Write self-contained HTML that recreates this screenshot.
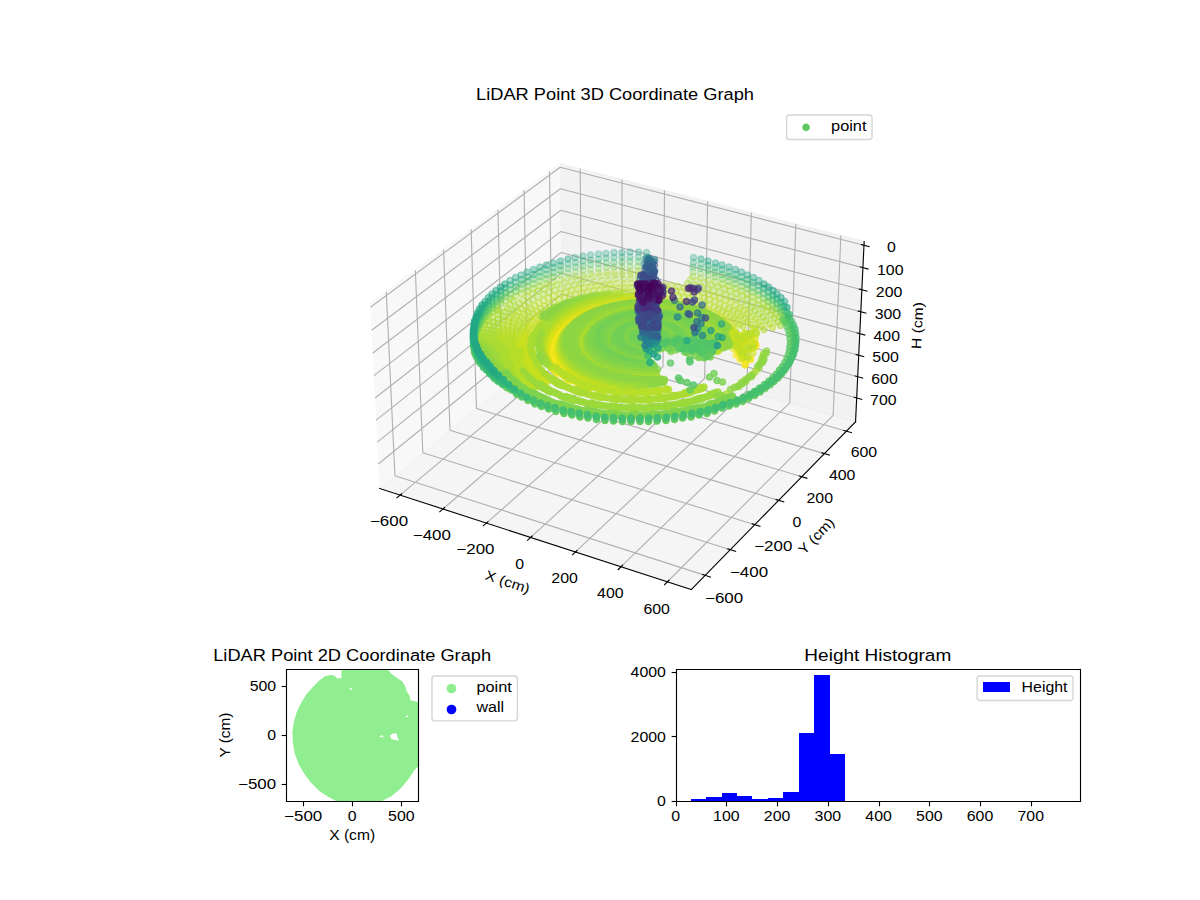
<!DOCTYPE html>
<html><head><meta charset="utf-8"><title>LiDAR Point Graphs</title><style>html,body{margin:0;padding:0;background:#fff;width:1200px;height:900px;overflow:hidden}
.a{fill:#aadc32;stroke:#aadc32;fill-opacity:0.3;stroke-opacity:0.3}
.b{fill:#7fd34e;stroke:#7fd34e;fill-opacity:0.3;stroke-opacity:0.3}
.c{fill:#50c46a;stroke:#50c46a;fill-opacity:0.3;stroke-opacity:0.3}
.d{fill:#32b67a;stroke:#32b67a;fill-opacity:0.3;stroke-opacity:0.3}
.e{fill:#22a785;stroke:#22a785;fill-opacity:0.3;stroke-opacity:0.3}
.f{fill:#b8de29;stroke:#b8de29;fill-opacity:0.3;stroke-opacity:0.3}
.g{fill:#50c46a;stroke:#50c46a;fill-opacity:0.4;stroke-opacity:0.4}
.h{fill:#b8de29;stroke:#b8de29;fill-opacity:0.4;stroke-opacity:0.4}
.i{fill:#aadc32;stroke:#aadc32;fill-opacity:0.4;stroke-opacity:0.4}
.j{fill:#7fd34e;stroke:#7fd34e;fill-opacity:0.4;stroke-opacity:0.4}
.k{fill:#22a785;stroke:#22a785;fill-opacity:0.4;stroke-opacity:0.4}
.l{fill:#32b67a;stroke:#32b67a;fill-opacity:0.4;stroke-opacity:0.4}
.m{fill:#c8e020;stroke:#c8e020;fill-opacity:0.4;stroke-opacity:0.4}
.n{fill:#d5e21a;stroke:#d5e21a;fill-opacity:0.4;stroke-opacity:0.4}
.o{fill:#e5e419;stroke:#e5e419;fill-opacity:0.4;stroke-opacity:0.4}
.p{fill:#fde725;stroke:#fde725;fill-opacity:0.4;stroke-opacity:0.4}
.q{fill:#9bd93c;stroke:#9bd93c;fill-opacity:0.4;stroke-opacity:0.4}
.r{fill:#f1e51d;stroke:#f1e51d;fill-opacity:0.4;stroke-opacity:0.4}
.s{fill:#8ed645;stroke:#8ed645;fill-opacity:0.4;stroke-opacity:0.4}
.t{fill:#277e8e;stroke:#277e8e;fill-opacity:0.4;stroke-opacity:0.4}
.u{fill:#73d056;stroke:#73d056;fill-opacity:0.4;stroke-opacity:0.4}
.v{fill:#29798e;stroke:#29798e;fill-opacity:0.4;stroke-opacity:0.4}
.w{fill:#2b748e;stroke:#2b748e;fill-opacity:0.4;stroke-opacity:0.4}
.x{fill:#9bd93c;stroke:#9bd93c;fill-opacity:0.5;stroke-opacity:0.5}
.y{fill:#8ed645;stroke:#8ed645;fill-opacity:0.5;stroke-opacity:0.5}
.z{fill:#2b748e;stroke:#2b748e;fill-opacity:0.5;stroke-opacity:0.5}
.A{fill:#d5e21a;stroke:#d5e21a;fill-opacity:0.5;stroke-opacity:0.5}
.B{fill:#aadc32;stroke:#aadc32;fill-opacity:0.5;stroke-opacity:0.5}
.C{fill:#c8e020;stroke:#c8e020;fill-opacity:0.5;stroke-opacity:0.5}
.D{fill:#f1e51d;stroke:#f1e51d;fill-opacity:0.5;stroke-opacity:0.5}
.E{fill:#fde725;stroke:#fde725;fill-opacity:0.5;stroke-opacity:0.5}
.F{fill:#50c46a;stroke:#50c46a;fill-opacity:0.5;stroke-opacity:0.5}
.G{fill:#e5e419;stroke:#e5e419;fill-opacity:0.5;stroke-opacity:0.5}
.H{fill:#b8de29;stroke:#b8de29;fill-opacity:0.5;stroke-opacity:0.5}
.I{fill:#2e6f8e;stroke:#2e6f8e;fill-opacity:0.5;stroke-opacity:0.5}
.J{fill:#306a8e;stroke:#306a8e;fill-opacity:0.5;stroke-opacity:0.5}
.K{fill:#32b67a;stroke:#32b67a;fill-opacity:0.5;stroke-opacity:0.5}
.L{fill:#7fd34e;stroke:#7fd34e;fill-opacity:0.5;stroke-opacity:0.5}
.M{fill:#67cc5c;stroke:#67cc5c;fill-opacity:0.5;stroke-opacity:0.5}
.N{fill:#22a785;stroke:#22a785;fill-opacity:0.5;stroke-opacity:0.5}
.O{fill:#44bf70;stroke:#44bf70;fill-opacity:0.5;stroke-opacity:0.5}
.P{fill:#2cb17e;stroke:#2cb17e;fill-opacity:0.5;stroke-opacity:0.5}
.Q{fill:#355f8d;stroke:#355f8d;fill-opacity:0.5;stroke-opacity:0.5}
.R{fill:#32648e;stroke:#32648e;fill-opacity:0.5;stroke-opacity:0.5}
.S{fill:#5ac864;stroke:#5ac864;fill-opacity:0.5;stroke-opacity:0.5}
.T{fill:#73d056;stroke:#73d056;fill-opacity:0.5;stroke-opacity:0.5}
.U{fill:#3a538b;stroke:#3a538b;fill-opacity:0.5;stroke-opacity:0.5}
.V{fill:#3bbb75;stroke:#3bbb75;fill-opacity:0.5;stroke-opacity:0.5}
.W{fill:#38598c;stroke:#38598c;fill-opacity:0.5;stroke-opacity:0.5}
.X{fill:#aadc32;stroke:#aadc32;fill-opacity:0.6;stroke-opacity:0.6}
.Y{fill:#7fd34e;stroke:#7fd34e;fill-opacity:0.6;stroke-opacity:0.6}
.Z{fill:#8ed645;stroke:#8ed645;fill-opacity:0.6;stroke-opacity:0.6}
.aa{fill:#73d056;stroke:#73d056;fill-opacity:0.6;stroke-opacity:0.6}
.ab{fill:#e5e419;stroke:#e5e419;fill-opacity:0.6;stroke-opacity:0.6}
.ac{fill:#9bd93c;stroke:#9bd93c;fill-opacity:0.6;stroke-opacity:0.6}
.ad{fill:#b8de29;stroke:#b8de29;fill-opacity:0.6;stroke-opacity:0.6}
.ae{fill:#d5e21a;stroke:#d5e21a;fill-opacity:0.6;stroke-opacity:0.6}
.af{fill:#3a538b;stroke:#3a538b;fill-opacity:0.6;stroke-opacity:0.6}
.ag{fill:#2cb17e;stroke:#2cb17e;fill-opacity:0.6;stroke-opacity:0.6}
.ah{fill:#5ac864;stroke:#5ac864;fill-opacity:0.6;stroke-opacity:0.6}
.ai{fill:#fde725;stroke:#fde725;fill-opacity:0.6;stroke-opacity:0.6}
.aj{fill:#c8e020;stroke:#c8e020;fill-opacity:0.6;stroke-opacity:0.6}
.ak{fill:#25ac82;stroke:#25ac82;fill-opacity:0.6;stroke-opacity:0.6}
.al{fill:#355f8d;stroke:#355f8d;fill-opacity:0.6;stroke-opacity:0.6}
.am{fill:#f1e51d;stroke:#f1e51d;fill-opacity:0.6;stroke-opacity:0.6}
.an{fill:#22a785;stroke:#22a785;fill-opacity:0.6;stroke-opacity:0.6}
.ao{fill:#306a8e;stroke:#306a8e;fill-opacity:0.6;stroke-opacity:0.6}
.ap{fill:#3d4d8a;stroke:#3d4d8a;fill-opacity:0.6;stroke-opacity:0.6}
.aq{fill:#67cc5c;stroke:#67cc5c;fill-opacity:0.6;stroke-opacity:0.6}
.ar{fill:#44bf70;stroke:#44bf70;fill-opacity:0.6;stroke-opacity:0.6}
.as{fill:#38598c;stroke:#38598c;fill-opacity:0.6;stroke-opacity:0.6}
.at{fill:#3bbb75;stroke:#3bbb75;fill-opacity:0.6;stroke-opacity:0.6}
.au{fill:#32b67a;stroke:#32b67a;fill-opacity:0.6;stroke-opacity:0.6}
.av{fill:#3f4788;stroke:#3f4788;fill-opacity:0.6;stroke-opacity:0.6}
.aw{fill:#50c46a;stroke:#50c46a;fill-opacity:0.6;stroke-opacity:0.6}
.ax{fill:#424186;stroke:#424186;fill-opacity:0.6;stroke-opacity:0.6}
.ay{fill:#2e6f8e;stroke:#2e6f8e;fill-opacity:0.6;stroke-opacity:0.6}
.az{fill:#443a83;stroke:#443a83;fill-opacity:0.6;stroke-opacity:0.6}
.aA{fill:#463480;stroke:#463480;fill-opacity:0.6;stroke-opacity:0.6}
.aB{fill:#1fa287;stroke:#1fa287;fill-opacity:0.6;stroke-opacity:0.6}
.aC{fill:#472d7b;stroke:#472d7b;fill-opacity:0.6;stroke-opacity:0.6}
.aD{fill:#7fd34e;stroke:#7fd34e;fill-opacity:0.7;stroke-opacity:0.7}
.aE{fill:#c8e020;stroke:#c8e020;fill-opacity:0.7;stroke-opacity:0.7}
.aF{fill:#aadc32;stroke:#aadc32;fill-opacity:0.7;stroke-opacity:0.7}
.aG{fill:#9bd93c;stroke:#9bd93c;fill-opacity:0.7;stroke-opacity:0.7}
.aH{fill:#73d056;stroke:#73d056;fill-opacity:0.7;stroke-opacity:0.7}
.aI{fill:#424186;stroke:#424186;fill-opacity:0.7;stroke-opacity:0.7}
.aJ{fill:#50c46a;stroke:#50c46a;fill-opacity:0.7;stroke-opacity:0.7}
.aK{fill:#f1e51d;stroke:#f1e51d;fill-opacity:0.7;stroke-opacity:0.7}
.aL{fill:#472d7b;stroke:#472d7b;fill-opacity:0.7;stroke-opacity:0.7}
.aM{fill:#67cc5c;stroke:#67cc5c;fill-opacity:0.7;stroke-opacity:0.7}
.aN{fill:#3bbb75;stroke:#3bbb75;fill-opacity:0.7;stroke-opacity:0.7}
.aO{fill:#b8de29;stroke:#b8de29;fill-opacity:0.7;stroke-opacity:0.7}
.aP{fill:#3d4d8a;stroke:#3d4d8a;fill-opacity:0.7;stroke-opacity:0.7}
.aQ{fill:#8ed645;stroke:#8ed645;fill-opacity:0.7;stroke-opacity:0.7}
.aR{fill:#5ac864;stroke:#5ac864;fill-opacity:0.7;stroke-opacity:0.7}
.aS{fill:#443a83;stroke:#443a83;fill-opacity:0.7;stroke-opacity:0.7}
.aT{fill:#fde725;stroke:#fde725;fill-opacity:0.7;stroke-opacity:0.7}
.aU{fill:#e5e419;stroke:#e5e419;fill-opacity:0.7;stroke-opacity:0.7}
.aV{fill:#306a8e;stroke:#306a8e;fill-opacity:0.7;stroke-opacity:0.7}
.aW{fill:#3f4788;stroke:#3f4788;fill-opacity:0.7;stroke-opacity:0.7}
.aX{fill:#32b67a;stroke:#32b67a;fill-opacity:0.7;stroke-opacity:0.7}
.aY{fill:#d5e21a;stroke:#d5e21a;fill-opacity:0.7;stroke-opacity:0.7}
.aZ{fill:#482677;stroke:#482677;fill-opacity:0.7;stroke-opacity:0.7}
.ba{fill:#2cb17e;stroke:#2cb17e;fill-opacity:0.7;stroke-opacity:0.7}
.bb{fill:#25ac82;stroke:#25ac82;fill-opacity:0.7;stroke-opacity:0.7}
.bc{fill:#481f70;stroke:#481f70;fill-opacity:0.7;stroke-opacity:0.7}
.bd{fill:#22a785;stroke:#22a785;fill-opacity:0.7;stroke-opacity:0.7}
.be{fill:#25838e;stroke:#25838e;fill-opacity:0.7;stroke-opacity:0.7}
.bf{fill:#38598c;stroke:#38598c;fill-opacity:0.7;stroke-opacity:0.7}
.bg{fill:#3a538b;stroke:#3a538b;fill-opacity:0.7;stroke-opacity:0.7}
.bh{fill:#48186a;stroke:#48186a;fill-opacity:0.7;stroke-opacity:0.7}
.bi{fill:#44bf70;stroke:#44bf70;fill-opacity:0.7;stroke-opacity:0.7}
.bj{fill:#2b748e;stroke:#2b748e;fill-opacity:0.7;stroke-opacity:0.7}
.bk{fill:#471063;stroke:#471063;fill-opacity:0.7;stroke-opacity:0.7}
.bl{fill:#355f8d;stroke:#355f8d;fill-opacity:0.7;stroke-opacity:0.7}
.bm{fill:#463480;stroke:#463480;fill-opacity:0.7;stroke-opacity:0.7}
.bn{fill:#2e6f8e;stroke:#2e6f8e;fill-opacity:0.7;stroke-opacity:0.7}
.bo{fill:#1f988b;stroke:#1f988b;fill-opacity:0.7;stroke-opacity:0.7}
.bp{fill:#46085c;stroke:#46085c;fill-opacity:0.7;stroke-opacity:0.7}
.bq{fill:#32648e;stroke:#32648e;fill-opacity:0.7;stroke-opacity:0.7}
.br{fill:#1fa287;stroke:#1fa287;fill-opacity:0.7;stroke-opacity:0.7}
.bs{fill:#440154;stroke:#440154;fill-opacity:0.7;stroke-opacity:0.7}
.bt{fill:#29798e;stroke:#29798e;fill-opacity:0.7;stroke-opacity:0.7}
.bu{fill:#23888e;stroke:#23888e;fill-opacity:0.7;stroke-opacity:0.7}
.bv{fill:#277e8e;stroke:#277e8e;fill-opacity:0.7;stroke-opacity:0.7}
.bw{fill:#218e8d;stroke:#218e8d;fill-opacity:0.7;stroke-opacity:0.7}
.bx{fill:#20928c;stroke:#20928c;fill-opacity:0.7;stroke-opacity:0.7}
.by{fill:#8ed645;stroke:#8ed645;fill-opacity:0.8;stroke-opacity:0.8}
.bz{fill:#b8de29;stroke:#b8de29;fill-opacity:0.8;stroke-opacity:0.8}
.bA{fill:#3f4788;stroke:#3f4788;fill-opacity:0.8;stroke-opacity:0.8}
.bB{fill:#aadc32;stroke:#aadc32;fill-opacity:0.8;stroke-opacity:0.8}
.bC{fill:#c8e020;stroke:#c8e020;fill-opacity:0.8;stroke-opacity:0.8}
.bD{fill:#22a785;stroke:#22a785;fill-opacity:0.8;stroke-opacity:0.8}
.bE{fill:#306a8e;stroke:#306a8e;fill-opacity:0.8;stroke-opacity:0.8}
.bF{fill:#23888e;stroke:#23888e;fill-opacity:0.8;stroke-opacity:0.8}
.bG{fill:#48186a;stroke:#48186a;fill-opacity:0.8;stroke-opacity:0.8}
.bH{fill:#e5e419;stroke:#e5e419;fill-opacity:0.8;stroke-opacity:0.8}
.bI{fill:#9bd93c;stroke:#9bd93c;fill-opacity:0.8;stroke-opacity:0.8}
.bJ{fill:#3a538b;stroke:#3a538b;fill-opacity:0.8;stroke-opacity:0.8}
.bK{fill:#1f988b;stroke:#1f988b;fill-opacity:0.8;stroke-opacity:0.8}
.bL{fill:#50c46a;stroke:#50c46a;fill-opacity:0.8;stroke-opacity:0.8}
.bM{fill:#f1e51d;stroke:#f1e51d;fill-opacity:0.8;stroke-opacity:0.8}
.bN{fill:#7fd34e;stroke:#7fd34e;fill-opacity:0.8;stroke-opacity:0.8}
.bO{fill:#3d4d8a;stroke:#3d4d8a;fill-opacity:0.8;stroke-opacity:0.8}
.bP{fill:#277e8e;stroke:#277e8e;fill-opacity:0.8;stroke-opacity:0.8}
.bQ{fill:#471063;stroke:#471063;fill-opacity:0.8;stroke-opacity:0.8}
.bR{fill:#5ac864;stroke:#5ac864;fill-opacity:0.8;stroke-opacity:0.8}
.bS{fill:#1e9d89;stroke:#1e9d89;fill-opacity:0.8;stroke-opacity:0.8}
.bT{fill:#44bf70;stroke:#44bf70;fill-opacity:0.8;stroke-opacity:0.8}
.bU{fill:#46085c;stroke:#46085c;fill-opacity:0.8;stroke-opacity:0.8}
.bV{fill:#2b748e;stroke:#2b748e;fill-opacity:0.8;stroke-opacity:0.8}
.bW{fill:#355f8d;stroke:#355f8d;fill-opacity:0.8;stroke-opacity:0.8}
.bX{fill:#3bbb75;stroke:#3bbb75;fill-opacity:0.8;stroke-opacity:0.8}
.bY{fill:#73d056;stroke:#73d056;fill-opacity:0.8;stroke-opacity:0.8}
.bZ{fill:#29798e;stroke:#29798e;fill-opacity:0.8;stroke-opacity:0.8}
.ca{fill:#32b67a;stroke:#32b67a;fill-opacity:0.8;stroke-opacity:0.8}
.cb{fill:#67cc5c;stroke:#67cc5c;fill-opacity:0.8;stroke-opacity:0.8}
.cc{fill:#2e6f8e;stroke:#2e6f8e;fill-opacity:0.8;stroke-opacity:0.8}
.cd{fill:#2cb17e;stroke:#2cb17e;fill-opacity:0.8;stroke-opacity:0.8}
.ce{fill:#38598c;stroke:#38598c;fill-opacity:0.8;stroke-opacity:0.8}
.cf{fill:#25ac82;stroke:#25ac82;fill-opacity:0.8;stroke-opacity:0.8}
.cg{fill:#32648e;stroke:#32648e;fill-opacity:0.8;stroke-opacity:0.8}
.ch{fill:#aadc32;stroke:#aadc32;fill-opacity:0.9;stroke-opacity:0.9}
.ci{fill:#9bd93c;stroke:#9bd93c;fill-opacity:0.9;stroke-opacity:0.9}
.cj{fill:#50c46a;stroke:#50c46a;fill-opacity:0.9;stroke-opacity:0.9}
.ck{fill:#7fd34e;stroke:#7fd34e;fill-opacity:0.9;stroke-opacity:0.9}
.cl{fill:#8ed645;stroke:#8ed645;fill-opacity:0.9;stroke-opacity:0.9}
.cm{fill:#67cc5c;stroke:#67cc5c;fill-opacity:0.9;stroke-opacity:0.9}
.cn{fill:#44bf70;stroke:#44bf70;fill-opacity:0.9;stroke-opacity:0.9}
.co{fill:#3bbb75;stroke:#3bbb75;fill-opacity:0.9;stroke-opacity:0.9}
.cp{fill:#32b67a;stroke:#32b67a;fill-opacity:0.9;stroke-opacity:0.9}
.cq{fill:#5ac864;stroke:#5ac864;fill-opacity:0.9;stroke-opacity:0.9}
.cr{fill:#2cb17e;stroke:#2cb17e;fill-opacity:0.9;stroke-opacity:0.9}
.cs{fill:#5ac864;stroke:#5ac864;fill-opacity:1.0;stroke-opacity:1.0}
.ct{fill:#67cc5c;stroke:#67cc5c;fill-opacity:1.0;stroke-opacity:1.0}
.cu{fill:#44bf70;stroke:#44bf70;fill-opacity:1.0;stroke-opacity:1.0}
.cv{fill:#50c46a;stroke:#50c46a;fill-opacity:1.0;stroke-opacity:1.0}</style></head><body>
<svg width="1200" height="900" viewBox="0 0 864 648" style="display:block">
<defs>
<style type="text/css">*{stroke-linejoin: round; stroke-linecap: butt}</style>
</defs>
<g id="figure_1">
<g id="patch_1">
<path d="M 0.00 648.00 L 864.00 648.00 L 864.00 0.00 L 0.00 0.00 z" style="fill: #ffffff"/>
</g>
<g id="patch_2">
<path d="M 252.72 457.92 L 632.88 457.92 L 632.88 77.76 L 252.72 77.76 z" style="fill: #ffffff"/>
</g>
<g id="pane3d_1">
<g id="patch_3">
<path d="M 266.60 218.44 
L 403.28 117.81 
L 404.79 243.12 
L 273.31 351.69 
" style="fill: #f2f2f2; opacity: 0.5; stroke: #f2f2f2; stroke-linejoin: miter"/>
</g>
</g>
<g id="pane3d_2">
<g id="patch_4">
<path d="M 403.28 117.81 
L 622.19 173.89 
L 615.99 303.72 
L 404.79 243.12 
" style="fill: #e6e6e6; opacity: 0.5; stroke: #e6e6e6; stroke-linejoin: miter"/>
</g>
</g>
<g id="pane3d_3">
<g id="patch_5">
<path d="M 273.31 351.69 
L 497.78 424.44 
L 615.99 303.72 
L 404.79 243.12 
" style="fill: #ececec; opacity: 0.5; stroke: #ececec; stroke-linejoin: miter"/>
</g>
</g>
<g id="grid3d_1">
<g id="Line3DCollection_1">
<path d="M 288.08 356.48 
L 418.76 247.13 
L 417.73 121.51 
" style="fill: none; stroke: #b0b0b0; stroke-width: 0.8"/>
<path d="M 318.91 366.47 
L 447.86 255.48 
L 447.86 129.23 
" style="fill: none; stroke: #b0b0b0; stroke-width: 0.8"/>
<path d="M 350.22 376.62 
L 477.39 263.95 
L 478.44 137.06 
" style="fill: none; stroke: #b0b0b0; stroke-width: 0.8"/>
<path d="M 382.03 386.93 
L 507.34 272.54 
L 509.48 145.01 
" style="fill: none; stroke: #b0b0b0; stroke-width: 0.8"/>
<path d="M 414.34 397.40 
L 537.73 281.26 
L 540.98 153.08 
" style="fill: none; stroke: #b0b0b0; stroke-width: 0.8"/>
<path d="M 447.18 408.04 
L 568.57 290.11 
L 572.97 161.28 
" style="fill: none; stroke: #b0b0b0; stroke-width: 0.8"/>
<path d="M 480.55 418.86 
L 599.86 299.09 
L 605.44 169.60 
" style="fill: none; stroke: #b0b0b0; stroke-width: 0.8"/>
</g>
</g>
<g id="grid3d_2">
<g id="Line3DCollection_2">
<path d="M 278.12 209.96 
L 284.36 342.57 
L 507.76 414.25 
" style="fill: none; stroke: #b0b0b0; stroke-width: 0.8"/>
<path d="M 299.04 194.56 
L 304.43 325.99 
L 525.87 395.76 
" style="fill: none; stroke: #b0b0b0; stroke-width: 0.8"/>
<path d="M 319.40 179.57 
L 323.99 309.84 
L 543.48 377.76 
" style="fill: none; stroke: #b0b0b0; stroke-width: 0.8"/>
<path d="M 339.22 164.97 
L 343.05 294.10 
L 560.63 360.26 
" style="fill: none; stroke: #b0b0b0; stroke-width: 0.8"/>
<path d="M 358.52 150.76 
L 361.63 278.76 
L 577.32 343.21 
" style="fill: none; stroke: #b0b0b0; stroke-width: 0.8"/>
<path d="M 377.32 136.92 
L 379.75 263.79 
L 593.57 326.62 
" style="fill: none; stroke: #b0b0b0; stroke-width: 0.8"/>
<path d="M 395.65 123.43 
L 397.43 249.20 
L 609.40 310.45 
" style="fill: none; stroke: #b0b0b0; stroke-width: 0.8"/>
</g>
</g>
<g id="grid3d_3">
<g id="Line3DCollection_3">
<path d="M 622.06 176.58 
L 403.31 120.40 
L 266.74 221.20 
" style="fill: none; stroke: #b0b0b0; stroke-width: 0.8"/>
<path d="M 621.29 192.70 
L 403.50 135.93 
L 267.57 237.77 
" style="fill: none; stroke: #b0b0b0; stroke-width: 0.8"/>
<path d="M 620.53 208.68 
L 403.69 151.34 
L 268.40 254.18 
" style="fill: none; stroke: #b0b0b0; stroke-width: 0.8"/>
<path d="M 619.77 224.51 
L 403.87 166.62 
L 269.22 270.45 
" style="fill: none; stroke: #b0b0b0; stroke-width: 0.8"/>
<path d="M 619.02 240.21 
L 404.05 181.77 
L 270.03 286.56 
" style="fill: none; stroke: #b0b0b0; stroke-width: 0.8"/>
<path d="M 618.28 255.78 
L 404.23 196.79 
L 270.83 302.53 
" style="fill: none; stroke: #b0b0b0; stroke-width: 0.8"/>
<path d="M 617.54 271.20 
L 404.41 211.69 
L 271.63 318.36 
" style="fill: none; stroke: #b0b0b0; stroke-width: 0.8"/>
<path d="M 616.81 286.50 
L 404.59 226.47 
L 272.42 334.04 
" style="fill: none; stroke: #b0b0b0; stroke-width: 0.8"/>
</g>
</g>
<g id="axis3d_1">
<g id="line2d_1">
<path d="M 273.31 351.69 
L 497.78 424.44 
" style="fill: none; stroke: #000000; stroke-width: 0.8; stroke-linecap: square"/>
</g>
<g id="xtick_1">
<g id="line2d_2">
<path d="M 289.22 355.52 
L 285.79 358.40 
" style="fill: none; stroke: #000000; stroke-width: 0.8; stroke-linecap: square"/>
</g>
<g id="text_1">
<text style="font-size: 10px; font-family: 'Liberation Sans', sans-serif; text-anchor: middle" x="280.10" y="378.54" transform="rotate(-0 280.10 378.54)" textLength="27.47" lengthAdjust="spacingAndGlyphs">−600</text>
</g>
</g>
<g id="xtick_2">
<g id="line2d_3">
<path d="M 320.04 365.50 
L 316.65 368.42 
" style="fill: none; stroke: #000000; stroke-width: 0.8; stroke-linecap: square"/>
</g>
<g id="text_2">
<text style="font-size: 10px; font-family: 'Liberation Sans', sans-serif; text-anchor: middle" x="310.97" y="388.68" transform="rotate(-0 310.97 388.68)" textLength="27.47" lengthAdjust="spacingAndGlyphs">−400</text>
</g>
</g>
<g id="xtick_3">
<g id="line2d_4">
<path d="M 351.33 375.63 
L 347.99 378.60 
" style="fill: none; stroke: #000000; stroke-width: 0.8; stroke-linecap: square"/>
</g>
<g id="text_3">
<text style="font-size: 10px; font-family: 'Liberation Sans', sans-serif; text-anchor: middle" x="342.32" y="398.98" transform="rotate(-0 342.32 398.98)" textLength="27.47" lengthAdjust="spacingAndGlyphs">−200</text>
</g>
</g>
<g id="xtick_4">
<g id="line2d_5">
<path d="M 383.12 385.93 
L 379.83 388.94 
" style="fill: none; stroke: #000000; stroke-width: 0.8; stroke-linecap: square"/>
</g>
<g id="text_4">
<text style="font-size: 10px; font-family: 'Liberation Sans', sans-serif; text-anchor: middle" x="374.17" y="409.44" transform="rotate(-0 374.17 409.44)" textLength="6.36" lengthAdjust="spacingAndGlyphs">0</text>
</g>
</g>
<g id="xtick_5">
<g id="line2d_6">
<path d="M 415.43 396.38 
L 412.18 399.44 
" style="fill: none; stroke: #000000; stroke-width: 0.8; stroke-linecap: square"/>
</g>
<g id="text_5">
<text style="font-size: 10px; font-family: 'Liberation Sans', sans-serif; text-anchor: middle" x="406.53" y="420.07" transform="rotate(-0 406.53 420.07)" textLength="19.09" lengthAdjust="spacingAndGlyphs">200</text>
</g>
</g>
<g id="xtick_6">
<g id="line2d_7">
<path d="M 448.25 407.01 
L 445.05 410.12 
" style="fill: none; stroke: #000000; stroke-width: 0.8; stroke-linecap: square"/>
</g>
<g id="text_6">
<text style="font-size: 10px; font-family: 'Liberation Sans', sans-serif; text-anchor: middle" x="439.42" y="430.87" transform="rotate(-0 439.42 430.87)" textLength="19.09" lengthAdjust="spacingAndGlyphs">400</text>
</g>
</g>
<g id="xtick_7">
<g id="line2d_8">
<path d="M 481.60 417.81 
L 478.45 420.97 
" style="fill: none; stroke: #000000; stroke-width: 0.8; stroke-linecap: square"/>
</g>
<g id="text_7">
<text style="font-size: 10px; font-family: 'Liberation Sans', sans-serif; text-anchor: middle" x="472.84" y="441.84" transform="rotate(-0 472.84 441.84)" textLength="19.09" lengthAdjust="spacingAndGlyphs">600</text>
</g>
</g>
<g id="text_8">
<text style="font-size: 10px; font-family: 'Liberation Sans', sans-serif; text-anchor: middle" x="364.43" y="422.23" transform="rotate(-342.04 364.43 422.23)" textLength="33.07" lengthAdjust="spacingAndGlyphs">X (cm)</text>
</g>
</g>
<g id="axis3d_2">
<g id="line2d_9">
<path d="M 615.99 303.72 
L 497.78 424.44 
" style="fill: none; stroke: #000000; stroke-width: 0.8; stroke-linecap: square"/>
</g>
<g id="xtick_8">
<g id="line2d_10">
<path d="M 505.87 413.65 
L 511.54 415.46 
" style="fill: none; stroke: #000000; stroke-width: 0.8; stroke-linecap: square"/>
</g>
<g id="text_9">
<text style="font-size: 10px; font-family: 'Liberation Sans', sans-serif; text-anchor: middle" x="521.34" y="433.94" transform="rotate(-0 521.34 433.94)" textLength="27.47" lengthAdjust="spacingAndGlyphs">−600</text>
</g>
</g>
<g id="xtick_9">
<g id="line2d_11">
<path d="M 524.00 395.17 
L 529.61 396.94 
" style="fill: none; stroke: #000000; stroke-width: 0.8; stroke-linecap: square"/>
</g>
<g id="text_10">
<text style="font-size: 10px; font-family: 'Liberation Sans', sans-serif; text-anchor: middle" x="539.29" y="415.26" transform="rotate(-0 539.29 415.26)" textLength="27.47" lengthAdjust="spacingAndGlyphs">−400</text>
</g>
</g>
<g id="xtick_10">
<g id="line2d_12">
<path d="M 541.63 377.19 
L 547.19 378.91 
" style="fill: none; stroke: #000000; stroke-width: 0.8; stroke-linecap: square"/>
</g>
<g id="text_11">
<text style="font-size: 10px; font-family: 'Liberation Sans', sans-serif; text-anchor: middle" x="556.74" y="397.08" transform="rotate(-0 556.74 397.08)" textLength="27.47" lengthAdjust="spacingAndGlyphs">−200</text>
</g>
</g>
<g id="xtick_11">
<g id="line2d_13">
<path d="M 558.79 359.70 
L 564.30 361.37 
" style="fill: none; stroke: #000000; stroke-width: 0.8; stroke-linecap: square"/>
</g>
<g id="text_12">
<text style="font-size: 10px; font-family: 'Liberation Sans', sans-serif; text-anchor: middle" x="573.72" y="379.40" transform="rotate(-0 573.72 379.40)" textLength="6.36" lengthAdjust="spacingAndGlyphs">0</text>
</g>
</g>
<g id="xtick_12">
<g id="line2d_14">
<path d="M 575.50 342.67 
L 580.95 344.30 
" style="fill: none; stroke: #000000; stroke-width: 0.8; stroke-linecap: square"/>
</g>
<g id="text_13">
<text style="font-size: 10px; font-family: 'Liberation Sans', sans-serif; text-anchor: middle" x="590.25" y="362.19" transform="rotate(-0 590.25 362.19)" textLength="19.09" lengthAdjust="spacingAndGlyphs">200</text>
</g>
</g>
<g id="xtick_13">
<g id="line2d_15">
<path d="M 591.77 326.09 
L 597.17 327.68 
" style="fill: none; stroke: #000000; stroke-width: 0.8; stroke-linecap: square"/>
</g>
<g id="text_14">
<text style="font-size: 10px; font-family: 'Liberation Sans', sans-serif; text-anchor: middle" x="606.35" y="345.43" transform="rotate(-0 606.35 345.43)" textLength="19.09" lengthAdjust="spacingAndGlyphs">400</text>
</g>
</g>
<g id="xtick_14">
<g id="line2d_16">
<path d="M 607.61 309.93 
L 612.97 311.48 
" style="fill: none; stroke: #000000; stroke-width: 0.8; stroke-linecap: square"/>
</g>
<g id="text_15">
<text style="font-size: 10px; font-family: 'Liberation Sans', sans-serif; text-anchor: middle" x="622.03" y="329.10" transform="rotate(-0 622.03 329.10)" textLength="19.09" lengthAdjust="spacingAndGlyphs">600</text>
</g>
</g>
<g id="text_16">
<text style="font-size: 10px; font-family: 'Liberation Sans', sans-serif; text-anchor: middle" x="590.14" y="388.33" transform="rotate(-45.60 590.14 388.33)" textLength="32.33" lengthAdjust="spacingAndGlyphs">Y (cm)</text>
</g>
</g>
<g id="axis3d_3">
<g id="line2d_17">
<path d="M 615.99 303.72 
L 622.19 173.89 
" style="fill: none; stroke: #000000; stroke-width: 0.8; stroke-linecap: square"/>
</g>
<g id="xtick_15">
<g id="line2d_18">
<path d="M 620.22 176.11 
L 625.76 177.53 
" style="fill: none; stroke: #000000; stroke-width: 0.8; stroke-linecap: square"/>
</g>
<g id="text_17">
<text style="font-size: 10px; font-family: 'Liberation Sans', sans-serif; text-anchor: middle" x="641.85" y="181.69" transform="rotate(-0 641.85 181.69)" textLength="6.36" lengthAdjust="spacingAndGlyphs">0</text>
</g>
</g>
<g id="xtick_16">
<g id="line2d_19">
<path d="M 619.46 192.22 
L 624.97 193.66 
" style="fill: none; stroke: #000000; stroke-width: 0.8; stroke-linecap: square"/>
</g>
<g id="text_18">
<text style="font-size: 10px; font-family: 'Liberation Sans', sans-serif; text-anchor: middle" x="641.00" y="197.79" transform="rotate(-0 641.00 197.79)" textLength="19.09" lengthAdjust="spacingAndGlyphs">100</text>
</g>
</g>
<g id="xtick_17">
<g id="line2d_20">
<path d="M 618.70 208.19 
L 624.19 209.64 
" style="fill: none; stroke: #000000; stroke-width: 0.8; stroke-linecap: square"/>
</g>
<g id="text_19">
<text style="font-size: 10px; font-family: 'Liberation Sans', sans-serif; text-anchor: middle" x="640.15" y="213.74" transform="rotate(-0 640.15 213.74)" textLength="19.09" lengthAdjust="spacingAndGlyphs">200</text>
</g>
</g>
<g id="xtick_18">
<g id="line2d_21">
<path d="M 617.96 224.03 
L 623.42 225.49 
" style="fill: none; stroke: #000000; stroke-width: 0.8; stroke-linecap: square"/>
</g>
<g id="text_20">
<text style="font-size: 10px; font-family: 'Liberation Sans', sans-serif; text-anchor: middle" x="639.31" y="229.55" transform="rotate(-0 639.31 229.55)" textLength="19.09" lengthAdjust="spacingAndGlyphs">300</text>
</g>
</g>
<g id="xtick_19">
<g id="line2d_22">
<path d="M 617.21 239.72 
L 622.65 241.20 
" style="fill: none; stroke: #000000; stroke-width: 0.8; stroke-linecap: square"/>
</g>
<g id="text_21">
<text style="font-size: 10px; font-family: 'Liberation Sans', sans-serif; text-anchor: middle" x="638.47" y="245.23" transform="rotate(-0 638.47 245.23)" textLength="19.09" lengthAdjust="spacingAndGlyphs">400</text>
</g>
</g>
<g id="xtick_20">
<g id="line2d_23">
<path d="M 616.48 255.28 
L 621.89 256.77 
" style="fill: none; stroke: #000000; stroke-width: 0.8; stroke-linecap: square"/>
</g>
<g id="text_22">
<text style="font-size: 10px; font-family: 'Liberation Sans', sans-serif; text-anchor: middle" x="637.65" y="260.77" transform="rotate(-0 637.65 260.77)" textLength="19.09" lengthAdjust="spacingAndGlyphs">500</text>
</g>
</g>
<g id="xtick_21">
<g id="line2d_24">
<path d="M 615.75 270.70 
L 621.14 272.21 
" style="fill: none; stroke: #000000; stroke-width: 0.8; stroke-linecap: square"/>
</g>
<g id="text_23">
<text style="font-size: 10px; font-family: 'Liberation Sans', sans-serif; text-anchor: middle" x="636.83" y="276.17" transform="rotate(-0 636.83 276.17)" textLength="19.09" lengthAdjust="spacingAndGlyphs">600</text>
</g>
</g>
<g id="xtick_22">
<g id="line2d_25">
<path d="M 615.03 285.99 
L 620.39 287.51 
" style="fill: none; stroke: #000000; stroke-width: 0.8; stroke-linecap: square"/>
</g>
<g id="text_24">
<text style="font-size: 10px; font-family: 'Liberation Sans', sans-serif; text-anchor: middle" x="636.02" y="291.45" transform="rotate(-0 636.02 291.45)" textLength="19.09" lengthAdjust="spacingAndGlyphs">700</text>
</g>
</g>
<g id="text_25">
<text style="font-size: 10px; font-family: 'Liberation Sans', sans-serif; text-anchor: middle" x="663.97" y="234.51" transform="rotate(-87.26 663.97 234.51)" textLength="33.74" lengthAdjust="spacingAndGlyphs">H (cm)</text>
</g>
</g>
<g id="axes_1">
<g id="Path3DCollection_1"><defs><circle id="d" r="6.21" stroke-width="2.78"/></defs><g id="sc3" transform="scale(.36)"><use href=#d x=1260 y=542 class=a /><use href=#d x=1276 y=542 class=a /><use href=#d x=1244 y=543 class=a /><use href=#d x=1292 y=543 class=a /><use href=#d x=1228 y=544 class=a /><use href=#d x=1213 y=545 class=a /><use href=#d x=1276 y=533 class=b /><use href=#d x=1260 y=533 class=b /><use href=#d x=1293 y=533 class=b /><use href=#d x=1244 y=533 class=b /><use href=#d x=1197 y=546 class=a /><use href=#d x=1228 y=534 class=b /><use href=#d x=1213 y=535 class=b /><use href=#d x=1260 y=523 class=c /><use href=#d x=1277 y=523 class=c /><use href=#d x=1181 y=548 class=a /><use href=#d x=1293 y=524 class=c /><use href=#d x=1244 y=524 class=c /><use href=#d x=1276 y=549 class=a /><use href=#d x=1261 y=549 class=a /><use href=#d x=1245 y=549 class=a /><use href=#d x=1292 y=549 class=a /><use href=#d x=1197 y=537 class=b /><use href=#d x=1228 y=525 class=c /><use href=#d x=1230 y=550 class=a /><use href=#d x=1213 y=526 class=c /><use href=#d x=1166 y=551 class=a /><use href=#d x=1215 y=551 class=a /><use href=#d x=1277 y=514 class=d /><use href=#d x=1260 y=514 class=d /><use href=#d x=1181 y=539 class=b /><use href=#d x=1244 y=514 class=d /><use href=#d x=1293 y=514 class=d /><use href=#d x=1197 y=527 class=c /><use href=#d x=1228 y=515 class=d /><use href=#d x=1200 y=552 class=a /><use href=#d x=1151 y=553 class=a /><use href=#d x=1386 y=553 class=a /><use href=#d x=1212 y=516 class=d /><use href=#d x=1166 y=541 class=b /><use href=#d x=1277 y=504 class=e /><use href=#d x=1260 y=504 class=e /><use href=#d x=1181 y=529 class=c /><use href=#d x=1244 y=505 class=e /><use href=#d x=1293 y=505 class=e /><use href=#d x=1185 y=554 class=a /><use href=#d x=1197 y=518 class=d /><use href=#d x=1228 y=505 class=e /><use href=#d x=1151 y=544 class=b /><use href=#d x=1386 y=544 class=b /><use href=#d x=1401 y=556 class=a /><use href=#d x=1136 y=556 class=a /><use href=#d x=1276 y=557 class=a /><use href=#d x=1261 y=557 class=a /><use href=#d x=1212 y=507 class=e /><use href=#d x=1166 y=532 class=c /><use href=#d x=1170 y=557 class=a /><use href=#d x=1290 y=558 class=a /><use href=#d x=1247 y=558 class=a /><use href=#d x=1181 y=520 class=d /><use href=#d x=1232 y=558 class=a /><use href=#d x=1197 y=508 class=e /><use href=#d x=1218 y=560 class=a /><use href=#d x=1386 y=534 class=c /><use href=#d x=1151 y=534 class=c /><use href=#d x=1156 y=559 class=a /><use href=#d x=1381 y=559 class=a /><use href=#d x=1136 y=547 class=b /><use href=#d x=1401 y=547 class=b /><use href=#d x=1166 y=522 class=d /><use href=#d x=1122 y=560 class=a /><use href=#d x=1416 y=560 class=a /><use href=#d x=1204 y=561 class=a /><use href=#d x=1181 y=510 class=e /><use href=#d x=1190 y=563 class=a /><use href=#d x=1387 y=525 class=d /><use href=#d x=1151 y=525 class=d /><use href=#d x=1401 y=537 class=c /><use href=#d x=1136 y=537 class=c /><use href=#d x=1395 y=562 class=a /><use href=#d x=1142 y=562 class=a /><use href=#d x=1166 y=512 class=e /><use href=#d x=1121 y=550 class=b /><use href=#d x=1416 y=550 class=b /><use href=#d x=1430 y=564 class=a /><use href=#d x=1107 y=564 class=a /><use href=#d x=1176 y=565 class=a /><use href=#d x=1262 y=566 class=f /><use href=#d x=1275 y=566 class=f /><use href=#d x=1248 y=567 class=f /><use href=#d x=1289 y=567 class=f /><use href=#d x=1303 y=567 class=f /><use href=#d x=1234 y=567 class=f /><use href=#d x=1150 y=515 class=e /><use href=#d x=1387 y=515 class=e /><use href=#d x=1136 y=528 class=d /><use href=#d x=1402 y=528 class=d /><use href=#d x=1128 y=565 class=a /><use href=#d x=1409 y=565 class=a /><use href=#d x=1416 y=541 class=g /><use href=#d x=1121 y=541 class=g /><use href=#d x=1221 y=568 class=h /><use href=#d x=1316 y=568 class=h /><use href=#d x=1375 y=567 class=i /><use href=#d x=1162 y=567 class=i /><use href=#d x=1107 y=554 class=j /><use href=#d x=1430 y=554 class=j /><use href=#d x=1208 y=570 class=h /><use href=#d x=1330 y=570 class=h /><use href=#d x=1094 y=568 class=i /><use href=#d x=1444 y=568 class=i /><use href=#d x=1136 y=518 class=k /><use href=#d x=1402 y=518 class=k /><use href=#d x=1121 y=531 class=l /><use href=#d x=1416 y=531 class=l /><use href=#d x=1343 y=571 class=h /><use href=#d x=1194 y=571 class=h /><use href=#d x=1149 y=570 class=i /><use href=#d x=1389 y=570 class=i /><use href=#d x=1114 y=569 class=i /><use href=#d x=1423 y=569 class=i /><use href=#d x=1107 y=545 class=g /><use href=#d x=1430 y=545 class=g /><use href=#d x=1444 y=558 class=j /><use href=#d x=1093 y=558 class=j /><use href=#d x=1181 y=573 class=h /><use href=#d x=1356 y=573 class=h /><use href=#d x=1262 y=575 class=h /><use href=#d x=1275 y=575 class=h /><use href=#d x=1121 y=522 class=k /><use href=#d x=1416 y=522 class=k /><use href=#d x=1288 y=575 class=h /><use href=#d x=1249 y=575 class=h /><use href=#d x=1402 y=573 class=i /><use href=#d x=1136 y=573 class=i /><use href=#d x=1457 y=572 class=i /><use href=#d x=1080 y=572 class=i /><use href=#d x=1107 y=535 class=l /><use href=#d x=1430 y=535 class=l /><use href=#d x=1237 y=576 class=h /><use href=#d x=1301 y=576 class=h /><use href=#d x=1101 y=573 class=i /><use href=#d x=1436 y=573 class=i /><use href=#d x=1168 y=576 class=h /><use href=#d x=1369 y=576 class=h /><use href=#d x=1224 y=577 class=h /><use href=#d x=1313 y=577 class=h /><use href=#d x=1093 y=549 class=g /><use href=#d x=1444 y=549 class=g /><use href=#d x=1211 y=578 class=h /><use href=#d x=1326 y=578 class=h /><use href=#d x=1457 y=563 class=j /><use href=#d x=1080 y=563 class=j /><use href=#d x=1107 y=526 class=k /><use href=#d x=1431 y=526 class=k /><use href=#d x=1123 y=577 class=i /><use href=#d x=1415 y=577 class=i /><use href=#d x=1382 y=578 class=h /><use href=#d x=1156 y=578 class=h /><use href=#d x=1199 y=580 class=h /><use href=#d x=1338 y=580 class=h /><use href=#d x=1093 y=539 class=l /><use href=#d x=1444 y=539 class=l /><use href=#d x=1470 y=577 class=i /><use href=#d x=1067 y=577 class=i /><use href=#d x=1088 y=578 class=i /><use href=#d x=1449 y=578 class=i /><use href=#d x=1187 y=582 class=h /><use href=#d x=1351 y=582 class=h /><use href=#d x=1080 y=553 class=g /><use href=#d x=1457 y=553 class=g /><use href=#d x=1394 y=581 class=h /><use href=#d x=1143 y=581 class=h /><use href=#d x=1275 y=584 class=h /><use href=#d x=1263 y=584 class=h /><use href=#d x=1427 y=581 class=i /><use href=#d x=1110 y=581 class=i /><use href=#d x=1251 y=584 class=h /><use href=#d x=1287 y=584 class=h /><use href=#d x=1093 y=530 class=k /><use href=#d x=1444 y=530 class=k /><use href=#d x=1470 y=568 class=j /><use href=#d x=1067 y=568 class=j /><use href=#d x=1299 y=585 class=h /><use href=#d x=1239 y=585 class=h /><use href=#d x=1175 y=584 class=h /><use href=#d x=1363 y=584 class=h /><use href=#d x=1227 y=586 class=h /><use href=#d x=1311 y=586 class=h /><use href=#d x=1080 y=544 class=l /><use href=#d x=1458 y=544 class=l /><use href=#d x=1461 y=582 class=i /><use href=#d x=1076 y=582 class=i /><use href=#d x=1131 y=585 class=h /><use href=#d x=1406 y=585 class=h /><use href=#d x=1322 y=587 class=h /><use href=#d x=1215 y=587 class=h /><use href=#d x=1482 y=582 class=i /><use href=#d x=1055 y=582 class=i /><use href=#d x=1375 y=586 class=h /><use href=#d x=1163 y=586 class=h /><use href=#d x=1470 y=558 class=g /><use href=#d x=1067 y=558 class=g /><use href=#d x=1098 y=585 class=i /><use href=#d x=1439 y=585 class=i /><use href=#d x=1204 y=588 class=h /><use href=#d x=1334 y=588 class=h /><use href=#d x=1458 y=534 class=k /><use href=#d x=1080 y=534 class=k /><use href=#d x=1483 y=573 class=j /><use href=#d x=1055 y=573 class=j /><use href=#d x=1345 y=590 class=h /><use href=#d x=1192 y=590 class=h /><use href=#d x=1151 y=589 class=h /><use href=#d x=1386 y=589 class=h /><use href=#d x=1418 y=588 class=h /><use href=#d x=1120 y=588 class=h /><use href=#d x=1471 y=549 class=l /><use href=#d x=1067 y=549 class=l /><use href=#d x=1274 y=593 class=m /><use href=#d x=1263 y=593 class=m /><use href=#d x=1473 y=587 class=i /><use href=#d x=1297 y=597 class=n /><use href=#d x=1291 y=597 class=n /><use href=#d x=1303 y=597 class=n /><use href=#d x=1285 y=593 class=m /><use href=#d x=1252 y=593 class=m /><use href=#d x=1285 y=597 class=n /><use href=#d x=1065 y=587 class=i /><use href=#d x=1273 y=591 class=h /><use href=#d x=1279 y=597 class=n /><use href=#d x=1357 y=592 class=h /><use href=#d x=1181 y=592 class=h /><use href=#d x=1295 y=603 class=o /><use href=#d x=1301 y=603 class=o /><use href=#d x=1289 y=603 class=o /><use href=#d x=1307 y=603 class=o /><use href=#d x=1267 y=591 class=h /><use href=#d x=1494 y=588 class=i /><use href=#d x=1297 y=594 class=m /><use href=#d x=1241 y=594 class=m /><use href=#d x=1273 y=597 class=n /><use href=#d x=1283 y=603 class=o /><use href=#d x=1313 y=603 class=o /><use href=#d x=1451 y=589 class=i /><use href=#d x=1087 y=589 class=i /><use href=#d x=1043 y=587 class=i /><use href=#d x=1277 y=604 class=o /><use href=#d x=1318 y=604 class=o /><use href=#d x=1268 y=598 class=n /><use href=#d x=1261 y=592 class=h /><use href=#d x=1483 y=563 class=g /><use href=#d x=1299 y=609 class=p /><use href=#d x=1293 y=609 class=p /><use href=#d x=1055 y=563 class=g /><use href=#d x=1305 y=609 class=p /><use href=#d x=1271 y=604 class=o /><use href=#d x=1287 y=609 class=p /><use href=#d x=1324 y=604 class=o /><use href=#d x=1311 y=609 class=p /><use href=#d x=1281 y=609 class=p /><use href=#d x=1308 y=595 class=m /><use href=#d x=1230 y=595 class=m /><use href=#d x=1262 y=598 class=n /><use href=#d x=1316 y=609 class=p /><use href=#d x=1255 y=592 class=h /><use href=#d x=1398 y=592 class=h /><use href=#d x=1140 y=592 class=h /><use href=#d x=1265 y=604 class=o /><use href=#d x=1275 y=609 class=p /><use href=#d x=1330 y=604 class=o /><use href=#d x=1245 y=588 class=i /><use href=#d x=1322 y=610 class=p /><use href=#d x=1471 y=539 class=k /><use href=#d x=1067 y=539 class=k /><use href=#d x=1256 y=599 class=n /><use href=#d x=1269 y=610 class=p /><use href=#d x=1259 y=605 class=o /><use href=#d x=1249 y=593 class=h /><use href=#d x=1336 y=605 class=o /><use href=#d x=1328 y=610 class=p /><use href=#d x=1295 y=613 class=p /><use href=#d x=1300 y=613 class=p /><use href=#d x=1108 y=592 class=h /><use href=#d x=1429 y=592 class=h /><use href=#d x=1289 y=613 class=p /><use href=#d x=1306 y=613 class=p /><use href=#d x=1263 y=610 class=p /><use href=#d x=1240 y=589 class=i /><use href=#d x=1219 y=596 class=m /><use href=#d x=1319 y=596 class=m /><use href=#d x=1250 y=599 class=n /><use href=#d x=1283 y=613 class=p /><use href=#d x=1312 y=613 class=p /><use href=#d x=1368 y=595 class=h /><use href=#d x=1170 y=595 class=h /><use href=#d x=1253 y=605 class=o /><use href=#d x=1334 y=611 class=p /><use href=#d x=1243 y=594 class=h /><use href=#d x=1277 y=613 class=p /><use href=#d x=1318 y=613 class=p /><use href=#d x=1257 y=611 class=p /><use href=#d x=1271 y=613 class=p /><use href=#d x=1324 y=613 class=p /><use href=#d x=1244 y=600 class=n /><use href=#d x=1340 y=611 class=p /><use href=#d x=1234 y=589 class=i /><use href=#d x=1248 y=606 class=o /><use href=#d x=1495 y=578 class=j /><use href=#d x=1238 y=594 class=h /><use href=#d x=1251 y=611 class=p /><use href=#d x=1265 y=614 class=p /><use href=#d x=1330 y=614 class=p /><use href=#d x=1043 y=578 class=j /><use href=#d x=1208 y=597 class=m /><use href=#d x=1329 y=597 class=m /><use href=#d x=1346 y=612 class=p /><use href=#d x=1483 y=554 class=l /><use href=#d x=1055 y=554 class=l /><use href=#d x=1239 y=601 class=n /><use href=#d x=1242 y=607 class=o /><use href=#d x=1259 y=614 class=p /><use href=#d x=1228 y=590 class=i /><use href=#d x=1336 y=614 class=p /><use href=#d x=1246 y=612 class=p /><use href=#d x=1296 y=614 class=p /><use href=#d x=1302 y=614 class=p /><use href=#d x=1232 y=595 class=h /><use href=#d x=1290 y=614 class=p /><use href=#d x=1308 y=614 class=p /><use href=#d x=1284 y=614 class=p /><use href=#d x=1218 y=588 class=q /><use href=#d x=1352 y=613 class=p /><use href=#d x=1314 y=614 class=p /><use href=#d x=1253 y=615 class=p /><use href=#d x=1342 y=615 class=p /><use href=#d x=1129 y=596 class=h /><use href=#d x=1409 y=596 class=h /><use href=#d x=1278 y=614 class=p /><use href=#d x=1233 y=602 class=n /><use href=#d x=1236 y=608 class=o /><use href=#d x=1320 y=615 class=p /><use href=#d x=1485 y=592 class=i /><use href=#d x=1240 y=613 class=p /><use href=#d x=1223 y=591 class=i /><use href=#d x=1272 y=615 class=p /><use href=#d x=1379 y=597 class=h /><use href=#d x=1159 y=597 class=h /><use href=#d x=1462 y=594 class=i /><use href=#d x=1226 y=596 class=h /><use href=#d x=1326 y=615 class=p /><use href=#d x=1248 y=616 class=p /><use href=#d x=1198 y=599 class=m /><use href=#d x=1340 y=599 class=m /><use href=#d x=1348 y=616 class=p /><use href=#d x=1357 y=613 class=p /><use href=#d x=1076 y=594 class=i /><use href=#d x=1266 y=615 class=p /><use href=#d x=1213 y=589 class=q /><use href=#d x=1054 y=593 class=i /><use href=#d x=1231 y=609 class=o /><use href=#d x=1227 y=603 class=n /><use href=#d x=1332 y=615 class=p /><use href=#d x=1234 y=614 class=p /><use href=#d x=1261 y=616 class=p /><use href=#d x=1217 y=592 class=i /><use href=#d x=1242 y=617 class=p /><use href=#d x=1506 y=594 class=i /><use href=#d x=1353 y=617 class=p /><use href=#d x=1221 y=597 class=h /><use href=#d x=1363 y=614 class=p /><use href=#d x=1495 y=569 class=g /><use href=#d x=1338 y=616 class=p /><use href=#d x=1440 y=596 class=h /><use href=#d x=1097 y=596 class=h /><use href=#d x=1043 y=568 class=g /><use href=#d x=1255 y=616 class=p /><use href=#d x=1032 y=592 class=i /><use href=#d x=1225 y=610 class=o /><use href=#d x=1222 y=604 class=n /><use href=#d x=1207 y=590 class=q /><use href=#d x=1229 y=615 class=p /><use href=#d x=1483 y=544 class=k /><use href=#d x=1054 y=544 class=k /><use href=#d x=1236 y=617 class=p /><use href=#d x=1344 y=617 class=p /><use href=#d x=1359 y=618 class=p /><use href=#d x=1297 y=613 class=r /><use href=#d x=1303 y=613 class=r /><use href=#d x=1291 y=613 class=r /><use href=#d x=1212 y=594 class=i /><use href=#d x=1350 y=601 class=m /><use href=#d x=1187 y=601 class=m /><use href=#d x=1309 y=613 class=r /><use href=#d x=1285 y=613 class=r /><use href=#d x=1249 y=617 class=p /><use href=#d x=1215 y=598 class=h /><use href=#d x=1315 y=613 class=r /><use href=#d x=1279 y=613 class=r /><use href=#d x=1219 y=611 class=o /><use href=#d x=1349 y=617 class=p /><use href=#d x=1321 y=614 class=r /><use href=#d x=1216 y=605 class=n /><use href=#d x=1273 y=614 class=r /><use href=#d x=1223 y=616 class=p /><use href=#d x=1389 y=600 class=h /><use href=#d x=1149 y=600 class=h /><use href=#d x=1231 y=618 class=p /><use href=#d x=1202 y=591 class=q /><use href=#d x=1365 y=618 class=p /><use href=#d x=1243 y=618 class=p /><use href=#d x=1327 y=614 class=r /><use href=#d x=1267 y=614 class=r /><use href=#d x=1118 y=599 class=h /><use href=#d x=1419 y=599 class=h /><use href=#d x=1206 y=595 class=i /><use href=#d x=1210 y=600 class=h /><use href=#d x=1355 y=618 class=p /><use href=#d x=1192 y=590 class=s /><use href=#d x=1333 y=614 class=r /><use href=#d x=1295 y=517 class=t /><use href=#d x=1261 y=615 class=r /><use href=#d x=1309 y=519 class=t /><use href=#d x=1214 y=612 class=o /><use href=#d x=1238 y=619 class=p /><use href=#d x=1225 y=619 class=p /><use href=#d x=1218 y=617 class=p /><use href=#d x=1211 y=606 class=n /><use href=#d x=1370 y=620 class=p /><use href=#d x=1506 y=584 class=j /><use href=#d x=1197 y=592 class=q /><use href=#d x=1339 y=615 class=r /><use href=#d x=1495 y=559 class=l /><use href=#d x=1256 y=615 class=r /><use href=#d x=1043 y=559 class=l /><use href=#d x=1177 y=603 class=m /><use href=#d x=1361 y=603 class=m /><use href=#d x=1032 y=583 class=u /><use href=#d x=1361 y=619 class=p /><use href=#d x=1201 y=596 class=i /><use href=#d x=1204 y=601 class=h /><use href=#d x=1232 y=620 class=p /><use href=#d x=1344 y=616 class=r /><use href=#d x=1187 y=591 class=s /><use href=#d x=1250 y=616 class=r /><use href=#d x=1219 y=621 class=p /><use href=#d x=1298 y=516 class=v /><use href=#d x=1209 y=613 class=o /><use href=#d x=1376 y=621 class=p /><use href=#d x=1473 y=599 class=i /><use href=#d x=1212 y=618 class=p /><use href=#d x=1205 y=607 class=n /><use href=#d x=1297 y=610 class=o /><use href=#d x=1303 y=610 class=o /><use href=#d x=1291 y=610 class=o /><use href=#d x=1495 y=598 class=i /><use href=#d x=1309 y=610 class=o /><use href=#d x=1367 y=620 class=p /><use href=#d x=1285 y=610 class=o /><use href=#d x=1191 y=594 class=q /><use href=#d x=1066 y=600 class=i /><use href=#d x=1315 y=611 class=o /><use href=#d x=1350 y=617 class=r /><use href=#d x=1451 y=601 class=h /><use href=#d x=1279 y=611 class=o /><use href=#d x=1244 y=617 class=r /><use href=#d x=1087 y=601 class=h /><use href=#d x=1226 y=621 class=p /><use href=#d x=1196 y=597 class=i /><use href=#d x=1138 y=603 class=h /><use href=#d x=1399 y=603 class=h /><use href=#d x=1321 y=611 class=o /><use href=#d x=1199 y=602 class=h /><use href=#d x=1273 y=611 class=o /><use href=#d x=1214 y=622 class=p /><use href=#d x=1381 y=622 class=p /><use href=#d x=1203 y=615 class=o /><use href=#d x=1207 y=620 class=p /><use href=#d x=1327 y=611 class=o /><use href=#d x=1182 y=593 class=s /><use href=#d x=1267 y=611 class=o /><use href=#d x=1200 y=609 class=n /><use href=#d x=1356 y=617 class=r /><use href=#d x=1372 y=621 class=p /><use href=#d x=1045 y=600 class=i /><use href=#d x=1238 y=618 class=r /><use href=#d x=1371 y=605 class=m /><use href=#d x=1167 y=605 class=m /><use href=#d x=1333 y=612 class=o /><use href=#d x=1221 y=622 class=p /><use href=#d x=1186 y=595 class=q /><use href=#d x=1261 y=612 class=o /><use href=#d x=1506 y=575 class=g /><use href=#d x=1517 y=600 class=i /><use href=#d x=1430 y=603 class=h /><use href=#d x=1108 y=603 class=h /><use href=#d x=1495 y=550 class=k /><use href=#d x=1042 y=550 class=k /><use href=#d x=1190 y=599 class=i /><use href=#d x=1032 y=574 class=g /><use href=#d x=1194 y=604 class=h /><use href=#d x=1209 y=623 class=p /><use href=#d x=1362 y=618 class=r /><use href=#d x=1339 y=613 class=o /><use href=#d x=1387 y=623 class=p /><use href=#d x=1233 y=618 class=r /><use href=#d x=1256 y=613 class=o /><use href=#d x=1378 y=623 class=p /><use href=#d x=1202 y=621 class=p /><use href=#d x=1198 y=616 class=o /><use href=#d x=1195 y=610 class=n /><use href=#d x=1177 y=594 class=s /><use href=#d x=1021 y=597 class=q /><use href=#d x=1215 y=623 class=p /><use href=#d x=1344 y=613 class=o /><use href=#d x=1250 y=613 class=o /><use href=#d x=1181 y=597 class=q /><use href=#d x=1367 y=619 class=r /><use href=#d x=1300 y=607 class=m /><use href=#d x=1227 y=620 class=r /><use href=#d x=1294 y=607 class=m /><use href=#d x=1185 y=600 class=i /><use href=#d x=1306 y=607 class=m /><use href=#d x=1288 y=608 class=m /><use href=#d x=1299 y=517 class=w /><use href=#d x=1203 y=625 class=p /><use href=#d x=1189 y=605 class=h /><use href=#d x=1026 y=601 class=i /><use href=#d x=1392 y=625 class=p /><use href=#d x=1312 y=608 class=m /><use href=#d x=1282 y=608 class=m /><use href=#d x=1383 y=624 class=p /><use href=#d x=1350 y=614 class=o /><use href=#d x=1244 y=614 class=o /><use href=#d x=1196 y=622 class=p /><use href=#d x=1193 y=617 class=o /><use href=#d x=1318 y=608 class=m /><use href=#d x=1276 y=608 class=m /><use href=#d x=1128 y=607 class=h /><use href=#d x=1409 y=607 class=h /><use href=#d x=1190 y=611 class=n /><use href=#d x=1381 y=608 class=m /><use href=#d x=1157 y=608 class=m /><use href=#d x=1210 y=624 class=p /><use href=#d x=1172 y=596 class=s /><use href=#d x=1166 y=595 class=s /><use href=#d x=1323 y=608 class=m /><use href=#d x=1373 y=621 class=r /><use href=#d x=1270 y=608 class=m /><use href=#d x=1222 y=621 class=r /><use href=#d x=1356 y=615 class=o /><use href=#d x=1506 y=565 class=l /><use href=#d x=1238 y=615 class=o /><use href=#d x=1329 y=609 class=m /><use href=#d x=1176 y=598 class=q /><use href=#d x=1517 y=590 class=j /><use href=#d x=1031 y=565 class=l /><use href=#d x=1264 y=609 class=m /><use href=#d x=1309 y=522 class=v /><use href=#d x=1198 y=626 class=p /><use href=#d x=1180 y=602 class=i /><use href=#d x=1483 y=604 class=i /><use href=#d x=1388 y=625 class=p /><use href=#d x=1461 y=605 class=h /><use href=#d x=1397 y=626 class=p /><use href=#d x=1183 y=607 class=h /><use href=#d x=1291 y=518 class=w /><use href=#d x=1335 y=609 class=m /><use href=#d x=1191 y=624 class=p /><use href=#d x=1188 y=619 class=o /><use href=#d x=1078 y=606 class=h /><use href=#d x=1021 y=588 class=u /><use href=#d x=1258 y=610 class=m /><use href=#d x=1205 y=626 class=p /><use href=#d x=1378 y=622 class=r /><use href=#d x=1362 y=616 class=o /><use href=#d x=1185 y=613 class=n /><use href=#d x=1216 y=622 class=r /><use href=#d x=1233 y=616 class=o /><use href=#d x=1506 y=604 class=i /><use href=#d x=1167 y=598 class=s /><use href=#d x=1440 y=607 class=h /><use href=#d x=1341 y=610 class=m /><use href=#d x=1161 y=597 class=s /><use href=#d x=1057 y=605 class=i /><use href=#d x=1098 y=608 class=h /><use href=#d x=1252 y=610 class=m /><use href=#d x=1171 y=600 class=q /><use href=#d x=1394 y=627 class=p /><use href=#d x=1193 y=628 class=p /><use href=#d x=1299 y=605 class=i /><use href=#d x=1402 y=628 class=p /><use href=#d x=1293 y=605 class=i /><use href=#d x=1175 y=603 class=i /><use href=#d x=1305 y=605 class=i /><use href=#d x=1367 y=617 class=o /><use href=#d x=1178 y=608 class=h /><use href=#d x=1287 y=605 class=i /><use href=#d x=1347 y=611 class=m /><use href=#d x=1311 y=605 class=i /><use href=#d x=1227 y=617 class=o /><use href=#d x=1384 y=623 class=r /><use href=#d x=1281 y=606 class=i /><use href=#d x=1247 y=611 class=m /><use href=#d x=1186 y=626 class=p /><use href=#d x=1148 y=611 class=m /><use href=#d x=1390 y=611 class=m /><use href=#d x=1200 y=627 class=p /><use href=#d x=1211 y=623 class=r /><use href=#d x=1183 y=621 class=o /><use href=#d x=1317 y=606 class=i /><use href=#d x=1180 y=615 class=n /><use href=#d x=1275 y=606 class=i /><use href=#d x=1323 y=606 class=i /><use href=#d x=1353 y=612 class=m /><use href=#d x=1162 y=599 class=s /><use href=#d x=1419 y=610 class=h /><use href=#d x=1119 y=610 class=h /><use href=#d x=1269 y=606 class=i /><use href=#d x=1507 y=555 class=k /><use href=#d x=1031 y=555 class=k /><use href=#d x=1156 y=599 class=s /><use href=#d x=1517 y=581 class=g /><use href=#d x=1373 y=618 class=o /><use href=#d x=1038 y=606 class=i /><use href=#d x=1241 y=612 class=m /><use href=#d x=1328 y=606 class=i /><use href=#d x=1222 y=618 class=o /><use href=#d x=1399 y=628 class=p /><use href=#d x=1527 y=606 class=i /><use href=#d x=1188 y=629 class=p /><use href=#d x=1166 y=602 class=q /><use href=#d x=1263 y=607 class=i /><use href=#d x=1021 y=579 class=g /><use href=#d x=1389 y=625 class=r /><use href=#d x=1170 y=605 class=i /><use href=#d x=1174 y=610 class=h /><use href=#d x=1206 y=625 class=r /><use href=#d x=1334 y=607 class=i /><use href=#d x=1358 y=613 class=m /><use href=#d x=1194 y=629 class=p /><use href=#d x=1181 y=627 class=p /><use href=#d x=1178 y=622 class=o /><use href=#d x=1235 y=613 class=m /><use href=#d x=1257 y=607 class=i /><use href=#d x=1175 y=616 class=n /><use href=#d x=1297 y=520 class=w /><use href=#d x=1378 y=619 class=o /><use href=#d x=1340 y=608 class=i /><use href=#d x=1216 y=620 class=o /><use href=#d x=1011 y=602 class=q /><use href=#d x=1158 y=601 class=s /><use href=#d x=1300 y=604 class=q /><use href=#d x=1294 y=604 class=q /><use href=#d x=1289 y=528 class=t /><use href=#d x=1306 y=604 class=q /><use href=#d x=1364 y=614 class=m /><use href=#d x=1404 y=630 class=p /><use href=#d x=1251 y=608 class=i /><use href=#d x=1288 y=604 class=q /><use href=#d x=1152 y=600 class=s /><use href=#d x=1312 y=604 class=q /><use href=#d x=1394 y=626 class=r /><use href=#d x=1183 y=631 class=p /><use href=#d x=1282 y=604 class=q /><use href=#d x=1230 y=614 class=m /><use href=#d x=1162 y=604 class=q /><use href=#d x=1346 y=608 class=i /><use href=#d x=1200 y=626 class=r /><use href=#d x=1471 y=610 class=h /><use href=#d x=1318 y=604 class=q /><use href=#d x=1166 y=607 class=i /><use href=#d x=1169 y=612 class=h /><use href=#d x=1276 y=605 class=q /><use href=#d x=1399 y=614 class=m /><use href=#d x=1138 y=614 class=m /><use href=#d x=1189 y=630 class=p /><use href=#d x=1449 y=612 class=h /><use href=#d x=1177 y=629 class=p /><use href=#d x=1383 y=621 class=o /><use href=#d x=1246 y=609 class=i /><use href=#d x=1324 y=605 class=q /><use href=#d x=1493 y=610 class=i /><use href=#d x=1173 y=624 class=o /><use href=#d x=1211 y=621 class=o /><use href=#d x=1270 y=605 class=q /><use href=#d x=1090 y=612 class=h /><use href=#d x=1369 y=615 class=m /><use href=#d x=1170 y=618 class=n /><use href=#d x=1069 y=611 class=h /><use href=#d x=1352 y=609 class=i /><use href=#d x=1517 y=571 class=l /><use href=#d x=1019 y=609 class=i /><use href=#d x=1329 y=605 class=q /><use href=#d x=1224 y=615 class=m /><use href=#d x=1021 y=570 class=l /><use href=#d x=1527 y=597 class=j /><use href=#d x=1264 y=606 class=q /><use href=#d x=1409 y=631 class=p /><use href=#d x=1399 y=628 class=r /><use href=#d x=1153 y=603 class=s /><use href=#d x=1240 y=610 class=i /><use href=#d x=1195 y=628 class=r /><use href=#d x=1179 y=633 class=p /><use href=#d x=1147 y=602 class=s /><use href=#d x=1335 y=606 class=q /><use href=#d x=1428 y=614 class=h /><use href=#d x=1110 y=614 class=h /><use href=#d x=1357 y=610 class=i /><use href=#d x=1157 y=605 class=q /><use href=#d x=1258 y=606 class=q /><use href=#d x=1389 y=622 class=o /><use href=#d x=1161 y=609 class=i /><use href=#d x=1185 y=632 class=p /><use href=#d x=1516 y=610 class=i /><use href=#d x=1375 y=616 class=m /><use href=#d x=1164 y=614 class=h /><use href=#d x=1206 y=622 class=o /><use href=#d x=1295 y=604 class=s /><use href=#d x=1301 y=604 class=s /><use href=#d x=1050 y=612 class=h /><use href=#d x=1011 y=593 class=u /><use href=#d x=1289 y=604 class=s /><use href=#d x=1307 y=604 class=s /><use href=#d x=1172 y=631 class=p /><use href=#d x=1341 y=607 class=q /><use href=#d x=1219 y=616 class=m /><use href=#d x=1168 y=626 class=o /><use href=#d x=1234 y=611 class=i /><use href=#d x=1283 y=604 class=s /><use href=#d x=1313 y=604 class=s /><use href=#d x=1252 y=607 class=q /><use href=#d x=1165 y=620 class=n /><use href=#d x=1305 y=525 class=w /><use href=#d x=1277 y=604 class=s /><use href=#d x=1319 y=604 class=s /><use href=#d x=1363 y=611 class=i /><use href=#d x=1404 y=629 class=r /><use href=#d x=1414 y=633 class=p /><use href=#d x=1347 y=607 class=q /><use href=#d x=1271 y=605 class=s /><use href=#d x=1325 y=605 class=s /><use href=#d x=1190 y=629 class=r /><use href=#d x=1380 y=617 class=m /><use href=#d x=1149 y=605 class=s /><use href=#d x=1394 y=624 class=o /><use href=#d x=1246 y=608 class=q /><use href=#d x=1174 y=634 class=p /><use href=#d x=1229 y=612 class=i /><use href=#d x=1143 y=604 class=s /><use href=#d x=1201 y=624 class=o /><use href=#d x=1408 y=617 class=m /><use href=#d x=1130 y=617 class=m /><use href=#d x=1265 y=605 class=s /><use href=#d x=1213 y=618 class=m /><use href=#d x=1152 y=607 class=q /><use href=#d x=1137 y=604 class=s /><use href=#d x=1331 y=605 class=s /><use href=#d x=1180 y=634 class=p /><use href=#d x=1156 y=611 class=i /><use href=#d x=1020 y=561 class=k /><use href=#d x=1518 y=561 class=k /><use href=#d x=1160 y=615 class=h /><use href=#d x=1369 y=612 class=i /><use href=#d x=1353 y=608 class=q /><use href=#d x=1167 y=633 class=p /><use href=#d x=1527 y=587 class=g /><use href=#d x=1164 y=628 class=o /><use href=#d x=1259 y=606 class=s /><use href=#d x=1241 y=609 class=x /><use href=#d x=1337 y=606 class=y /><use href=#d x=1295 y=524 class=z /><use href=#d x=1299 y=604 class=y /><use href=#d x=1293 y=604 class=y /><use href=#d x=1305 y=604 class=y /><use href=#d x=1161 y=622 class=A /><use href=#d x=1287 y=605 class=y /><use href=#d x=1311 y=605 class=y /><use href=#d x=1031 y=613 class=B /><use href=#d x=1386 y=619 class=C /><use href=#d x=1223 y=613 class=B /><use href=#d x=1409 y=631 class=D /><use href=#d x=1536 y=613 class=B /><use href=#d x=1281 y=605 class=y /><use href=#d x=1418 y=635 class=E /><use href=#d x=1011 y=585 class=F /><use href=#d x=1186 y=631 class=D /><use href=#d x=1317 y=605 class=y /><use href=#d x=1399 y=625 class=G /><use href=#d x=1358 y=609 class=x /><use href=#d x=1253 y=607 class=y /><use href=#d x=1458 y=617 class=H /><use href=#d x=1343 y=607 class=y /><use href=#d x=1306 y=524 class=I /><use href=#d x=1208 y=619 class=C /><use href=#d x=1275 y=605 class=y /><use href=#d x=1196 y=626 class=G /><use href=#d x=1374 y=614 class=B /><use href=#d x=1480 y=616 class=H /><use href=#d x=1169 y=636 class=E /><use href=#d x=1144 y=607 class=y /><use href=#d x=1235 y=610 class=x /><use href=#d x=1323 y=605 class=y /><use href=#d x=1081 y=617 class=H /><use href=#d x=1175 y=636 class=E /><use href=#d x=1138 y=606 class=y /><use href=#d x=1269 y=606 class=y /><use href=#d x=1148 y=609 class=x /><use href=#d x=1437 y=618 class=H /><use href=#d x=1133 y=606 class=y /><use href=#d x=1152 y=613 class=B /><use href=#d x=1248 y=608 class=y /><use href=#d x=1101 y=619 class=H /><use href=#d x=1329 y=606 class=y /><use href=#d x=1155 y=617 class=H /><use href=#d x=1348 y=608 class=y /><use href=#d x=1218 y=615 class=B /><use href=#d x=1163 y=635 class=E /><use href=#d x=1364 y=610 class=x /><use href=#d x=1300 y=520 class=J /><use href=#d x=1391 y=620 class=C /><use href=#d x=1263 y=606 class=y /><use href=#d x=1159 y=630 class=G /><use href=#d x=1502 y=615 class=B /><use href=#d x=1062 y=617 class=H /><use href=#d x=1335 y=606 class=y /><use href=#d x=1229 y=611 class=x /><use href=#d x=1414 y=633 class=D /><use href=#d x=1156 y=624 class=A /><use href=#d x=1379 y=615 class=B /><use href=#d x=1298 y=606 class=y /><use href=#d x=1292 y=606 class=y /><use href=#d x=1304 y=606 class=y /><use href=#d x=1002 y=607 class=y /><use href=#d x=1203 y=621 class=C /><use href=#d x=1404 y=627 class=G /><use href=#d x=1181 y=633 class=D /><use href=#d x=1286 y=606 class=y /><use href=#d x=1310 y=606 class=y /><use href=#d x=1423 y=637 class=E /><use href=#d x=1242 y=608 class=y /><use href=#d x=1191 y=627 class=G /><use href=#d x=1354 y=609 class=y /><use href=#d x=1257 y=607 class=y /><use href=#d x=1280 y=606 class=y /><use href=#d x=1316 y=606 class=y /><use href=#d x=1340 y=607 class=y /><use href=#d x=1417 y=621 class=C /><use href=#d x=1121 y=621 class=C /><use href=#d x=1165 y=638 class=E /><use href=#d x=1527 y=577 class=K /><use href=#d x=1370 y=612 class=x /><use href=#d x=1140 y=609 class=y /><use href=#d x=1213 y=616 class=B /><use href=#d x=1274 y=607 class=y /><use href=#d x=1322 y=607 class=y /><use href=#d x=1171 y=638 class=E /><use href=#d x=1010 y=576 class=K /><use href=#d x=1134 y=608 class=y /><use href=#d x=1251 y=608 class=y /><use href=#d x=1144 y=611 class=x /><use href=#d x=1224 y=612 class=x /><use href=#d x=1396 y=622 class=C /><use href=#d x=1536 y=603 class=L /><use href=#d x=1148 y=615 class=B /><use href=#d x=1236 y=609 class=y /><use href=#d x=1128 y=608 class=y /><use href=#d x=1151 y=619 class=H /><use href=#d x=1268 y=607 class=y /><use href=#d x=1360 y=610 class=y /><use href=#d x=1328 y=607 class=y /><use href=#d x=1385 y=616 class=B /><use href=#d x=1346 y=608 class=y /><use href=#d x=1159 y=637 class=E /><use href=#d x=1198 y=622 class=C /><use href=#d x=1155 y=632 class=G /><use href=#d x=1525 y=616 class=B /><use href=#d x=1409 y=629 class=G /><use href=#d x=1419 y=635 class=D /><use href=#d x=1014 y=616 class=B /><use href=#d x=1043 y=618 class=H /><use href=#d x=1262 y=608 class=y /><use href=#d x=1297 y=607 class=y /><use href=#d x=1334 y=608 class=y /><use href=#d x=1152 y=626 class=A /><use href=#d x=1303 y=607 class=y /><use href=#d x=1375 y=613 class=x /><use href=#d x=1246 y=609 class=y /><use href=#d x=1291 y=607 class=y /><use href=#d x=1176 y=635 class=D /><use href=#d x=1186 y=629 class=G /><use href=#d x=1309 y=608 class=y /><use href=#d x=1428 y=639 class=E /><use href=#d x=1285 y=608 class=y /><use href=#d x=1208 y=617 class=B /><use href=#d x=1352 y=609 class=y /><use href=#d x=1231 y=611 class=y /><use href=#d x=1315 y=608 class=y /><use href=#d x=1219 y=613 class=x /><use href=#d x=1365 y=611 class=y /><use href=#d x=1279 y=608 class=y /><use href=#d x=1001 y=599 class=M /><use href=#d x=1256 y=608 class=y /><use href=#d x=1339 y=608 class=y /><use href=#d x=1161 y=640 class=E /><use href=#d x=1321 y=608 class=y /><use href=#d x=1401 y=624 class=C /><use href=#d x=1390 y=618 class=B /><use href=#d x=1136 y=611 class=y /><use href=#d x=1273 y=608 class=y /><use href=#d x=1166 y=640 class=E /><use href=#d x=1240 y=610 class=y /><use href=#d x=1140 y=613 class=x /><use href=#d x=1130 y=611 class=y /><use href=#d x=1143 y=617 class=B /><use href=#d x=1327 y=609 class=y /><use href=#d x=1193 y=624 class=C /><use href=#d x=1467 y=621 class=H /><use href=#d x=1380 y=614 class=x /><use href=#d x=1146 y=622 class=H /><use href=#d x=1358 y=610 class=y /><use href=#d x=1267 y=609 class=y /><use href=#d x=1300 y=533 class=z /><use href=#d x=1445 y=623 class=H /><use href=#d x=1250 y=609 class=y /><use href=#d x=1124 y=610 class=y /><use href=#d x=1345 y=609 class=y /><use href=#d x=1225 y=612 class=y /><use href=#d x=1154 y=639 class=E /><use href=#d x=1414 y=631 class=G /><use href=#d x=1301 y=610 class=y /><use href=#d x=1295 y=610 class=y /><use href=#d x=1528 y=568 class=N /><use href=#d x=1010 y=568 class=N /><use href=#d x=1371 y=612 class=y /><use href=#d x=1093 y=623 class=H /><use href=#d x=1423 y=637 class=D /><use href=#d x=1151 y=634 class=G /><use href=#d x=1307 y=610 class=y /><use href=#d x=1289 y=610 class=y /><use href=#d x=1203 y=619 class=B /><use href=#d x=1213 y=615 class=x /><use href=#d x=1181 y=631 class=G /><use href=#d x=1333 y=609 class=y /><use href=#d x=1172 y=637 class=D /><use href=#d x=1488 y=621 class=H /><use href=#d x=1313 y=610 class=y /><use href=#d x=1283 y=610 class=y /><use href=#d x=1261 y=609 class=y /><use href=#d x=1148 y=628 class=A /><use href=#d x=1235 y=611 class=y /><use href=#d x=1074 y=622 class=H /><use href=#d x=1432 y=641 class=E /><use href=#d x=1537 y=594 class=F /><use href=#d x=1319 y=611 class=y /><use href=#d x=1245 y=610 class=y /><use href=#d x=1277 y=611 class=y /><use href=#d x=1351 y=610 class=y /><use href=#d x=1395 y=620 class=B /><use href=#d x=1425 y=625 class=C /><use href=#d x=1113 y=625 class=C /><use href=#d x=1363 y=611 class=y /><use href=#d x=1406 y=625 class=C /><use href=#d x=1339 y=610 class=y /><use href=#d x=1156 y=643 class=E /><use href=#d x=1256 y=610 class=y /><use href=#d x=1386 y=616 class=x /><use href=#d x=1325 y=611 class=y /><use href=#d x=1271 y=611 class=y /><use href=#d x=1220 y=613 class=y /><use href=#d x=1162 y=642 class=E /><use href=#d x=1300 y=614 class=x /><use href=#d x=993 y=620 class=B /><use href=#d x=1545 y=620 class=B /><use href=#d x=1294 y=614 class=x /><use href=#d x=1132 y=613 class=y /><use href=#d x=1188 y=626 class=C /><use href=#d x=1376 y=613 class=y /><use href=#d x=1306 y=614 class=x /><use href=#d x=1288 y=614 class=x /><use href=#d x=1026 y=621 class=B /><use href=#d x=1001 y=591 class=O /><use href=#d x=1229 y=612 class=y /><use href=#d x=1312 y=614 class=x /><use href=#d x=1135 y=616 class=x /><use href=#d x=1208 y=616 class=x /><use href=#d x=1282 y=614 class=x /><use href=#d x=1139 y=619 class=B /><use href=#d x=1126 y=613 class=y /><use href=#d x=1239 y=611 class=y /><use href=#d x=1198 y=621 class=B /><use href=#d x=1344 y=611 class=y /><use href=#d x=1331 y=612 class=y /><use href=#d x=1357 y=611 class=y /><use href=#d x=1265 y=612 class=y /><use href=#d x=1418 y=633 class=G /><use href=#d x=1142 y=624 class=H /><use href=#d x=1318 y=614 class=x /><use href=#d x=1250 y=611 class=y /><use href=#d x=1510 y=621 class=B /><use href=#d x=1055 y=623 class=H /><use href=#d x=1120 y=613 class=y /><use href=#d x=1298 y=619 class=B /><use href=#d x=1428 y=639 class=D /><use href=#d x=1150 y=641 class=E /><use href=#d x=1369 y=612 class=y /><use href=#d x=1292 y=620 class=B /><use href=#d x=1304 y=620 class=B /><use href=#d x=1177 y=633 class=G /><use href=#d x=1276 y=615 class=x /><use href=#d x=1147 y=636 class=G /><use href=#d x=1286 y=620 class=B /><use href=#d x=1310 y=620 class=B /><use href=#d x=1167 y=639 class=D /><use href=#d x=1324 y=615 class=x /><use href=#d x=1400 y=621 class=B /><use href=#d x=1337 y=612 class=y /><use href=#d x=1259 y=612 class=y /><use href=#d x=1144 y=630 class=A /><use href=#d x=1280 y=620 class=B /><use href=#d x=1316 y=620 class=B /><use href=#d x=1270 y=615 class=x /><use href=#d x=1436 y=643 class=E /><use href=#d x=1215 y=615 class=y /><use href=#d x=1411 y=627 class=C /><use href=#d x=1350 y=612 class=y /><use href=#d x=1391 y=617 class=x /><use href=#d x=1295 y=625 class=H /><use href=#d x=1301 y=625 class=H /><use href=#d x=1381 y=615 class=y /><use href=#d x=1289 y=625 class=H /><use href=#d x=1307 y=625 class=H /><use href=#d x=1224 y=613 class=y /><use href=#d x=1234 y=612 class=y /><use href=#d x=1362 y=612 class=y /><use href=#d x=1244 y=612 class=y /><use href=#d x=1330 y=616 class=x /><use href=#d x=999 y=621 class=B /><use href=#d x=1274 y=620 class=B /><use href=#d x=1322 y=620 class=B /><use href=#d x=1283 y=626 class=H /><use href=#d x=1313 y=626 class=H /><use href=#d x=1184 y=628 class=C /><use href=#d x=1264 y=616 class=x /><use href=#d x=1152 y=645 class=E /><use href=#d x=1203 y=618 class=x /><use href=#d x=1342 y=613 class=y /><use href=#d x=1253 y=613 class=y /><use href=#d x=1158 y=644 class=E /><use href=#d x=1374 y=614 class=y /><use href=#d x=1305 y=533 class=z /><use href=#d x=1113 y=614 class=y /><use href=#d x=1277 y=626 class=H /><use href=#d x=1193 y=622 class=B /><use href=#d x=1319 y=626 class=H /><use href=#d x=1128 y=616 class=y /><use href=#d x=1268 y=621 class=B /><use href=#d x=1537 y=584 class=K /><use href=#d x=1328 y=621 class=B /><use href=#d x=1335 y=616 class=x /><use href=#d x=993 y=612 class=y /><use href=#d x=1356 y=613 class=y /><use href=#d x=1423 y=635 class=G /><use href=#d x=1131 y=618 class=x /><use href=#d x=1135 y=621 class=B /><use href=#d x=1122 y=615 class=y /><use href=#d x=1258 y=617 class=x /><use href=#d x=1271 y=627 class=H /><use href=#d x=1239 y=613 class=y /><use href=#d x=1138 y=626 class=H /><use href=#d x=1325 y=627 class=H /><use href=#d x=1172 y=635 class=G /><use href=#d x=1001 y=582 class=P /><use href=#d x=1228 y=614 class=y /><use href=#d x=1432 y=641 class=D /><use href=#d x=1292 y=534 class=z /><use href=#d x=1368 y=614 class=y /><use href=#d x=1210 y=616 class=y /><use href=#d x=1405 y=623 class=B /><use href=#d x=1262 y=622 class=B /><use href=#d x=1348 y=614 class=y /><use href=#d x=1247 y=614 class=y /><use href=#d x=1146 y=643 class=E /><use href=#d x=1218 y=615 class=y /><use href=#d x=1295 y=628 class=C /><use href=#d x=1301 y=628 class=C /><use href=#d x=1117 y=615 class=y /><use href=#d x=1334 y=622 class=B /><use href=#d x=1453 y=627 class=H /><use href=#d x=1387 y=616 class=y /><use href=#d x=1545 y=610 class=L /><use href=#d x=1396 y=619 class=x /><use href=#d x=1163 y=641 class=D /><use href=#d x=1289 y=629 class=C /><use href=#d x=1307 y=629 class=C /><use href=#d x=1143 y=638 class=G /><use href=#d x=1341 y=617 class=x /><use href=#d x=1533 y=623 class=B /><use href=#d x=1415 y=629 class=C /><use href=#d x=1265 y=627 class=H /><use href=#d x=1283 y=629 class=C /><use href=#d x=1331 y=627 class=H /><use href=#d x=1313 y=629 class=C /><use href=#d x=1475 y=627 class=H /><use href=#d x=1086 y=628 class=H /><use href=#d x=1140 y=632 class=A /><use href=#d x=1037 y=625 class=H /><use href=#d x=1440 y=645 class=E /><use href=#d x=1105 y=629 class=C /><use href=#d x=1433 y=629 class=C /><use href=#d x=1379 y=615 class=y /><use href=#d x=1252 y=617 class=x /><use href=#d x=1361 y=614 class=y /><use href=#d x=1198 y=620 class=x /><use href=#d x=1257 y=622 class=B /><use href=#d x=1277 y=629 class=C /><use href=#d x=1319 y=629 class=C /><use href=#d x=1340 y=623 class=B /><use href=#d x=1179 y=630 class=C /><use href=#d x=1233 y=614 class=y /><use href=#d x=1354 y=615 class=y /><use href=#d x=1242 y=615 class=y /><use href=#d x=1188 y=624 class=B /><use href=#d x=1259 y=628 class=H /><use href=#d x=1347 y=618 class=x /><use href=#d x=1337 y=628 class=H /><use href=#d x=1148 y=647 class=E /><use href=#d x=1223 y=615 class=y /><use href=#d x=1373 y=615 class=y /><use href=#d x=1271 y=630 class=C /><use href=#d x=1154 y=646 class=E /><use href=#d x=1325 y=630 class=C /><use href=#d x=1109 y=616 class=y /><use href=#d x=1213 y=616 class=y /><use href=#d x=1205 y=618 class=y /><use href=#d x=1010 y=624 class=B /><use href=#d x=1124 y=618 class=y /><use href=#d x=1067 y=628 class=H /><use href=#d x=1247 y=618 class=x /><use href=#d x=1427 y=637 class=G /><use href=#d x=1251 y=623 class=B /><use href=#d x=1392 y=618 class=y /><use href=#d x=1496 y=627 class=H /><use href=#d x=1410 y=625 class=B /><use href=#d x=1346 y=623 class=B /><use href=#d x=1401 y=621 class=x /><use href=#d x=1128 y=620 class=x /><use href=#d x=1168 y=637 class=G /><use href=#d x=1131 y=623 class=B /><use href=#d x=1367 y=615 class=y /><use href=#d x=993 y=604 class=M /><use href=#d x=1265 y=630 class=C /><use href=#d x=1254 y=629 class=H /><use href=#d x=1118 y=617 class=y /><use href=#d x=1331 y=630 class=C /><use href=#d x=1436 y=643 class=D /><use href=#d x=1134 y=628 class=H /><use href=#d x=1342 y=629 class=H /><use href=#d x=1385 y=617 class=y /><use href=#d x=1359 y=616 class=y /><use href=#d x=1236 y=616 class=y /><use href=#d x=1228 y=616 class=y /><use href=#d x=1353 y=619 class=x /><use href=#d x=1143 y=646 class=E /><use href=#d x=1159 y=643 class=D /><use href=#d x=1420 y=631 class=C /><use href=#d x=1113 y=617 class=y /><use href=#d x=1001 y=574 class=N /><use href=#d x=1537 y=574 class=N /><use href=#d x=1193 y=621 class=x /><use href=#d x=1139 y=641 class=G /><use href=#d x=1241 y=619 class=x /><use href=#d x=1218 y=616 class=y /><use href=#d x=1378 y=616 class=y /><use href=#d x=1245 y=624 class=B /><use href=#d x=1260 y=631 class=C /><use href=#d x=1136 y=635 class=A /><use href=#d x=1296 y=628 class=H /><use href=#d x=1302 y=628 class=H /><use href=#d x=1337 y=631 class=C /><use href=#d x=1351 y=625 class=B /><use href=#d x=1175 y=632 class=C /><use href=#d x=1290 y=628 class=H /><use href=#d x=1183 y=626 class=B /><use href=#d x=1308 y=628 class=H /><use href=#d x=1248 y=630 class=H /><use href=#d x=1305 y=535 class=I /><use href=#d x=1208 y=618 class=y /><use href=#d x=1348 y=630 class=H /><use href=#d x=1546 y=600 class=F /><use href=#d x=1284 y=628 class=H /><use href=#d x=1200 y=619 class=y /><use href=#d x=1314 y=628 class=H /><use href=#d x=1372 y=617 class=y /><use href=#d x=1358 y=620 class=x /><use href=#d x=1397 y=620 class=y /><use href=#d x=1365 y=618 class=y /><use href=#d x=1231 y=618 class=y /><use href=#d x=1145 y=649 class=E /><use href=#d x=1278 y=628 class=H /><use href=#d x=1150 y=648 class=E /><use href=#d x=1222 y=617 class=y /><use href=#d x=1254 y=632 class=C /><use href=#d x=1406 y=623 class=x /><use href=#d x=1414 y=627 class=B /><use href=#d x=1320 y=629 class=H /><use href=#d x=1431 y=639 class=G /><use href=#d x=1390 y=618 class=y /><use href=#d x=1342 y=632 class=C /><use href=#d x=1049 y=629 class=H /><use href=#d x=1240 y=626 class=B /><use href=#d x=1120 y=620 class=y /><use href=#d x=1235 y=621 class=x /><use href=#d x=1106 y=619 class=y /><use href=#d x=1518 y=628 class=B /><use href=#d x=1357 y=626 class=B /><use href=#d x=1164 y=639 class=G /><use href=#d x=1272 y=629 class=H /><use href=#d x=1553 y=627 class=B /><use href=#d x=1242 y=631 class=H /><use href=#d x=1124 y=622 class=x /><use href=#d x=1128 y=626 class=B /><use href=#d x=1212 y=618 class=y /><use href=#d x=1354 y=631 class=H /><use href=#d x=1383 y=618 class=y /><use href=#d x=1326 y=629 class=H /><use href=#d x=1440 y=645 class=D /><use href=#d x=1189 y=623 class=x /><use href=#d x=1131 y=630 class=H /><use href=#d x=1424 y=633 class=C /><use href=#d x=1022 y=628 class=B /><use href=#d x=1115 y=620 class=y /><use href=#d x=992 y=597 class=O /><use href=#d x=1155 y=645 class=D /><use href=#d x=1139 y=648 class=E /><use href=#d x=1364 y=621 class=x /><use href=#d x=1248 y=633 class=C /><use href=#d x=1266 y=630 class=H /><use href=#d x=1109 y=620 class=y /><use href=#d x=1377 y=618 class=y /><use href=#d x=1203 y=619 class=y /><use href=#d x=1348 y=633 class=C /><use href=#d x=1098 y=633 class=C /><use href=#d x=1440 y=633 class=C /><use href=#d x=1135 y=643 class=G /><use href=#d x=1370 y=619 class=y /><use href=#d x=1461 y=632 class=H /><use href=#d x=1225 y=619 class=y /><use href=#d x=985 y=624 class=x /><use href=#d x=1179 y=628 class=B /><use href=#d x=1170 y=634 class=C /><use href=#d x=1331 y=630 class=H /><use href=#d x=1195 y=621 class=y /><use href=#d x=1217 y=618 class=y /><use href=#d x=1132 y=637 class=A /><use href=#d x=1234 y=627 class=B /><use href=#d x=1230 y=622 class=x /><use href=#d x=1402 y=621 class=y /><use href=#d x=1362 y=627 class=B /><use href=#d x=1079 y=633 class=C /><use href=#d x=1237 y=632 class=H /><use href=#d x=1395 y=620 class=y /><use href=#d x=1359 y=632 class=H /><use href=#d x=1260 y=630 class=H /><use href=#d x=1410 y=625 class=x /><use href=#d x=1419 y=629 class=B /><use href=#d x=1482 y=632 class=H /><use href=#d x=1337 y=631 class=H /><use href=#d x=1141 y=652 class=E /><use href=#d x=1207 y=620 class=y /><use href=#d x=1243 y=634 class=C /><use href=#d x=1388 y=620 class=y /><use href=#d x=1436 y=641 class=G /><use href=#d x=1146 y=651 class=E /><use href=#d x=1354 y=634 class=C /><use href=#d x=1369 y=623 class=x /><use href=#d x=1160 y=641 class=G /><use href=#d x=1300 y=625 class=x /><use href=#d x=1294 y=625 class=x /><use href=#d x=1546 y=591 class=K /><use href=#d x=1116 y=623 class=y /><use href=#d x=1184 y=625 class=x /><use href=#d x=1376 y=620 class=y /><use href=#d x=1220 y=620 class=y /><use href=#d x=1102 y=621 class=y /><use href=#d x=1383 y=620 class=y /><use href=#d x=1306 y=625 class=x /><use href=#d x=1288 y=625 class=x /><use href=#d x=1254 y=631 class=H /><use href=#d x=1428 y=635 class=C /><use href=#d x=1229 y=628 class=B /><use href=#d x=1444 y=647 class=D /><use href=#d x=1120 y=625 class=x /><use href=#d x=1198 y=621 class=y /><use href=#d x=1124 y=628 class=B /><use href=#d x=1312 y=625 class=x /><use href=#d x=1225 y=623 class=x /><use href=#d x=1368 y=628 class=B /><use href=#d x=1212 y=620 class=y /><use href=#d x=1282 y=625 class=x /><use href=#d x=1127 y=633 class=H /><use href=#d x=1343 y=632 class=H /><use href=#d x=1232 y=634 class=H /><use href=#d x=1111 y=622 class=y /><use href=#d x=1151 y=648 class=D /><use href=#d x=1365 y=634 class=H /><use href=#d x=992 y=589 class=P /><use href=#d x=1190 y=623 class=y /><use href=#d x=997 y=629 class=B /><use href=#d x=1175 y=630 class=B /><use href=#d x=1135 y=650 class=E /><use href=#d x=1318 y=626 class=x /><use href=#d x=1166 y=636 class=C /><use href=#d x=1541 y=630 class=B /><use href=#d x=1406 y=623 class=y /><use href=#d x=1237 y=636 class=C /><use href=#d x=1061 y=634 class=H /><use href=#d x=1276 y=626 class=x /><use href=#d x=985 y=617 class=L /><use href=#d x=1106 y=622 class=y /><use href=#d x=1554 y=617 class=L /><use href=#d x=1033 y=632 class=H /><use href=#d x=1132 y=645 class=G /><use href=#d x=1295 y=529 class=Q /><use href=#d x=1359 y=636 class=C /><use href=#d x=1399 y=622 class=y /><use href=#d x=1129 y=640 class=A /><use href=#d x=1249 y=632 class=H /><use href=#d x=1324 y=626 class=x /><use href=#d x=1374 y=624 class=x /><use href=#d x=1504 y=633 class=H /><use href=#d x=1203 y=621 class=y /><use href=#d x=1415 y=627 class=x /><use href=#d x=1393 y=621 class=y /><use href=#d x=1270 y=627 class=x /><use href=#d x=1423 y=631 class=B /><use href=#d x=1349 y=633 class=H /><use href=#d x=1381 y=622 class=y /><use href=#d x=1215 y=622 class=y /><use href=#d x=1388 y=621 class=y /><use href=#d x=1224 y=630 class=B /><use href=#d x=1440 y=643 class=G /><use href=#d x=1220 y=625 class=x /><use href=#d x=1373 y=630 class=B /><use href=#d x=1226 y=635 class=H /><use href=#d x=1138 y=654 class=E /><use href=#d x=1330 y=627 class=x /><use href=#d x=1180 y=627 class=x /><use href=#d x=1143 y=653 class=E /><use href=#d x=1370 y=635 class=H /><use href=#d x=1207 y=622 class=y /><use href=#d x=1194 y=623 class=y /><use href=#d x=1264 y=627 class=x /><use href=#d x=1156 y=644 class=G /><use href=#d x=1232 y=637 class=C /><use href=#d x=1364 y=637 class=C /><use href=#d x=1433 y=637 class=C /><use href=#d x=1113 y=625 class=y /><use href=#d x=1243 y=634 class=H /><use href=#d x=1099 y=623 class=y /><use href=#d x=1186 y=625 class=y /><use href=#d x=1448 y=650 class=D /><use href=#d x=1117 y=627 class=x /><use href=#d x=1121 y=630 class=B /><use href=#d x=1354 y=634 class=H /><use href=#d x=1411 y=625 class=y /><use href=#d x=1170 y=632 class=B /><use href=#d x=1336 y=628 class=x /><use href=#d x=1124 y=635 class=H /><use href=#d x=1404 y=624 class=y /><use href=#d x=1148 y=650 class=D /><use href=#d x=1380 y=626 class=x /><use href=#d x=1091 y=638 class=C /><use href=#d x=1447 y=638 class=C /><use href=#d x=1108 y=625 class=y /><use href=#d x=1008 y=633 class=B /><use href=#d x=1162 y=638 class=C /><use href=#d x=1258 y=628 class=x /><use href=#d x=1546 y=581 class=N /><use href=#d x=992 y=581 class=N /><use href=#d x=1295 y=534 class=R /><use href=#d x=1296 y=623 class=y /><use href=#d x=1198 y=623 class=y /><use href=#d x=1132 y=653 class=E /><use href=#d x=1293 y=533 class=R /><use href=#d x=1302 y=623 class=y /><use href=#d x=1398 y=623 class=y /><use href=#d x=985 y=610 class=S /><use href=#d x=1290 y=623 class=y /><use href=#d x=1386 y=624 class=y /><use href=#d x=1210 y=624 class=y /><use href=#d x=1308 y=623 class=y /><use href=#d x=1219 y=631 class=B /><use href=#d x=1128 y=648 class=G /><use href=#d x=1419 y=629 class=x /><use href=#d x=1103 y=625 class=y /><use href=#d x=1392 y=623 class=y /><use href=#d x=1468 y=637 class=H /><use href=#d x=1284 y=623 class=y /><use href=#d x=1378 y=632 class=B /><use href=#d x=1215 y=627 class=x /><use href=#d x=1221 y=637 class=H /><use href=#d x=1427 y=633 class=B /><use href=#d x=1314 y=624 class=y /><use href=#d x=1375 y=637 class=H /><use href=#d x=1125 y=642 class=A /><use href=#d x=1238 y=635 class=H /><use href=#d x=1044 y=636 class=H /><use href=#d x=1227 y=638 class=C /><use href=#d x=1342 y=629 class=x /><use href=#d x=1370 y=639 class=C /><use href=#d x=1202 y=624 class=y /><use href=#d x=1278 y=624 class=y /><use href=#d x=1554 y=607 class=F /><use href=#d x=1253 y=629 class=x /><use href=#d x=1526 y=634 class=B /><use href=#d x=1189 y=625 class=y /><use href=#d x=1359 y=635 class=H /><use href=#d x=1175 y=629 class=x /><use href=#d x=1320 y=624 class=y /><use href=#d x=1073 y=638 class=C /><use href=#d x=1443 y=646 class=G /><use href=#d x=1134 y=657 class=E /><use href=#d x=1139 y=656 class=E /><use href=#d x=1272 y=624 class=y /><use href=#d x=1152 y=646 class=G /><use href=#d x=1385 y=628 class=x /><use href=#d x=1181 y=627 class=y /><use href=#d x=1437 y=640 class=C /><use href=#d x=1326 y=625 class=y /><use href=#d x=1415 y=627 class=y /><use href=#d x=1409 y=626 class=y /><use href=#d x=1110 y=627 class=y /><use href=#d x=1347 y=630 class=x /><use href=#d x=1489 y=637 class=H /><use href=#d x=1166 y=634 class=B /><use href=#d x=1452 y=652 class=D /><use href=#d x=1193 y=625 class=y /><use href=#d x=1096 y=626 class=y /><use href=#d x=1214 y=633 class=B /><use href=#d x=1391 y=625 class=y /><use href=#d x=1403 y=625 class=y /><use href=#d x=1297 y=534 class=Q /><use href=#d x=1205 y=625 class=y /><use href=#d x=1561 y=634 class=B /><use href=#d x=1233 y=636 class=H /><use href=#d x=1113 y=630 class=x /><use href=#d x=1117 y=633 class=B /><use href=#d x=1247 y=630 class=x /><use href=#d x=1266 y=625 class=y /><use href=#d x=1383 y=633 class=B /><use href=#d x=1216 y=638 class=H /><use href=#d x=1210 y=628 class=x /><use href=#d x=1158 y=640 class=C /><use href=#d x=1144 y=653 class=D /><use href=#d x=1120 y=638 class=H /><use href=#d x=1397 y=625 class=y /><use href=#d x=1019 y=636 class=H /><use href=#d x=1380 y=638 class=H /><use href=#d x=1222 y=640 class=C /><use href=#d x=1105 y=627 class=y /><use href=#d x=1332 y=625 class=y /><use href=#d x=1375 y=640 class=C /><use href=#d x=1423 y=631 class=x /><use href=#d x=984 y=603 class=O /><use href=#d x=1365 y=637 class=H /><use href=#d x=1129 y=655 class=E /><use href=#d x=1299 y=623 class=L /><use href=#d x=1198 y=625 class=y /><use href=#d x=1293 y=623 class=L /><use href=#d x=1431 y=635 class=B /><use href=#d x=1305 y=623 class=L /><use href=#d x=1125 y=650 class=G /><use href=#d x=1304 y=546 class=z /><use href=#d x=1099 y=627 class=y /><use href=#d x=1287 y=623 class=L /><use href=#d x=1260 y=626 class=y /><use href=#d x=1185 y=627 class=y /><use href=#d x=1353 y=631 class=x /><use href=#d x=1311 y=623 class=L /><use href=#d x=1122 y=644 class=A /><use href=#d x=1171 y=631 class=x /><use href=#d x=1281 y=623 class=L /><use href=#d x=1338 y=626 class=y /><use href=#d x=1389 y=629 class=x /><use href=#d x=1242 y=632 class=x /><use href=#d x=1090 y=627 class=y /><use href=#d x=1317 y=624 class=L /><use href=#d x=1447 y=648 class=G /><use href=#d x=1056 y=640 class=H /><use href=#d x=978 y=629 class=x /><use href=#d x=1228 y=638 class=H /><use href=#d x=1177 y=629 class=y /><use href=#d x=985 y=635 class=B /><use href=#d x=1209 y=635 class=B /><use href=#d x=1275 y=624 class=L /><use href=#d x=1413 y=628 class=y /><use href=#d x=1149 y=648 class=G /><use href=#d x=1131 y=659 class=E /><use href=#d x=1420 y=629 class=y /><use href=#d x=1395 y=627 class=y /><use href=#d x=1440 y=642 class=C /><use href=#d x=1136 y=658 class=E /><use href=#d x=1201 y=627 class=y /><use href=#d x=1255 y=627 class=y /><use href=#d x=1212 y=640 class=H /><use href=#d x=1189 y=627 class=y /><use href=#d x=1388 y=635 class=B /><use href=#d x=1323 y=624 class=L /><use href=#d x=1407 y=627 class=y /><use href=#d x=1554 y=598 class=K /><use href=#d x=1370 y=638 class=H /><use href=#d x=1205 y=630 class=x /><use href=#d x=1217 y=642 class=C /><use href=#d x=1385 y=640 class=H /><use href=#d x=1163 y=637 class=B /><use href=#d x=1380 y=642 class=C /><use href=#d x=1402 y=627 class=y /><use href=#d x=1511 y=639 class=H /><use href=#d x=1106 y=630 class=y /><use href=#d x=1344 y=627 class=y /><use href=#d x=1358 y=633 class=x /><use href=#d x=1455 y=655 class=D /><use href=#d x=1269 y=625 class=L /><use href=#d x=1085 y=642 class=C /><use href=#d x=1453 y=642 class=C /><use href=#d x=1093 y=629 class=y /><use href=#d x=1155 y=643 class=C /><use href=#d x=1114 y=635 class=B /><use href=#d x=1110 y=632 class=x /><use href=#d x=1029 y=639 class=H /><use href=#d x=1193 y=627 class=y /><use href=#d x=1428 y=633 class=x /><use href=#d x=1141 y=655 class=D /><use href=#d x=1548 y=637 class=B /><use href=#d x=1329 y=625 class=L /><use href=#d x=1236 y=633 class=x /><use href=#d x=1117 y=640 class=H /><use href=#d x=984 y=595 class=P /><use href=#d x=1101 y=630 class=y /><use href=#d x=1300 y=624 class=L /><use href=#d x=1294 y=624 class=L /><use href=#d x=1435 y=638 class=B /><use href=#d x=1249 y=628 class=y /><use href=#d x=1306 y=624 class=L /><use href=#d x=1126 y=658 class=E /><use href=#d x=1180 y=629 class=y /><use href=#d x=1288 y=624 class=L /><use href=#d x=1561 y=624 class=L /><use href=#d x=1394 y=631 class=x /><use href=#d x=1263 y=625 class=L /><use href=#d x=1223 y=640 class=H /><use href=#d x=1122 y=653 class=G /><use href=#d x=1312 y=624 class=L /><use href=#d x=1096 y=630 class=y /><use href=#d x=1167 y=634 class=x /><use href=#d x=1282 y=624 class=L /><use href=#d x=1349 y=629 class=y /><use href=#d x=1474 y=642 class=H /><use href=#d x=1335 y=626 class=L /><use href=#d x=1119 y=647 class=A /><use href=#d x=996 y=638 class=B /><use href=#d x=1204 y=637 class=B /><use href=#d x=1375 y=640 class=H /><use href=#d x=977 y=623 class=T /><use href=#d x=1318 y=625 class=L /><use href=#d x=1173 y=631 class=y /><use href=#d x=1400 y=629 class=y /><use href=#d x=1207 y=642 class=H /><use href=#d x=1364 y=634 class=x /><use href=#d x=1196 y=629 class=y /><use href=#d x=1392 y=637 class=B /><use href=#d x=1212 y=644 class=C /><use href=#d x=1276 y=625 class=L /><use href=#d x=1451 y=650 class=G /><use href=#d x=1417 y=630 class=y /><use href=#d x=1200 y=632 class=x /><use href=#d x=1390 y=642 class=H /><use href=#d x=1087 y=630 class=y /><use href=#d x=1384 y=644 class=C /><use href=#d x=1185 y=629 class=y /><use href=#d x=1424 y=632 class=y /><use href=#d x=1412 y=629 class=y /><use href=#d x=1308 y=545 class=J /><use href=#d x=1258 y=626 class=L /><use href=#d x=1406 y=629 class=y /><use href=#d x=1231 y=634 class=x /><use href=#d x=1444 y=644 class=C /><use href=#d x=1145 y=651 class=G /><use href=#d x=1309 y=530 class=U /><use href=#d x=1244 y=629 class=y /><use href=#d x=1067 y=643 class=C /><use href=#d x=1128 y=662 class=E /><use href=#d x=1324 y=625 class=L /><use href=#d x=1133 y=661 class=E /><use href=#d x=1159 y=639 class=B /><use href=#d x=1341 y=627 class=L /><use href=#d x=1270 y=626 class=L /><use href=#d x=1189 y=629 class=y /><use href=#d x=1355 y=630 class=y /><use href=#d x=1103 y=633 class=y /><use href=#d x=1458 y=657 class=D /><use href=#d x=1151 y=645 class=C /><use href=#d x=1432 y=635 class=x /><use href=#d x=1040 y=642 class=H /><use href=#d x=1301 y=625 class=L /><use href=#d x=1295 y=625 class=L /><use href=#d x=1218 y=641 class=H /><use href=#d x=984 y=588 class=N /><use href=#d x=1554 y=588 class=N /><use href=#d x=1111 y=638 class=B /><use href=#d x=1107 y=635 class=x /><use href=#d x=1090 y=631 class=y /><use href=#d x=1307 y=626 class=L /><use href=#d x=1330 y=626 class=L /><use href=#d x=1289 y=626 class=L /><use href=#d x=1138 y=658 class=D /><use href=#d x=1399 y=633 class=x /><use href=#d x=1252 y=627 class=L /><use href=#d x=1176 y=631 class=y /><use href=#d x=1114 y=643 class=H /><use href=#d x=1265 y=626 class=L /><use href=#d x=1439 y=640 class=B /><use href=#d x=1313 y=626 class=L /><use href=#d x=1369 y=636 class=x /><use href=#d x=1098 y=632 class=y /><use href=#d x=1380 y=642 class=H /><use href=#d x=1283 y=626 class=L /><use href=#d x=1495 y=643 class=H /><use href=#d x=1532 y=641 class=B /><use href=#d x=1006 y=641 class=B /><use href=#d x=1123 y=660 class=E /><use href=#d x=1200 y=639 class=B /><use href=#d x=1346 y=628 class=L /><use href=#d x=1238 y=631 class=y /><use href=#d x=1163 y=636 class=x /><use href=#d x=1293 y=548 class=I /><use href=#d x=1208 y=646 class=C /><use href=#d x=1203 y=644 class=H /><use href=#d x=1397 y=639 class=B /><use href=#d x=1405 y=631 class=y /><use href=#d x=1226 y=636 class=x /><use href=#d x=977 y=616 class=S /><use href=#d x=1119 y=656 class=G /><use href=#d x=1192 y=631 class=y /><use href=#d x=1319 y=626 class=L /><use href=#d x=1093 y=632 class=y /><use href=#d x=1389 y=646 class=C /><use href=#d x=1196 y=634 class=x /><use href=#d x=1394 y=644 class=H /><use href=#d x=1277 y=626 class=L /><use href=#d x=1336 y=627 class=L /><use href=#d x=1169 y=634 class=y /><use href=#d x=1422 y=632 class=y /><use href=#d x=1116 y=650 class=A /><use href=#d x=1180 y=631 class=y /><use href=#d x=1561 y=615 class=F /><use href=#d x=1416 y=631 class=y /><use href=#d x=1360 y=631 class=y /><use href=#d x=1307 y=540 class=Q /><use href=#d x=1259 y=627 class=L /><use href=#d x=1428 y=634 class=y /><use href=#d x=1411 y=631 class=y /><use href=#d x=1454 y=653 class=G /><use href=#d x=1246 y=629 class=L /><use href=#d x=1325 y=627 class=L /><use href=#d x=1309 y=542 class=R /><use href=#d x=1084 y=633 class=y /><use href=#d x=1271 y=627 class=L /><use href=#d x=1448 y=647 class=C /><use href=#d x=1142 y=653 class=G /><use href=#d x=1185 y=632 class=y /><use href=#d x=1155 y=641 class=B /><use href=#d x=1213 y=643 class=H /><use href=#d x=1352 y=629 class=L /><use href=#d x=1125 y=664 class=E /><use href=#d x=1288 y=548 class=J /><use href=#d x=1130 y=663 class=E /><use href=#d x=1295 y=627 class=T /><use href=#d x=1301 y=627 class=T /><use href=#d x=1342 y=628 class=L /><use href=#d x=1079 y=647 class=C /><use href=#d x=1459 y=647 class=C /><use href=#d x=1289 y=627 class=T /><use href=#d x=1374 y=637 class=x /><use href=#d x=1307 y=627 class=T /><use href=#d x=1233 y=632 class=y /><use href=#d x=1435 y=638 class=x /><use href=#d x=1403 y=635 class=x /><use href=#d x=1051 y=646 class=H /><use href=#d x=1331 y=628 class=L /><use href=#d x=1148 y=647 class=C /><use href=#d x=1253 y=628 class=L /><use href=#d x=1384 y=644 class=H /><use href=#d x=1100 y=635 class=y /><use href=#d x=1461 y=660 class=D /><use href=#d x=1265 y=628 class=L /><use href=#d x=1567 y=642 class=B /><use href=#d x=1017 y=643 class=H /><use href=#d x=1283 y=628 class=T /><use href=#d x=1172 y=633 class=y /><use href=#d x=1314 y=628 class=T /><use href=#d x=1221 y=638 class=x /><use href=#d x=1108 y=640 class=B /><use href=#d x=1104 y=637 class=x /><use href=#d x=1135 y=660 class=D /><use href=#d x=1087 y=634 class=y /><use href=#d x=1196 y=641 class=B /><use href=#d x=1442 y=642 class=B /><use href=#d x=971 y=641 class=B /><use href=#d x=1365 y=633 class=y /><use href=#d x=1241 y=630 class=L /><use href=#d x=1203 y=648 class=C /><use href=#d x=1111 y=645 class=H /><use href=#d x=1198 y=646 class=H /><use href=#d x=1401 y=641 class=B /><use href=#d x=1393 y=648 class=C /><use href=#d x=1277 y=628 class=T /><use href=#d x=1409 y=634 class=y /><use href=#d x=1187 y=634 class=y /><use href=#d x=977 y=609 class=V /><use href=#d x=1320 y=628 class=T /><use href=#d x=1096 y=635 class=y /><use href=#d x=1160 y=638 class=x /><use href=#d x=1398 y=646 class=H /><use href=#d x=1192 y=636 class=x /><use href=#d x=1120 y=663 class=E /><use href=#d x=1336 y=629 class=L /><use href=#d x=1347 y=629 class=L /><use href=#d x=1290 y=538 class=W /><use href=#d x=1357 y=631 class=L /><use href=#d x=1303 y=543 class=R /><use href=#d x=1176 y=633 class=y /><use href=#d x=1165 y=636 class=y /><use href=#d x=1259 y=629 class=L /><use href=#d x=1425 y=634 class=y /><use href=#d x=1517 y=645 class=H /><use href=#d x=1420 y=634 class=y /><use href=#d x=1415 y=633 class=y /><use href=#d x=1116 y=658 class=G /><use href=#d x=1091 y=635 class=y /><use href=#d x=1248 y=630 class=L /><use href=#d x=977 y=642 class=B /><use href=#d x=1431 y=636 class=y /><use href=#d x=1271 y=629 class=T /><use href=#d x=1325 y=629 class=T /><use href=#d x=1480 y=648 class=H /><use href=#d x=1113 y=652 class=A /><use href=#d x=1228 y=634 class=y /><use href=#d x=1209 y=645 class=H /><use href=#d x=1457 y=655 class=G /><use href=#d x=1181 y=634 class=y /><use href=#d x=1299 y=629 class=T /><use href=#d x=1379 y=639 class=x /><use href=#d x=1293 y=629 class=T /><use href=#d x=1306 y=629 class=T /><use href=#d x=1451 y=649 class=C /><use href=#d x=1287 y=629 class=T /><use href=#d x=1152 y=644 class=B /><use href=#d x=1562 y=605 class=K /><use href=#d x=1139 y=656 class=G /><use href=#d x=1236 y=632 class=L /><use href=#d x=1389 y=646 class=H /><use href=#d x=1342 y=630 class=L /><use href=#d x=1027 y=646 class=H /><use href=#d x=1312 y=629 class=T /><use href=#d x=1407 y=638 class=x /><use href=#d x=1370 y=635 class=y /><use href=#d x=1217 y=640 class=x /><use href=#d x=1265 y=630 class=T /><use href=#d x=1254 y=630 class=L /><use href=#d x=1555 y=644 class=B /><use href=#d x=1331 y=630 class=T /><use href=#d x=1122 y=667 class=E /><use href=#d x=1127 y=666 class=E /><use href=#d x=1353 y=631 class=L /><use href=#d x=1439 y=640 class=x /><use href=#d x=1281 y=630 class=T /><use href=#d x=1062 y=649 class=C /><use href=#d x=971 y=634 class=y /><use href=#d x=1169 y=636 class=y /><use href=#d x=1145 y=650 class=C /><use href=#d x=1362 y=632 class=L /><use href=#d x=1318 y=630 class=T /><use href=#d x=1191 y=643 class=B /><use href=#d x=1199 y=650 class=C /><use href=#d x=1242 y=631 class=L /><use href=#d x=1464 y=663 class=D /><use href=#d x=1098 y=638 class=y /><use href=#d x=1194 y=648 class=H /><use href=#d x=986 y=644 class=B /><use href=#d x=1398 y=650 class=C /><use href=#d x=1405 y=643 class=B /><use href=#d x=977 y=602 class=P /><use href=#d x=1413 y=636 class=y /><use href=#d x=1446 y=645 class=B /><use href=#d x=1402 y=649 class=H /><use href=#d x=1275 y=630 class=T /><use href=#d x=1183 y=636 class=y /><use href=#d x=1188 y=638 class=x /><use href=#d x=1105 y=643 class=B /><use href=#d x=1101 y=640 class=x /><use href=#d x=1132 y=663 class=D /><use href=#d x=1156 y=641 class=x /><use href=#d x=1260 y=631 class=T /><use href=#d x=1108 y=648 class=H /><use href=#d x=1568 y=632 class=L /><use href=#d x=1324 y=630 class=T /><use href=#d x=1337 y=631 class=T /><use href=#d x=1223 y=636 class=y /><use href=#d x=1347 y=631 class=L /><use href=#d x=1173 y=636 class=y /><use href=#d x=1093 y=637 class=y /><use href=#d x=1424 y=636 class=y /><use href=#d x=1419 y=636 class=y /><use href=#d x=1429 y=637 class=y /><use href=#d x=1162 y=638 class=y /><use href=#d x=1248 y=631 class=L /><use href=#d x=1204 y=647 class=H /><use href=#d x=1117 y=666 class=E /><use href=#d x=1383 y=641 class=x /><use href=#d x=1231 y=633 class=L /><use href=#d x=1301 y=631 class=T /><use href=#d x=1295 y=631 class=T /><use href=#d x=1269 y=631 class=T /><use href=#d x=1435 y=639 class=y /><use href=#d x=1358 y=632 class=L /><use href=#d x=1307 y=631 class=T /><use href=#d x=1114 y=661 class=G /><use href=#d x=1289 y=631 class=T /><use href=#d x=1177 y=636 class=y /><use href=#d x=1501 y=649 class=H /><use href=#d x=1375 y=636 class=y /><use href=#d x=1037 y=649 class=H /><use href=#d x=1329 y=631 class=T /><use href=#d x=1110 y=655 class=A /><use href=#d x=1212 y=642 class=x /><use href=#d x=1309 y=543 class=Q /><use href=#d x=1393 y=648 class=H /><use href=#d x=1237 y=633 class=L /><use href=#d x=1313 y=631 class=T /><use href=#d x=1283 y=631 class=T /><use href=#d x=1367 y=634 class=L /><use href=#d x=1090 y=646 class=B /><use href=#d x=996 y=647 class=B /><use href=#d x=1411 y=640 class=x /><use href=#d x=1254 y=632 class=T /><use href=#d x=1454 y=652 class=C /><use href=#d x=1343 y=632 class=T /><use href=#d x=1149 y=646 class=B /><use href=#d x=971 y=628 class=M /><use href=#d x=1539 y=648 class=H /><use href=#d x=1136 y=658 class=G /><use href=#d x=1264 y=632 class=T /><use href=#d x=1353 y=633 class=L /><use href=#d x=1074 y=652 class=C /><use href=#d x=1465 y=652 class=C /><use href=#d x=1319 y=632 class=T /><use href=#d x=1277 y=632 class=T /><use href=#d x=1442 y=643 class=x /><use href=#d x=1187 y=645 class=B /><use href=#d x=1195 y=652 class=C /><use href=#d x=1243 y=633 class=L /><use href=#d x=1165 y=638 class=y /><use href=#d x=1120 y=670 class=E /><use href=#d x=1124 y=669 class=E /><use href=#d x=1190 y=651 class=H /><use href=#d x=1402 y=652 class=C /><use href=#d x=1335 y=632 class=T /><use href=#d x=977 y=595 class=N /><use href=#d x=1562 y=595 class=N /><use href=#d x=1142 y=653 class=C /><use href=#d x=1409 y=646 class=B /><use href=#d x=1218 y=638 class=y /><use href=#d x=1406 y=651 class=H /><use href=#d x=1417 y=638 class=y /><use href=#d x=1184 y=641 class=x /><use href=#d x=1180 y=638 class=y /><use href=#d x=1467 y=665 class=D /><use href=#d x=1226 y=635 class=L /><use href=#d x=1299 y=548 class=R /><use href=#d x=1449 y=647 class=B /><use href=#d x=1363 y=634 class=L /><use href=#d x=1300 y=633 class=L /><use href=#d x=1325 y=633 class=T /><use href=#d x=1294 y=633 class=L /><use href=#d x=1271 y=633 class=T /><use href=#d x=1306 y=633 class=L /><use href=#d x=1153 y=643 class=x /><use href=#d x=1129 y=666 class=D /><use href=#d x=1249 y=633 class=T /><use href=#d x=1388 y=643 class=x /><use href=#d x=1258 y=633 class=T /><use href=#d x=1288 y=633 class=L /><use href=#d x=1169 y=638 class=y /><use href=#d x=1348 y=633 class=T /><use href=#d x=1422 y=638 class=y /><use href=#d x=1200 y=649 class=H /><use href=#d x=1428 y=638 class=y /><use href=#d x=1006 y=649 class=H /><use href=#d x=1232 y=634 class=L /><use href=#d x=1433 y=639 class=y /><use href=#d x=1106 y=651 class=H /><use href=#d x=1380 y=638 class=y /><use href=#d x=1048 y=652 class=H /><use href=#d x=1158 y=641 class=y /><use href=#d x=1312 y=634 class=L /><use href=#d x=1372 y=636 class=L /><use href=#d x=1282 y=634 class=L /><use href=#d x=1439 y=641 class=y /><use href=#d x=1341 y=633 class=T /><use href=#d x=1208 y=644 class=x /><use href=#d x=1358 y=634 class=L /><use href=#d x=1173 y=638 class=y /><use href=#d x=1115 y=669 class=E /><use href=#d x=1568 y=622 class=F /><use href=#d x=1331 y=634 class=T /><use href=#d x=1397 y=650 class=H /><use href=#d x=1238 y=634 class=L /><use href=#d x=1265 y=634 class=T /><use href=#d x=1318 y=634 class=L /><use href=#d x=971 y=622 class=F /><use href=#d x=1111 y=664 class=G /><use href=#d x=1415 y=642 class=x /><use href=#d x=1276 y=635 class=L /><use href=#d x=1108 y=658 class=A /><use href=#d x=1300 y=637 class=L /><use href=#d x=1463 y=661 class=G /><use href=#d x=1523 y=652 class=H /><use href=#d x=1486 y=653 class=H /><use href=#d x=1294 y=637 class=L /><use href=#d x=1253 y=634 class=T /><use href=#d x=1457 y=655 class=C /><use href=#d x=1088 y=649 class=B /><use href=#d x=1306 y=637 class=L /><use href=#d x=1146 y=649 class=B /><use href=#d x=1288 y=637 class=L /><use href=#d x=1214 y=640 class=y /><use href=#d x=1243 y=635 class=T /><use href=#d x=1368 y=636 class=L /><use href=#d x=1191 y=654 class=C /><use href=#d x=1324 y=635 class=L /><use href=#d x=1184 y=648 class=B /><use href=#d x=1133 y=661 class=G /><use href=#d x=1354 y=635 class=T /><use href=#d x=1221 y=637 class=L /><use href=#d x=1016 y=651 class=H /><use href=#d x=1312 y=637 class=L /><use href=#d x=1446 y=645 class=x /><use href=#d x=1162 y=641 class=y /><use href=#d x=1405 y=655 class=C /><use href=#d x=1187 y=653 class=H /><use href=#d x=1337 y=635 class=T /><use href=#d x=1083 y=649 class=B /><use href=#d x=1413 y=648 class=B /><use href=#d x=1260 y=635 class=T /><use href=#d x=1270 y=635 class=L /><use href=#d x=1346 y=635 class=T /><use href=#d x=1410 y=653 class=H /><use href=#d x=1421 y=640 class=y /><use href=#d x=1180 y=643 class=x /><use href=#d x=1282 y=638 class=L /><use href=#d x=1227 y=636 class=L /><use href=#d x=1176 y=640 class=y /><use href=#d x=1117 y=672 class=E /><use href=#d x=1122 y=672 class=E /><use href=#d x=1139 y=655 class=C /><use href=#d x=1058 y=654 class=C /><use href=#d x=1392 y=645 class=x /><use href=#d x=1318 y=638 class=L /><use href=#d x=1296 y=642 class=y /><use href=#d x=1363 y=636 class=L /><use href=#d x=1302 y=642 class=y /><use href=#d x=1384 y=640 class=y /><use href=#d x=1377 y=638 class=L /><use href=#d x=1196 y=652 class=H /><use href=#d x=1470 y=668 class=D /><use href=#d x=1290 y=642 class=y /><use href=#d x=1330 y=636 class=L /><use href=#d x=1233 y=636 class=L /><use href=#d x=1308 y=642 class=y /><use href=#d x=1426 y=640 class=y /><use href=#d x=1166 y=641 class=y /><use href=#d x=1150 y=646 class=x /><use href=#d x=1308 y=543 class=W /><use href=#d x=1276 y=638 class=L /><use href=#d x=1431 y=641 class=y /><use href=#d x=1100 y=649 class=B /><use href=#d x=1436 y=642 class=y /><use href=#d x=1127 y=668 class=D /><use href=#d x=1247 y=636 class=T /><use href=#d x=1204 y=646 class=x /><use href=#d x=1155 y=643 class=y /><use href=#d x=970 y=615 class=V /><use href=#d x=1284 y=642 class=y /><use href=#d x=1264 y=636 class=L /><use href=#d x=1314 y=642 class=y /><use href=#d x=1103 y=654 class=H /><use href=#d x=1324 y=639 class=L /><use href=#d x=1401 y=652 class=H /><use href=#d x=1342 y=636 class=T /><use href=#d x=970 y=649 class=B /><use href=#d x=1170 y=641 class=y /><use href=#d x=1238 y=636 class=T /><use href=#d x=1254 y=636 class=T /><use href=#d x=1025 y=653 class=H /><use href=#d x=1359 y=636 class=T /><use href=#d x=1506 y=672 class=E /><use href=#d x=1352 y=636 class=T /><use href=#d x=965 y=645 class=x /><use href=#d x=1112 y=671 class=E /><use href=#d x=1373 y=637 class=L /><use href=#d x=1270 y=639 class=L /><use href=#d x=1419 y=645 class=x /><use href=#d x=1278 y=643 class=y /><use href=#d x=1507 y=657 class=C /><use href=#d x=1336 y=637 class=L /><use href=#d x=1210 y=642 class=y /><use href=#d x=1320 y=643 class=y /><use href=#d x=1217 y=639 class=L /><use href=#d x=1109 y=666 class=G /><use href=#d x=1296 y=645 class=x /><use href=#d x=1568 y=613 class=K /><use href=#d x=1302 y=645 class=x /><use href=#d x=1573 y=644 class=y /><use href=#d x=1223 y=638 class=L /><use href=#d x=1561 y=651 class=B /><use href=#d x=1106 y=660 class=A /><use href=#d x=1290 y=645 class=x /><use href=#d x=1329 y=640 class=L /><use href=#d x=1188 y=657 class=C /><use href=#d x=1143 y=652 class=B /><use href=#d x=1180 y=650 class=B /><use href=#d x=1460 y=657 class=C /><use href=#d x=1259 y=637 class=L /><use href=#d x=1309 y=645 class=x /><use href=#d x=1368 y=638 class=L /><use href=#d x=1086 y=651 class=B /><use href=#d x=1069 y=657 class=C /><use href=#d x=1470 y=657 class=C /><use href=#d x=1409 y=657 class=C /><use href=#d x=1183 y=655 class=H /><use href=#d x=979 y=651 class=B /><use href=#d x=1158 y=643 class=y /><use href=#d x=1417 y=650 class=B /><use href=#d x=1131 y=664 class=G /><use href=#d x=1242 y=637 class=T /><use href=#d x=1228 y=638 class=L /><use href=#d x=1284 y=646 class=x /><use href=#d x=1272 y=644 class=y /><use href=#d x=1381 y=640 class=L /><use href=#d x=1414 y=656 class=H /><use href=#d x=1177 y=646 class=x /><use href=#d x=1424 y=643 class=y /><use href=#d x=1173 y=643 class=y /><use href=#d x=1389 y=643 class=y /><use href=#d x=1347 y=637 class=T /><use href=#d x=1396 y=648 class=x /><use href=#d x=1326 y=644 class=y /><use href=#d x=1264 y=640 class=L /><use href=#d x=1315 y=646 class=x /><use href=#d x=1081 y=652 class=B /><use href=#d x=1249 y=637 class=T /><use href=#d x=1302 y=552 class=R /><use href=#d x=1035 y=656 class=H /><use href=#d x=1136 y=658 class=C /><use href=#d x=1193 y=654 class=H /><use href=#d x=1304 y=558 class=J /><use href=#d x=1115 y=675 class=E /><use href=#d x=1120 y=674 class=E /><use href=#d x=1341 y=638 class=L /><use href=#d x=1233 y=638 class=T /><use href=#d x=970 y=609 class=P /><use href=#d x=1278 y=646 class=x /><use href=#d x=1455 y=653 class=B /><use href=#d x=1364 y=638 class=T /><use href=#d x=1429 y=643 class=y /><use href=#d x=1357 y=638 class=T /><use href=#d x=1335 y=641 class=L /><use href=#d x=1200 y=648 class=x /><use href=#d x=1162 y=643 class=y /><use href=#d x=1434 y=643 class=y /><use href=#d x=1472 y=671 class=D /><use href=#d x=1147 y=649 class=x /><use href=#d x=1439 y=644 class=y /><use href=#d x=1321 y=647 class=x /><use href=#d x=1486 y=672 class=D /><use href=#d x=965 y=640 class=L /><use href=#d x=988 y=653 class=B /><use href=#d x=1266 y=645 class=y /><use href=#d x=1253 y=639 class=L /><use href=#d x=1152 y=646 class=y /><use href=#d x=1295 y=547 class=W /><use href=#d x=1405 y=655 class=H /><use href=#d x=1098 y=651 class=B /><use href=#d x=1377 y=639 class=L /><use href=#d x=1124 y=671 class=D /><use href=#d x=1332 y=645 class=y /><use href=#d x=1167 y=643 class=y /><use href=#d x=1445 y=646 class=y /><use href=#d x=1259 y=641 class=L /><use href=#d x=1101 y=656 class=H /><use href=#d x=1212 y=641 class=L /><use href=#d x=1545 y=655 class=H /><use href=#d x=1272 y=647 class=x /><use href=#d x=1206 y=644 class=y /><use href=#d x=1218 y=640 class=L /><use href=#d x=1422 y=647 class=x /><use href=#d x=1353 y=639 class=T /><use href=#d x=1373 y=639 class=L /><use href=#d x=1237 y=639 class=T /><use href=#d x=1280 y=558 class=J /><use href=#d x=1326 y=648 class=x /><use href=#d x=1244 y=639 class=T /><use href=#d x=1110 y=674 class=E /><use href=#d x=1299 y=645 class=y /><use href=#d x=1045 y=658 class=H /><use href=#d x=1224 y=640 class=L /><use href=#d x=1346 y=640 class=L /><use href=#d x=1293 y=646 class=y /><use href=#d x=1305 y=646 class=y /><use href=#d x=1341 y=642 class=L /><use href=#d x=1107 y=669 class=G /><use href=#d x=1184 y=659 class=C /><use href=#d x=1177 y=653 class=B /><use href=#d x=1386 y=642 class=L /><use href=#d x=997 y=655 class=B /><use href=#d x=1510 y=656 class=H /><use href=#d x=1293 y=554 class=R /><use href=#d x=1260 y=646 class=y /><use href=#d x=1287 y=646 class=y /><use href=#d x=1413 y=660 class=C /><use href=#d x=1468 y=666 class=G /><use href=#d x=1140 y=654 class=B /><use href=#d x=1103 y=663 class=A /><use href=#d x=1180 y=658 class=H /><use href=#d x=1462 y=660 class=C /><use href=#d x=1393 y=645 class=y /><use href=#d x=1311 y=646 class=y /><use href=#d x=1420 y=653 class=B /><use href=#d x=1229 y=640 class=T /><use href=#d x=1337 y=646 class=y /><use href=#d x=1307 y=549 class=W /><use href=#d x=1362 y=640 class=T /><use href=#d x=1400 y=650 class=x /><use href=#d x=1155 y=646 class=y /><use href=#d x=1267 y=648 class=x /><use href=#d x=1417 y=658 class=H /><use href=#d x=1083 y=654 class=B /><use href=#d x=1569 y=603 class=N /><use href=#d x=1248 y=640 class=L /><use href=#d x=1173 y=648 class=x /><use href=#d x=1427 y=645 class=y /><use href=#d x=1368 y=640 class=T /><use href=#d x=970 y=603 class=N /><use href=#d x=1452 y=650 class=x /><use href=#d x=1169 y=645 class=y /><use href=#d x=1574 y=634 class=M /><use href=#d x=1128 y=667 class=G /><use href=#d x=1491 y=668 class=G /><use href=#d x=1253 y=643 class=L /><use href=#d x=965 y=634 class=M /><use href=#d x=1281 y=646 class=y /><use href=#d x=1189 y=657 class=H /><use href=#d x=1332 y=649 class=x /><use href=#d x=1317 y=647 class=y /><use href=#d x=1079 y=655 class=B /><use href=#d x=1196 y=651 class=x /><use href=#d x=1134 y=661 class=C /><use href=#d x=1382 y=642 class=L /><use href=#d x=1113 y=678 class=E /><use href=#d x=1118 y=677 class=E /><use href=#d x=1159 y=646 class=y /><use href=#d x=1006 y=657 class=H /><use href=#d x=1458 y=655 class=B /><use href=#d x=1438 y=646 class=y /><use href=#d x=1528 y=659 class=H /><use href=#d x=1054 y=660 class=C /><use href=#d x=1358 y=641 class=T /><use href=#d x=1144 y=651 class=x /><use href=#d x=1442 y=647 class=y /><use href=#d x=1346 y=644 class=L /><use href=#d x=1408 y=657 class=H /><use href=#d x=1352 y=641 class=L /><use href=#d x=1232 y=641 class=T /><use href=#d x=1239 y=641 class=T /><use href=#d x=1208 y=643 class=L /><use href=#d x=1275 y=647 class=y /><use href=#d x=1149 y=649 class=y /><use href=#d x=1255 y=647 class=y /><use href=#d x=1214 y=642 class=L /><use href=#d x=1377 y=642 class=L /><use href=#d x=1202 y=646 class=y /><use href=#d x=1261 y=650 class=x /><use href=#d x=1163 y=646 class=y /><use href=#d x=1323 y=647 class=y /><use href=#d x=1096 y=654 class=B /><use href=#d x=1122 y=674 class=D /><use href=#d x=1343 y=648 class=y /><use href=#d x=1219 y=642 class=L /><use href=#d x=1454 y=677 class=E /><use href=#d x=1099 y=659 class=H /><use href=#d x=1243 y=642 class=L /><use href=#d x=1338 y=650 class=x /><use href=#d x=1248 y=644 class=L /><use href=#d x=1366 y=642 class=T /><use href=#d x=1390 y=644 class=L /><use href=#d x=1015 y=659 class=H /><use href=#d x=1224 y=642 class=T /><use href=#d x=1373 y=642 class=T /><use href=#d x=1181 y=662 class=C /><use href=#d x=1269 y=648 class=y /><use href=#d x=965 y=628 class=F /><use href=#d x=1108 y=677 class=E /><use href=#d x=1396 y=647 class=y /><use href=#d x=1174 y=655 class=B /><use href=#d x=1299 y=645 class=L /><use href=#d x=1416 y=662 class=C /><use href=#d x=1293 y=645 class=L /><use href=#d x=1105 y=672 class=G /><use href=#d x=1329 y=649 class=y /><use href=#d x=1305 y=645 class=L /><use href=#d x=1177 y=661 class=H /><use href=#d x=1403 y=653 class=x /><use href=#d x=1064 y=662 class=C /><use href=#d x=1497 y=675 class=D /><use href=#d x=1423 y=656 class=B /><use href=#d x=1137 y=657 class=B /><use href=#d x=1465 y=663 class=C /><use href=#d x=1420 y=661 class=H /><use href=#d x=1153 y=648 class=y /><use href=#d x=1170 y=651 class=x /><use href=#d x=1101 y=666 class=A /><use href=#d x=1431 y=648 class=y /><use href=#d x=1351 y=645 class=L /><use href=#d x=1287 y=645 class=L /><use href=#d x=1166 y=648 class=y /><use href=#d x=1256 y=651 class=x /><use href=#d x=1512 y=663 class=C /><use href=#d x=1454 y=653 class=x /><use href=#d x=1362 y=642 class=T /><use href=#d x=1250 y=649 class=y /><use href=#d x=1311 y=645 class=L /><use href=#d x=1357 y=643 class=L /><use href=#d x=1307 y=551 class=W /><use href=#d x=1081 y=657 class=B /><use href=#d x=1186 y=659 class=H /><use href=#d x=1386 y=644 class=L /><use href=#d x=1126 y=669 class=G /><use href=#d x=1234 y=643 class=T /><use href=#d x=1193 y=653 class=x /><use href=#d x=1348 y=649 class=y /><use href=#d x=1228 y=643 class=T /><use href=#d x=1024 y=660 class=H /><use href=#d x=1574 y=625 class=V /><use href=#d x=1299 y=560 class=R /><use href=#d x=1281 y=646 class=L /><use href=#d x=1343 y=652 class=x /><use href=#d x=1131 y=663 class=C /><use href=#d x=1077 y=657 class=B /><use href=#d x=1264 y=650 class=y /><use href=#d x=1205 y=645 class=L /><use href=#d x=1156 y=648 class=y /><use href=#d x=1381 y=644 class=L /><use href=#d x=1210 y=644 class=L /><use href=#d x=1317 y=646 class=L /><use href=#d x=1440 y=648 class=y /><use href=#d x=1238 y=644 class=L /><use href=#d x=960 y=656 class=B /><use href=#d x=1111 y=681 class=E /><use href=#d x=1412 y=660 class=H /><use href=#d x=1243 y=646 class=L /><use href=#d x=1116 y=680 class=E /><use href=#d x=1445 y=650 class=y /><use href=#d x=1334 y=650 class=y /><use href=#d x=1198 y=649 class=y /><use href=#d x=1215 y=644 class=L /><use href=#d x=1142 y=654 class=x /><use href=#d x=1147 y=651 class=y /><use href=#d x=1161 y=649 class=y /><use href=#d x=1371 y=644 class=T /><use href=#d x=967 y=657 class=B /><use href=#d x=965 y=622 class=V /><use href=#d x=1275 y=646 class=L /><use href=#d x=1290 y=563 class=J /><use href=#d x=1451 y=652 class=y /><use href=#d x=1094 y=657 class=B /><use href=#d x=1220 y=644 class=T /><use href=#d x=1120 y=677 class=D /><use href=#d x=1033 y=662 class=H /><use href=#d x=1394 y=646 class=L /><use href=#d x=1429 y=652 class=x /><use href=#d x=1377 y=644 class=T /><use href=#d x=1323 y=647 class=L /><use href=#d x=1501 y=667 class=C /><use href=#d x=1251 y=653 class=x /><use href=#d x=1097 y=662 class=H /><use href=#d x=1356 y=647 class=L /><use href=#d x=1245 y=651 class=y /><use href=#d x=1400 y=650 class=y /><use href=#d x=1361 y=645 class=L /><use href=#d x=1179 y=665 class=C /><use href=#d x=1298 y=645 class=T /><use href=#d x=1258 y=651 class=y /><use href=#d x=1367 y=644 class=T /><use href=#d x=975 y=659 class=B /><use href=#d x=1171 y=658 class=B /><use href=#d x=1353 y=651 class=y /><use href=#d x=1304 y=645 class=T /><use href=#d x=1407 y=655 class=x /><use href=#d x=1285 y=563 class=J /><use href=#d x=1292 y=645 class=T /><use href=#d x=1107 y=680 class=E /><use href=#d x=1230 y=645 class=T /><use href=#d x=1174 y=663 class=H /><use href=#d x=1348 y=653 class=x /><use href=#d x=1426 y=658 class=X /><use href=#d x=1270 y=647 class=Y /><use href=#d x=1340 y=651 class=Z /><use href=#d x=1224 y=645 class=aa /><use href=#d x=1103 y=675 class=ab /><use href=#d x=1135 y=660 class=X /><use href=#d x=1390 y=646 class=Y /><use href=#d x=1167 y=653 class=ac /><use href=#d x=960 y=650 class=Z /><use href=#d x=1150 y=651 class=Z /><use href=#d x=1310 y=645 class=aa /><use href=#d x=1163 y=651 class=Z /><use href=#d x=1286 y=645 class=aa /><use href=#d x=1042 y=664 class=ad /><use href=#d x=1183 y=662 class=ad /><use href=#d x=1329 y=648 class=Y /><use href=#d x=1100 y=669 class=ae /><use href=#d x=1239 y=648 class=Y /><use href=#d x=1234 y=646 class=Y /><use href=#d x=1457 y=656 class=ac /><use href=#d x=1189 y=656 class=ac /><use href=#d x=983 y=660 class=X /><use href=#d x=1282 y=551 class=af /><use href=#d x=1385 y=646 class=Y /><use href=#d x=1124 y=672 class=ab /><use href=#d x=1206 y=647 class=Y /><use href=#d x=1201 y=648 class=Y /><use href=#d x=964 y=616 class=ag /><use href=#d x=1566 y=638 class=ah /><use href=#d x=1316 y=646 class=aa /><use href=#d x=1438 y=651 class=Z /><use href=#d x=1211 y=646 class=Y /><use href=#d x=1280 y=646 class=aa /><use href=#d x=1154 y=651 class=Z /><use href=#d x=1491 y=681 class=ai /><use href=#d x=1129 y=666 class=aj /><use href=#d x=1375 y=646 class=aa /><use href=#d x=1415 y=662 class=ad /><use href=#d x=1195 y=651 class=Z /><use href=#d x=1075 y=660 class=X /><use href=#d x=1246 y=655 class=ac /><use href=#d x=1574 y=615 class=ak /><use href=#d x=1110 y=684 class=ai /><use href=#d x=1216 y=646 class=aa /><use href=#d x=1114 y=683 class=ai /><use href=#d x=1264 y=649 class=Y /><use href=#d x=1139 y=657 class=ac /><use href=#d x=991 y=662 class=X /><use href=#d x=1253 y=653 class=Z /><use href=#d x=1360 y=649 class=Y /><use href=#d x=1051 y=666 class=aj /><use href=#d x=1240 y=653 class=Z /><use href=#d x=1381 y=647 class=aa /><use href=#d x=1158 y=651 class=Z /><use href=#d x=1291 y=558 class=al /><use href=#d x=1144 y=654 class=Z /><use href=#d x=1397 y=649 class=Y /><use href=#d x=1366 y=647 class=Y /><use href=#d x=1334 y=649 class=Y /><use href=#d x=1357 y=653 class=Z /><use href=#d x=1322 y=647 class=aa /><use href=#d x=1345 y=653 class=Z /><use href=#d x=1453 y=654 class=Z /><use href=#d x=1274 y=647 class=aa /><use href=#d x=1431 y=655 class=ac /><use href=#d x=1471 y=682 class=ai /><use href=#d x=1092 y=660 class=X /><use href=#d x=1353 y=655 class=ac /><use href=#d x=1371 y=647 class=aa /><use href=#d x=960 y=645 class=aa /><use href=#d x=1297 y=646 class=aa /><use href=#d x=1303 y=646 class=aa /><use href=#d x=1118 y=680 class=am /><use href=#d x=1403 y=652 class=Z /><use href=#d x=1490 y=666 class=aj /><use href=#d x=1225 y=647 class=aa /><use href=#d x=1291 y=646 class=aa /><use href=#d x=999 y=663 class=ad /><use href=#d x=1447 y=666 class=ad /><use href=#d x=1095 y=665 class=ad /><use href=#d x=1309 y=646 class=aa /><use href=#d x=1176 y=667 class=aj /><use href=#d x=1220 y=647 class=aa /><use href=#d x=1234 y=650 class=Y /><use href=#d x=1168 y=661 class=X /><use href=#d x=1410 y=658 class=ac /><use href=#d x=1230 y=648 class=Y /><use href=#d x=1450 y=682 class=ai /><use href=#d x=1393 y=649 class=Y /><use href=#d x=1060 y=668 class=aj /><use href=#d x=1285 y=647 class=aa /><use href=#d x=1473 y=666 class=ad /><use href=#d x=1172 y=666 class=ad /><use href=#d x=964 y=610 class=an /><use href=#d x=1429 y=661 class=X /><use href=#d x=1105 y=683 class=ai /><use href=#d x=1259 y=650 class=Y /><use href=#d x=1165 y=656 class=ac /><use href=#d x=1328 y=648 class=aa /><use href=#d x=1315 y=647 class=aa /><use href=#d x=1436 y=653 class=Z /><use href=#d x=1133 y=663 class=X /><use href=#d x=1148 y=654 class=Z /><use href=#d x=1161 y=653 class=Z /><use href=#d x=1269 y=648 class=aa /><use href=#d x=1303 y=567 class=ao /><use href=#d x=1101 y=678 class=ab /><use href=#d x=1459 y=682 class=ai /><use href=#d x=1008 y=664 class=ad /><use href=#d x=1389 y=648 class=Y /><use href=#d x=1180 y=664 class=ad /><use href=#d x=1186 y=658 class=ac /><use href=#d x=1203 y=649 class=Y /><use href=#d x=1241 y=657 class=ac /><use href=#d x=1453 y=669 class=aj /><use href=#d x=1248 y=654 class=Z /><use href=#d x=1198 y=650 class=Y /><use href=#d x=1098 y=672 class=ae /><use href=#d x=1287 y=550 class=ap /><use href=#d x=1340 y=651 class=Y /><use href=#d x=1208 y=649 class=Y /><use href=#d x=1573 y=643 class=aq /><use href=#d x=1279 y=648 class=aa /><use href=#d x=1379 y=648 class=aa /><use href=#d x=1301 y=554 class=af /><use href=#d x=1504 y=672 class=ae /><use href=#d x=1463 y=680 class=am /><use href=#d x=1365 y=651 class=Y /><use href=#d x=1122 y=675 class=ab /><use href=#d x=1236 y=655 class=Z /><use href=#d x=960 y=640 class=ah /><use href=#d x=1350 y=655 class=Z /><use href=#d x=1192 y=654 class=Z /><use href=#d x=1212 y=649 class=aa /><use href=#d x=1151 y=654 class=Z /><use href=#d x=1417 y=665 class=ad /><use href=#d x=1485 y=682 class=am /><use href=#d x=1321 y=648 class=aa /><use href=#d x=1016 y=666 class=ad /><use href=#d x=1127 y=669 class=aj /><use href=#d x=1385 y=649 class=aa /><use href=#d x=1301 y=648 class=aa /><use href=#d x=1362 y=655 class=Z /><use href=#d x=1370 y=649 class=Y /><use href=#d x=1295 y=648 class=aa /><use href=#d x=1357 y=657 class=ac /><use href=#d x=1074 y=663 class=X /><use href=#d x=1495 y=667 class=ad /><use href=#d x=1450 y=655 class=Z /><use href=#d x=1282 y=550 class=ap /><use href=#d x=1400 y=651 class=Y /><use href=#d x=1137 y=660 class=ac /><use href=#d x=1375 y=649 class=aa /><use href=#d x=1307 y=648 class=aa /><use href=#d x=1108 y=687 class=ai /><use href=#d x=1155 y=654 class=Z /><use href=#d x=1112 y=686 class=ai /><use href=#d x=1289 y=648 class=aa /><use href=#d x=1142 y=657 class=Z /><use href=#d x=1333 y=649 class=aa /><use href=#d x=1263 y=649 class=aa /><use href=#d x=1273 y=649 class=aa /><use href=#d x=1221 y=649 class=aa /><use href=#d x=1575 y=639 class=ah /><use href=#d x=1434 y=658 class=ac /><use href=#d x=1254 y=652 class=Y /><use href=#d x=1230 y=652 class=Y /><use href=#d x=1024 y=667 class=ad /><use href=#d x=1090 y=663 class=X /><use href=#d x=1216 y=650 class=aa /><use href=#d x=1313 y=649 class=aa /><use href=#d x=1226 y=650 class=Y /><use href=#d x=1467 y=671 class=aj /><use href=#d x=1117 y=683 class=am /><use href=#d x=1283 y=649 class=aa /><use href=#d x=1326 y=649 class=aa /><use href=#d x=1345 y=652 class=Y /><use href=#d x=1174 y=670 class=aj /><use href=#d x=1397 y=651 class=Y /><use href=#d x=1093 y=668 class=ad /><use href=#d x=1166 y=663 class=X /><use href=#d x=1244 y=657 class=Z /><use href=#d x=960 y=634 class=ar /><use href=#d x=1237 y=659 class=ac /><use href=#d x=1477 y=684 class=am /><use href=#d x=1169 y=669 class=ad /><use href=#d x=1285 y=563 class=al /><use href=#d x=1032 y=669 class=ad /><use href=#d x=1431 y=664 class=X /><use href=#d x=1392 y=651 class=Y /><use href=#d x=1162 y=659 class=ac /><use href=#d x=1428 y=669 class=ad /><use href=#d x=1268 y=650 class=aa /><use href=#d x=1319 y=650 class=aa /><use href=#d x=1104 y=686 class=ai /><use href=#d x=1480 y=671 class=aj /><use href=#d x=1200 y=652 class=Y /><use href=#d x=1510 y=676 class=ae /><use href=#d x=1158 y=656 class=Z /><use href=#d x=1354 y=657 class=Z /><use href=#d x=1145 y=657 class=Z /><use href=#d x=1577 y=634 class=ar /><use href=#d x=1178 y=667 class=ad /><use href=#d x=1300 y=650 class=aa /><use href=#d x=1131 y=665 class=X /><use href=#d x=1369 y=653 class=Y /><use href=#d x=1383 y=651 class=aa /><use href=#d x=1277 y=650 class=aa /><use href=#d x=1205 y=651 class=Y /><use href=#d x=1184 y=661 class=ac /><use href=#d x=1195 y=653 class=Y /><use href=#d x=956 y=665 class=X /><use href=#d x=1294 y=650 class=aa /><use href=#d x=1232 y=657 class=Z /><use href=#d x=1100 y=681 class=ab /><use href=#d x=1338 y=651 class=aa /><use href=#d x=1258 y=651 class=aa /><use href=#d x=1306 y=650 class=aa /><use href=#d x=1096 y=675 class=ae /><use href=#d x=1494 y=685 class=am /><use href=#d x=1361 y=660 class=ac /><use href=#d x=1366 y=658 class=Z /><use href=#d x=1209 y=651 class=aa /><use href=#d x=1513 y=667 class=ad /><use href=#d x=1312 y=560 class=as /><use href=#d x=1374 y=652 class=Y /><use href=#d x=1288 y=651 class=aa /><use href=#d x=1189 y=656 class=Z /><use href=#d x=1041 y=670 class=ad /><use href=#d x=1332 y=651 class=aa /><use href=#d x=1443 y=656 class=Z /><use href=#d x=1388 y=651 class=aa /><use href=#d x=1456 y=677 class=ae /><use href=#d x=1121 y=678 class=ab /><use href=#d x=1249 y=654 class=Y /><use href=#d x=1149 y=657 class=Z /><use href=#d x=1312 y=651 class=aa /><use href=#d x=1379 y=651 class=aa /><use href=#d x=1126 y=672 class=aj /><use href=#d x=1403 y=654 class=Y /><use href=#d x=1218 y=652 class=aa /><use href=#d x=1325 y=651 class=aa /><use href=#d x=1072 y=666 class=X /><use href=#d x=1448 y=677 class=ae /><use href=#d x=1579 y=629 class=at /><use href=#d x=1226 y=655 class=Y /><use href=#d x=965 y=665 class=X /><use href=#d x=1153 y=657 class=Z /><use href=#d x=1282 y=651 class=aa /><use href=#d x=1271 y=651 class=aa /><use href=#d x=1135 y=662 class=ac /><use href=#d x=1349 y=654 class=Y /><use href=#d x=960 y=629 class=au /><use href=#d x=1107 y=690 class=ai /><use href=#d x=1140 y=660 class=Z /><use href=#d x=1049 y=672 class=aj /><use href=#d x=1111 y=689 class=ai /><use href=#d x=1263 y=651 class=aa /><use href=#d x=1222 y=653 class=Y /><use href=#d x=1212 y=652 class=aa /><use href=#d x=1289 y=556 class=af /><use href=#d x=1409 y=657 class=Z /><use href=#d x=1436 y=661 class=ac /><use href=#d x=1296 y=654 class=Y /><use href=#d x=1302 y=654 class=Y /><use href=#d x=1307 y=554 class=ap /><use href=#d x=956 y=660 class=ac /><use href=#d x=1318 y=652 class=aa /><use href=#d x=1240 y=659 class=Z /><use href=#d x=1501 y=669 class=ad /><use href=#d x=972 y=666 class=X /><use href=#d x=1088 y=666 class=X /><use href=#d x=1400 y=654 class=Y /><use href=#d x=1233 y=661 class=ac /><use href=#d x=1290 y=654 class=Y /><use href=#d x=1343 y=653 class=aa /><use href=#d x=1308 y=654 class=Y /><use href=#d x=1296 y=564 class=al /><use href=#d x=1115 y=685 class=am /><use href=#d x=1254 y=653 class=aa /><use href=#d x=1461 y=678 class=ae /><use href=#d x=1415 y=663 class=ac /><use href=#d x=1171 y=673 class=aj /><use href=#d x=1290 y=556 class=af /><use href=#d x=1358 y=659 class=Z /><use href=#d x=1057 y=673 class=aj /><use href=#d x=1337 y=652 class=aa /><use href=#d x=1164 y=666 class=X /><use href=#d x=1276 y=653 class=aa /><use href=#d x=1092 y=671 class=ad /><use href=#d x=980 y=667 class=X /><use href=#d x=1395 y=654 class=Y /><use href=#d x=1426 y=673 class=aj /><use href=#d x=1372 y=656 class=Y /><use href=#d x=1167 y=672 class=ad /><use href=#d x=1228 y=660 class=Z /><use href=#d x=1330 y=652 class=aa /><use href=#d x=1433 y=667 class=X /><use href=#d x=1197 y=654 class=Y /><use href=#d x=1386 y=653 class=aa /><use href=#d x=1284 y=655 class=Y /><use href=#d x=1202 y=654 class=Y /><use href=#d x=1314 y=655 class=Y /><use href=#d x=1160 y=662 class=ac /><use href=#d x=1266 y=653 class=aa /><use href=#d x=1570 y=645 class=ah /><use href=#d x=1192 y=656 class=Y /><use href=#d x=1441 y=659 class=Z /><use href=#d x=1156 y=659 class=Z /><use href=#d x=1176 y=670 class=ad /><use href=#d x=1143 y=660 class=Z /><use href=#d x=987 y=668 class=X /><use href=#d x=1181 y=664 class=ac /><use href=#d x=1365 y=662 class=ac /><use href=#d x=1102 y=689 class=ai /><use href=#d x=1324 y=653 class=aa /><use href=#d x=1245 y=656 class=Y /><use href=#d x=1129 y=668 class=X /><use href=#d x=1369 y=660 class=Z /><use href=#d x=1301 y=658 class=Z /><use href=#d x=1377 y=654 class=Y /><use href=#d x=1295 y=658 class=Z /><use href=#d x=959 y=624 class=ak /><use href=#d x=1206 y=654 class=aa /><use href=#d x=1099 y=684 class=ab /><use href=#d x=1258 y=653 class=aa /><use href=#d x=1392 y=654 class=aa /><use href=#d x=1307 y=658 class=Z /><use href=#d x=956 y=656 class=Y /><use href=#d x=1186 y=659 class=Z /><use href=#d x=1095 y=678 class=ae /><use href=#d x=1382 y=654 class=aa /><use href=#d x=995 y=670 class=X /><use href=#d x=1289 y=658 class=Z /><use href=#d x=1446 y=659 class=Z /><use href=#d x=1353 y=657 class=Y /><use href=#d x=1422 y=671 class=ad /><use href=#d x=1119 y=681 class=ab /><use href=#d x=1215 y=654 class=aa /><use href=#d x=1147 y=659 class=Z /><use href=#d x=1271 y=654 class=aa /><use href=#d x=1278 y=656 class=Y /><use href=#d x=1223 y=657 class=Y /><use href=#d x=1320 y=656 class=Y /><use href=#d x=1466 y=682 class=ab /><use href=#d x=1512 y=690 class=ai /><use href=#d x=1124 y=675 class=aj /><use href=#d x=1002 y=671 class=ad /><use href=#d x=1313 y=659 class=Z /><use href=#d x=1219 y=655 class=Y /><use href=#d x=1348 y=655 class=aa /><use href=#d x=1236 y=661 class=Z /><use href=#d x=1151 y=660 class=Z /><use href=#d x=1071 y=669 class=X /><use href=#d x=1209 y=655 class=aa /><use href=#d x=1342 y=654 class=aa /><use href=#d x=1471 y=690 class=ai /><use href=#d x=1249 y=655 class=aa /><use href=#d x=1133 y=665 class=ac /><use href=#d x=1283 y=659 class=Z /><use href=#d x=1138 y=663 class=Z /><use href=#d x=1336 y=654 class=aa /><use href=#d x=1288 y=552 class=av /><use href=#d x=1106 y=693 class=ai /><use href=#d x=1412 y=660 class=Z /><use href=#d x=1329 y=655 class=aa /><use href=#d x=1110 y=692 class=ai /><use href=#d x=1483 y=678 class=aj /><use href=#d x=1010 y=672 class=ad /><use href=#d x=1230 y=664 class=ac /><use href=#d x=1438 y=663 class=ac /><use href=#d x=1261 y=654 class=aa /><use href=#d x=1294 y=563 class=as /><use href=#d x=1362 y=662 class=Z /><use href=#d x=1402 y=656 class=Y /><use href=#d x=1302 y=660 class=Z /><use href=#d x=1296 y=660 class=Z /><use href=#d x=959 y=618 class=an /><use href=#d x=1087 y=668 class=X /><use href=#d x=1083 y=665 class=ac /><use href=#d x=956 y=651 class=aq /><use href=#d x=1418 y=666 class=ac /><use href=#d x=1376 y=658 class=Y /><use href=#d x=1017 y=673 class=ad /><use href=#d x=1114 y=688 class=am /><use href=#d x=1319 y=660 class=Z /><use href=#d x=1170 y=676 class=aj /><use href=#d x=1272 y=657 class=Y /><use href=#d x=1398 y=656 class=Y /><use href=#d x=1225 y=662 class=Z /><use href=#d x=1325 y=657 class=Y /><use href=#d x=1463 y=688 class=am /><use href=#d x=1162 y=669 class=X /><use href=#d x=1308 y=661 class=Z /><use href=#d x=1290 y=661 class=Z /><use href=#d x=1241 y=658 class=Y /><use href=#d x=1253 y=655 class=aa /><use href=#d x=1389 y=656 class=aa /><use href=#d x=1428 y=676 class=aj /><use href=#d x=1091 y=674 class=ad /><use href=#d x=1265 y=655 class=aa /><use href=#d x=1194 y=657 class=Y /><use href=#d x=1579 y=651 class=aq /><use href=#d x=1199 y=657 class=Y /><use href=#d x=1165 y=674 class=ad /><use href=#d x=1277 y=660 class=Z /><use href=#d x=1369 y=665 class=ac /><use href=#d x=1474 y=673 class=ad /><use href=#d x=1435 y=669 class=X /><use href=#d x=1373 y=663 class=Z /><use href=#d x=1287 y=562 class=as /><use href=#d x=1189 y=658 class=Y /><use href=#d x=1025 y=674 class=ad /><use href=#d x=1381 y=657 class=Y /><use href=#d x=1158 y=665 class=ac /><use href=#d x=1432 y=675 class=ad /><use href=#d x=1443 y=662 class=Z /><use href=#d x=1174 y=673 class=ad /><use href=#d x=1154 y=662 class=Z /><use href=#d x=1179 y=667 class=ac /><use href=#d x=1455 y=688 class=am /><use href=#d x=1142 y=662 class=Z /><use href=#d x=1203 y=657 class=aa /><use href=#d x=1128 y=671 class=X /><use href=#d x=1357 y=659 class=Y /><use href=#d x=1101 y=692 class=ai /><use href=#d x=1314 y=661 class=Z /><use href=#d x=1284 y=661 class=Z /><use href=#d x=1098 y=687 class=ab /><use href=#d x=1032 y=675 class=ad /><use href=#d x=1184 y=662 class=Z /><use href=#d x=1334 y=656 class=aa /><use href=#d x=1066 y=671 class=X /><use href=#d x=1346 y=656 class=aa /><use href=#d x=1340 y=656 class=aa /><use href=#d x=1212 y=657 class=aa /><use href=#d x=1352 y=657 class=aa /><use href=#d x=1094 y=681 class=ae /><use href=#d x=1220 y=660 class=Y /><use href=#d x=1487 y=675 class=ad /><use href=#d x=1448 y=662 class=Z /><use href=#d x=1245 y=657 class=aa /><use href=#d x=1324 y=661 class=Z /><use href=#d x=1424 y=674 class=ad /><use href=#d x=956 y=646 class=aw /><use href=#d x=1256 y=656 class=aa /><use href=#d x=1409 y=659 class=Y /><use href=#d x=1145 y=662 class=Z /><use href=#d x=1118 y=684 class=ab /><use href=#d x=1581 y=646 class=aw /><use href=#d x=1233 y=664 class=Z /><use href=#d x=1216 y=658 class=Y /><use href=#d x=1040 y=676 class=aj /><use href=#d x=1267 y=659 class=Y /><use href=#d x=1330 y=659 class=Y /><use href=#d x=1207 y=657 class=aa /><use href=#d x=1123 y=678 class=aj /><use href=#d x=1272 y=661 class=Z /><use href=#d x=1149 y=662 class=Z /><use href=#d x=1070 y=672 class=X /><use href=#d x=1227 y=666 class=ac /><use href=#d x=1132 y=668 class=ac /><use href=#d x=1319 y=663 class=Z /><use href=#d x=1278 y=663 class=Z /><use href=#d x=1136 y=666 class=Z /><use href=#d x=1365 y=664 class=Z /><use href=#d x=1047 y=677 class=aj /><use href=#d x=1261 y=657 class=aa /><use href=#d x=1105 y=696 class=ai /><use href=#d x=1296 y=661 class=Y /><use href=#d x=1302 y=661 class=Y /><use href=#d x=1458 y=674 class=ad /><use href=#d x=1109 y=695 class=ai /><use href=#d x=1440 y=666 class=ac /><use href=#d x=1249 y=657 class=aa /><use href=#d x=1405 y=659 class=Y /><use href=#d x=1291 y=565 class=as /><use href=#d x=1379 y=661 class=Y /><use href=#d x=1237 y=661 class=Y /><use href=#d x=1054 y=679 class=aj /><use href=#d x=1290 y=661 class=Y /><use href=#d x=1222 y=665 class=Z /><use href=#d x=1086 y=671 class=X /><use href=#d x=1308 y=661 class=Y /><use href=#d x=1401 y=659 class=Y /><use href=#d x=1082 y=668 class=ac /><use href=#d x=1292 y=564 class=af /><use href=#d x=1420 y=669 class=ac /><use href=#d x=1583 y=642 class=ar /><use href=#d x=1168 y=679 class=aj /><use href=#d x=1392 y=659 class=aa /><use href=#d x=1113 y=691 class=am /><use href=#d x=1160 y=672 class=X /><use href=#d x=1372 y=667 class=ac /><use href=#d x=955 y=641 class=ar /><use href=#d x=1192 y=660 class=Y /><use href=#d x=1196 y=659 class=Y /><use href=#d x=1329 y=663 class=Z /><use href=#d x=1339 y=658 class=aa /><use href=#d x=1430 y=679 class=aj /><use href=#d x=1376 y=665 class=Z /><use href=#d x=1089 y=677 class=ad /><use href=#d x=1164 y=677 class=ad /><use href=#d x=1361 y=661 class=Y /><use href=#d x=1187 y=661 class=Y /><use href=#d x=1437 y=672 class=X /><use href=#d x=1345 y=658 class=aa /><use href=#d x=1157 y=667 class=ac /><use href=#d x=1350 y=658 class=aa /><use href=#d x=1434 y=678 class=ad /><use href=#d x=1200 y=659 class=aa /><use href=#d x=1172 y=676 class=ad /><use href=#d x=1177 y=670 class=ac /><use href=#d x=1153 y=665 class=Z /><use href=#d x=1262 y=660 class=Y /><use href=#d x=1140 y=665 class=Z /><use href=#d x=1284 y=662 class=Y /><use href=#d x=1356 y=659 class=aa /><use href=#d x=1252 y=658 class=aa /><use href=#d x=1267 y=663 class=Z /><use href=#d x=1335 y=661 class=Y /><use href=#d x=1397 y=660 class=aa /><use href=#d x=1325 y=664 class=Z /><use href=#d x=1273 y=664 class=Z /><use href=#d x=1388 y=659 class=aa /><use href=#d x=1314 y=662 class=Y /><use href=#d x=1127 y=674 class=X /><use href=#d x=1510 y=686 class=ab /><use href=#d x=1100 y=695 class=ai /><use href=#d x=1241 y=659 class=aa /><use href=#d x=1484 y=680 class=aj /><use href=#d x=1182 y=665 class=Z /><use href=#d x=1209 y=659 class=aa /><use href=#d x=1217 y=662 class=Y /><use href=#d x=1097 y=690 class=ab /><use href=#d x=1497 y=676 class=ad /><use href=#d x=1065 y=674 class=X /><use href=#d x=1230 y=666 class=Z /><use href=#d x=958 y=672 class=X /><use href=#d x=1449 y=665 class=Z /><use href=#d x=1093 y=684 class=ae /><use href=#d x=1459 y=677 class=ad /><use href=#d x=1213 y=660 class=Y /><use href=#d x=953 y=670 class=ac /><use href=#d x=1411 y=662 class=Y /><use href=#d x=1426 y=677 class=ad /><use href=#d x=1256 y=660 class=aa /><use href=#d x=1144 y=665 class=Z /><use href=#d x=1117 y=687 class=ab /><use href=#d x=965 y=673 class=X /><use href=#d x=1204 y=660 class=aa /><use href=#d x=955 y=636 class=au /><use href=#d x=1245 y=660 class=aa /><use href=#d x=972 y=674 class=X /><use href=#d x=1489 y=682 class=aj /><use href=#d x=1224 y=669 class=ac /><use href=#d x=1122 y=681 class=aj /><use href=#d x=1368 y=667 class=Z /><use href=#d x=1300 y=661 class=aa /><use href=#d x=1148 y=665 class=Z /><use href=#d x=1294 y=661 class=aa /><use href=#d x=1478 y=697 class=ai /><use href=#d x=1278 y=663 class=Y /><use href=#d x=1069 y=675 class=X /><use href=#d x=1131 y=671 class=ac /><use href=#d x=978 y=675 class=X /><use href=#d x=1320 y=663 class=Y /><use href=#d x=1135 y=668 class=Z /><use href=#d x=1334 y=665 class=Z /><use href=#d x=1234 y=663 class=Y /><use href=#d x=1307 y=661 class=aa /><use href=#d x=1104 y=699 class=ai /><use href=#d x=1407 y=662 class=Y /><use href=#d x=1442 y=669 class=ac /><use href=#d x=985 y=675 class=X /><use href=#d x=1108 y=698 class=ai /><use href=#d x=1343 y=661 class=aa /><use href=#d x=1219 y=668 class=Z /><use href=#d x=1574 y=653 class=ah /><use href=#d x=1288 y=661 class=aa /><use href=#d x=1403 y=662 class=Y /><use href=#d x=992 y=676 class=X /><use href=#d x=1329 y=666 class=Z /><use href=#d x=1268 y=666 class=Z /><use href=#d x=1511 y=694 class=am /><use href=#d x=1085 y=674 class=X /><use href=#d x=1421 y=672 class=ac /><use href=#d x=1394 y=661 class=aa /><use href=#d x=1081 y=671 class=ac /><use href=#d x=953 y=665 class=Z /><use href=#d x=1349 y=661 class=aa /><use href=#d x=1262 y=665 class=Z /><use href=#d x=1374 y=670 class=ac /><use href=#d x=1258 y=663 class=Y /><use href=#d x=1167 y=682 class=aj /><use href=#d x=999 y=677 class=ad /><use href=#d x=1339 y=663 class=Y /><use href=#d x=1190 y=663 class=Y /><use href=#d x=1378 y=668 class=Z /><use href=#d x=1194 y=662 class=Y /><use href=#d x=1502 y=683 class=aj /><use href=#d x=1354 y=661 class=aa /><use href=#d x=1112 y=694 class=am /><use href=#d x=1159 y=675 class=X /><use href=#d x=1386 y=662 class=Y /><use href=#d x=1431 y=682 class=aj /><use href=#d x=1248 y=661 class=aa /><use href=#d x=1313 y=662 class=aa /><use href=#d x=1005 y=678 class=ad /><use href=#d x=1185 y=664 class=Y /><use href=#d x=1088 y=680 class=ad /><use href=#d x=1359 y=662 class=aa /><use href=#d x=1162 y=680 class=ad /><use href=#d x=955 y=631 class=ak /><use href=#d x=1439 y=675 class=X /><use href=#d x=1298 y=559 class=av /><use href=#d x=1238 y=662 class=aa /><use href=#d x=1198 y=662 class=aa /><use href=#d x=1155 y=670 class=ac /><use href=#d x=1306 y=567 class=af /><use href=#d x=1012 y=679 class=ad /><use href=#d x=1435 y=681 class=ad /><use href=#d x=1171 y=679 class=ad /><use href=#d x=1477 y=678 class=ad /><use href=#d x=1176 y=672 class=ac /><use href=#d x=1151 y=668 class=Z /><use href=#d x=1391 y=662 class=aa /><use href=#d x=1399 y=662 class=aa /><use href=#d x=1139 y=668 class=Z /><use href=#d x=1252 y=662 class=aa /><use href=#d x=1282 y=663 class=aa /><use href=#d x=1126 y=677 class=X /><use href=#d x=1019 y=680 class=ad /><use href=#d x=1273 y=665 class=Y /><use href=#d x=1215 y=665 class=Y /><use href=#d x=1207 y=662 class=aa /><use href=#d x=1100 y=698 class=ai /><use href=#d x=1180 y=668 class=Z /><use href=#d x=1325 y=665 class=Y /><use href=#d x=1227 y=669 class=Z /><use href=#d x=1096 y=693 class=ab /><use href=#d x=1025 y=681 class=ad /><use href=#d x=1298 y=662 class=aa /><use href=#d x=1064 y=677 class=X /><use href=#d x=1211 y=663 class=Y /><use href=#d x=1451 y=668 class=Z /><use href=#d x=952 y=661 class=aa /><use href=#d x=1092 y=687 class=ae /><use href=#d x=1286 y=566 class=af /><use href=#d x=1242 y=662 class=aa /><use href=#d x=1305 y=662 class=aa /><use href=#d x=1032 y=682 class=ad /><use href=#d x=1292 y=662 class=aa /><use href=#d x=1143 y=668 class=Z /><use href=#d x=1202 y=663 class=aa /><use href=#d x=1338 y=667 class=Z /><use href=#d x=1481 y=680 class=ad /><use href=#d x=1116 y=690 class=ab /><use href=#d x=1318 y=663 class=aa /><use href=#d x=1371 y=670 class=Z /><use href=#d x=1222 y=672 class=ac /><use href=#d x=1039 y=683 class=aj /><use href=#d x=1474 y=686 class=aj /><use href=#d x=1121 y=684 class=aj /><use href=#d x=1334 y=668 class=Z /><use href=#d x=1264 y=668 class=Z /><use href=#d x=1147 y=668 class=Z /><use href=#d x=955 y=626 class=an /><use href=#d x=1347 y=663 class=aa /><use href=#d x=1470 y=685 class=aj /><use href=#d x=1231 y=666 class=Y /><use href=#d x=1046 y=683 class=aj /><use href=#d x=1129 y=674 class=ac /><use href=#d x=1068 y=678 class=X /><use href=#d x=1134 y=671 class=Z /><use href=#d x=1384 y=667 class=Y /><use href=#d x=1311 y=663 class=aa /><use href=#d x=1259 y=668 class=Z /><use href=#d x=1255 y=665 class=Y /><use href=#d x=1286 y=663 class=aa /><use href=#d x=1443 y=672 class=ac /><use href=#d x=1104 y=702 class=ai /><use href=#d x=1474 y=694 class=am /><use href=#d x=1052 y=684 class=aj /><use href=#d x=1583 y=659 class=aq /><use href=#d x=1277 y=664 class=aa /><use href=#d x=1343 y=665 class=Y /><use href=#d x=1108 y=701 class=ai /><use href=#d x=1352 y=663 class=aa /><use href=#d x=1217 y=670 class=Z /><use href=#d x=1466 y=686 class=aj /><use href=#d x=1405 y=665 class=Y /><use href=#d x=1396 y=664 class=aa /><use href=#d x=1376 y=673 class=ac /><use href=#d x=1367 y=667 class=Y /><use href=#d x=952 y=657 class=ah /><use href=#d x=1423 y=675 class=ac /><use href=#d x=1245 y=663 class=aa /><use href=#d x=1084 y=677 class=X /><use href=#d x=1080 y=674 class=ac /><use href=#d x=1507 y=688 class=ae /><use href=#d x=1381 y=671 class=Z /><use href=#d x=1192 y=665 class=Y /><use href=#d x=1188 y=665 class=Y /><use href=#d x=1166 y=685 class=aj /><use href=#d x=1388 y=665 class=Y /><use href=#d x=1268 y=667 class=Y /><use href=#d x=1362 y=665 class=aa /><use href=#d x=1158 y=678 class=X /><use href=#d x=1112 y=697 class=am /><use href=#d x=1329 y=667 class=Y /><use href=#d x=1235 y=665 class=aa /><use href=#d x=1184 y=667 class=Y /><use href=#d x=1301 y=664 class=aa /><use href=#d x=1088 y=683 class=ad /><use href=#d x=1161 y=683 class=ad /><use href=#d x=1295 y=664 class=aa /><use href=#d x=1249 y=664 class=aa /><use href=#d x=1440 y=678 class=X /><use href=#d x=1196 y=665 class=aa /><use href=#d x=1154 y=673 class=ac /><use href=#d x=1323 y=665 class=aa /><use href=#d x=1393 y=665 class=aa /><use href=#d x=1483 y=696 class=am /><use href=#d x=1170 y=682 class=ad /><use href=#d x=1174 y=675 class=ac /><use href=#d x=1401 y=665 class=aa /><use href=#d x=1150 y=671 class=Z /><use href=#d x=1316 y=664 class=aa /><use href=#d x=1138 y=671 class=Z /><use href=#d x=1585 y=654 class=aw /><use href=#d x=1213 y=668 class=Y /><use href=#d x=1205 y=665 class=aa /><use href=#d x=1281 y=665 class=aa /><use href=#d x=1307 y=664 class=aa /><use href=#d x=1125 y=680 class=X /><use href=#d x=1099 y=701 class=ai /><use href=#d x=1179 y=671 class=Z /><use href=#d x=1491 y=687 class=aj /><use href=#d x=1225 y=672 class=Z /><use href=#d x=1341 y=670 class=Z /><use href=#d x=1209 y=666 class=Y /><use href=#d x=1239 y=665 class=aa /><use href=#d x=1289 y=665 class=aa /><use href=#d x=1095 y=696 class=ab /><use href=#d x=1063 y=680 class=X /><use href=#d x=1414 y=668 class=Y /><use href=#d x=952 y=652 class=aw /><use href=#d x=1091 y=690 class=ae /><use href=#d x=1337 y=671 class=Z /><use href=#d x=1260 y=671 class=Z /><use href=#d x=1272 y=666 class=aa /><use href=#d x=1200 y=666 class=aa /><use href=#d x=1141 y=671 class=Z /><use href=#d x=1373 y=672 class=Z /><use href=#d x=1116 y=693 class=ab /><use href=#d x=1350 y=666 class=aa /><use href=#d x=1220 y=675 class=ac /><use href=#d x=1256 y=670 class=Z /><use href=#d x=1229 y=669 class=Y /><use href=#d x=1120 y=687 class=aj /><use href=#d x=1145 y=671 class=Z /><use href=#d x=1252 y=668 class=Y /><use href=#d x=1313 y=666 class=aa /><use href=#d x=1587 y=650 class=ar /><use href=#d x=1419 y=672 class=Z /><use href=#d x=1346 y=668 class=Y /><use href=#d x=1129 y=677 class=ac /><use href=#d x=1067 y=681 class=X /><use href=#d x=1133 y=674 class=Z /><use href=#d x=1411 y=668 class=Y /><use href=#d x=1355 y=666 class=aa /><use href=#d x=1299 y=666 class=aa /><use href=#d x=1500 y=698 class=am /><use href=#d x=1444 y=675 class=ac /><use href=#d x=1103 y=705 class=ai /><use href=#d x=1216 y=673 class=Z /><use href=#d x=1265 y=669 class=Y /><use href=#d x=1508 y=688 class=aj /><use href=#d x=1107 y=704 class=ai /><use href=#d x=1283 y=666 class=aa /><use href=#d x=1321 y=666 class=aa /><use href=#d x=1406 y=668 class=Y /><use href=#d x=1242 y=666 class=aa /><use href=#d x=1293 y=666 class=aa /><use href=#d x=1333 y=670 class=Y /><use href=#d x=1369 y=670 class=Y /><use href=#d x=1305 y=666 class=aa /><use href=#d x=1398 y=667 class=aa /><use href=#d x=1276 y=666 class=aa /><use href=#d x=1378 y=676 class=ac /><use href=#d x=952 y=648 class=at /><use href=#d x=1328 y=667 class=aa /><use href=#d x=1467 y=697 class=ab /><use href=#d x=1083 y=680 class=X /><use href=#d x=1382 y=674 class=Z /><use href=#d x=1079 y=677 class=ac /><use href=#d x=1390 y=668 class=Y /><use href=#d x=1191 y=668 class=Y /><use href=#d x=1187 y=668 class=Y /><use href=#d x=1165 y=688 class=aj /><use href=#d x=1233 y=668 class=aa /><use href=#d x=1157 y=681 class=X /><use href=#d x=1111 y=700 class=am /><use href=#d x=1246 y=667 class=aa /><use href=#d x=1182 y=670 class=Y /><use href=#d x=950 y=679 class=ac /><use href=#d x=1087 y=686 class=ad /><use href=#d x=1161 y=686 class=ad /><use href=#d x=1195 y=668 class=aa /><use href=#d x=1441 y=681 class=X /><use href=#d x=1153 y=676 class=ac /><use href=#d x=1403 y=668 class=aa /><use href=#d x=1169 y=685 class=ad /><use href=#d x=1437 y=687 class=ad /><use href=#d x=1173 y=678 class=ac /><use href=#d x=1449 y=674 class=Z /><use href=#d x=1149 y=674 class=Z /><use href=#d x=1287 y=667 class=aa /><use href=#d x=1211 y=671 class=Y /><use href=#d x=1137 y=674 class=Z /><use href=#d x=1203 y=668 class=aa /><use href=#d x=955 y=679 class=ac /><use href=#d x=1318 y=667 class=aa /><use href=#d x=961 y=679 class=ac /><use href=#d x=1344 y=672 class=Z /><use href=#d x=1269 y=668 class=aa /><use href=#d x=1124 y=683 class=X /><use href=#d x=1311 y=667 class=aa /><use href=#d x=967 y=680 class=X /><use href=#d x=1223 y=675 class=Z /><use href=#d x=973 y=681 class=X /><use href=#d x=1178 y=674 class=Z /><use href=#d x=1237 y=668 class=aa /><use href=#d x=1099 y=704 class=ai /><use href=#d x=979 y=682 class=X /><use href=#d x=985 y=682 class=X /><use href=#d x=1207 y=669 class=Y /><use href=#d x=1340 y=673 class=Z /><use href=#d x=1258 y=673 class=Z /><use href=#d x=991 y=683 class=X /><use href=#d x=997 y=684 class=X /><use href=#d x=1095 y=699 class=ab /><use href=#d x=952 y=643 class=au /><use href=#d x=1003 y=685 class=ad /><use href=#d x=1416 y=671 class=Y /><use href=#d x=1063 y=683 class=X /><use href=#d x=1009 y=685 class=ad /><use href=#d x=1297 y=668 class=aa /><use href=#d x=1429 y=685 class=ad /><use href=#d x=1015 y=686 class=ad /><use href=#d x=1199 y=669 class=aa /><use href=#d x=1091 y=693 class=ae /><use href=#d x=1352 y=668 class=aa /><use href=#d x=1278 y=668 class=aa /><use href=#d x=1303 y=668 class=aa /><use href=#d x=1021 y=687 class=ad /><use href=#d x=1141 y=674 class=Z /><use href=#d x=1375 y=675 class=Z /><use href=#d x=1577 y=661 class=ah /><use href=#d x=1027 y=687 class=ad /><use href=#d x=1219 y=678 class=ac /><use href=#d x=1115 y=696 class=ab /><use href=#d x=1253 y=673 class=Z /><use href=#d x=1033 y=688 class=ad /><use href=#d x=950 y=675 class=Z /><use href=#d x=1039 y=689 class=aj /><use href=#d x=1249 y=670 class=Y /><use href=#d x=1228 y=672 class=Y /><use href=#d x=1325 y=669 class=aa /><use href=#d x=1045 y=689 class=aj /><use href=#d x=1349 y=671 class=Y /><use href=#d x=1145 y=674 class=Z /><use href=#d x=1119 y=690 class=aj /><use href=#d x=1051 y=690 class=aj /><use href=#d x=1272 y=669 class=aa /><use href=#d x=1420 y=675 class=Z /><use href=#d x=1357 y=669 class=aa /><use href=#d x=1262 y=672 class=Y /><use href=#d x=1290 y=669 class=aa /><use href=#d x=1128 y=680 class=ac /><use href=#d x=1066 y=684 class=X /><use href=#d x=1132 y=677 class=Z /><use href=#d x=1336 y=672 class=Y /><use href=#d x=1362 y=669 class=aa /><use href=#d x=1331 y=670 class=aa /><use href=#d x=1282 y=669 class=aa /><use href=#d x=1445 y=678 class=ac /><use href=#d x=1214 y=676 class=Z /><use href=#d x=1103 y=708 class=ai /><use href=#d x=1240 y=669 class=aa /><use href=#d x=1408 y=670 class=Y /><use href=#d x=1107 y=707 class=ai /><use href=#d x=1309 y=669 class=aa /><use href=#d x=1371 y=673 class=Y /><use href=#d x=1480 y=707 class=ai /><use href=#d x=1316 y=669 class=aa /><use href=#d x=1399 y=670 class=aa /><use href=#d x=952 y=639 class=ak /><use href=#d x=1380 y=679 class=ac /><use href=#d x=1425 y=681 class=ac /><use href=#d x=1391 y=671 class=Y /><use href=#d x=1083 y=683 class=X /><use href=#d x=1190 y=671 class=Y /><use href=#d x=1186 y=671 class=Y /><use href=#d x=1079 y=680 class=ac /><use href=#d x=1231 y=670 class=aa /><use href=#d x=1164 y=691 class=aj /><use href=#d x=1244 y=670 class=aa /><use href=#d x=950 y=671 class=Y /><use href=#d x=1322 y=670 class=aa /><use href=#d x=1472 y=690 class=aj /><use href=#d x=1156 y=684 class=X /><use href=#d x=1111 y=704 class=am /><use href=#d x=1181 y=673 class=Y /><use href=#d x=1434 y=691 class=aj /><use href=#d x=1300 y=670 class=aa /><use href=#d x=1194 y=671 class=aa /><use href=#d x=1087 y=689 class=ad /><use href=#d x=1160 y=689 class=ad /><use href=#d x=1442 y=684 class=X /><use href=#d x=1396 y=671 class=aa /><use href=#d x=1265 y=671 class=aa /><use href=#d x=1152 y=679 class=ac /><use href=#d x=1404 y=671 class=aa /><use href=#d x=1168 y=688 class=ad /><use href=#d x=1438 y=690 class=ad /><use href=#d x=1173 y=681 class=ac /><use href=#d x=1449 y=677 class=Z /><use href=#d x=1210 y=674 class=Y /><use href=#d x=1148 y=677 class=Z /><use href=#d x=1294 y=670 class=aa /><use href=#d x=1346 y=675 class=Z /><use href=#d x=1136 y=677 class=Z /><use href=#d x=1202 y=671 class=aa /><use href=#d x=1476 y=697 class=ae /><use href=#d x=1275 y=670 class=aa /><use href=#d x=1235 y=671 class=aa /><use href=#d x=1123 y=686 class=X /><use href=#d x=1222 y=678 class=Z /><use href=#d x=1285 y=670 class=aa /><use href=#d x=1342 y=676 class=Z /><use href=#d x=1256 y=676 class=Z /><use href=#d x=1177 y=677 class=Z /><use href=#d x=1099 y=707 class=ai /><use href=#d x=1206 y=672 class=Y /><use href=#d x=952 y=634 class=an /><use href=#d x=1306 y=671 class=aa /><use href=#d x=1095 y=702 class=ab /><use href=#d x=1417 y=674 class=Y /><use href=#d x=1454 y=677 class=Z /><use href=#d x=1062 y=686 class=X /><use href=#d x=950 y=667 class=aq /><use href=#d x=1300 y=566 class=av /><use href=#d x=1488 y=703 class=am /><use href=#d x=1480 y=691 class=aj /><use href=#d x=1430 y=688 class=ad /><use href=#d x=1198 y=672 class=aa /><use href=#d x=1091 y=696 class=ae /><use href=#d x=1329 y=671 class=aa /><use href=#d x=1140 y=677 class=Z /><use href=#d x=1314 y=671 class=aa /><use href=#d x=1585 y=667 class=aq /><use href=#d x=1251 y=676 class=Z /><use href=#d x=1218 y=681 class=ac /><use href=#d x=1115 y=699 class=ab /><use href=#d x=1278 y=671 class=aa /><use href=#d x=1247 y=673 class=Y /><use href=#d x=1269 y=671 class=aa /><use href=#d x=1226 y=675 class=Y /><use href=#d x=1351 y=673 class=Y /><use href=#d x=1144 y=677 class=Z /><use href=#d x=1119 y=693 class=aj /><use href=#d x=1320 y=672 class=aa /><use href=#d x=1260 y=675 class=Y /><use href=#d x=1359 y=672 class=aa /><use href=#d x=1334 y=673 class=aa /><use href=#d x=1388 y=675 class=Y /><use href=#d x=1484 y=692 class=aj /><use href=#d x=1288 y=672 class=aa /><use href=#d x=1413 y=674 class=Y /><use href=#d x=1338 y=675 class=Y /><use href=#d x=1127 y=683 class=ac /><use href=#d x=1066 y=687 class=X /><use href=#d x=1363 y=672 class=aa /><use href=#d x=1132 y=680 class=Z /><use href=#d x=1298 y=672 class=aa /><use href=#d x=1239 y=672 class=aa /><use href=#d x=1446 y=681 class=ac /><use href=#d x=1103 y=711 class=ai /><use href=#d x=1214 y=679 class=Z /><use href=#d x=1485 y=707 class=am /><use href=#d x=1409 y=673 class=Y /><use href=#d x=1107 y=710 class=ai /><use href=#d x=1372 y=676 class=Y /><use href=#d x=1325 y=672 class=aa /><use href=#d x=950 y=663 class=ah /><use href=#d x=1400 y=673 class=aa /><use href=#d x=1380 y=682 class=ac /><use href=#d x=1304 y=672 class=aa /><use href=#d x=1392 y=674 class=Y /><use href=#d x=1425 y=684 class=ac /><use href=#d x=1189 y=674 class=Y /><use href=#d x=1082 y=686 class=X /><use href=#d x=1230 y=673 class=aa /><use href=#d x=1185 y=674 class=Y /><use href=#d x=1384 y=680 class=Z /><use href=#d x=1587 y=662 class=aw /><use href=#d x=1078 y=683 class=ac /><use href=#d x=1243 y=673 class=aa /><use href=#d x=1301 y=567 class=ax /><use href=#d x=1164 y=694 class=aj /><use href=#d x=1311 y=673 class=aa /><use href=#d x=1156 y=687 class=X /><use href=#d x=1111 y=707 class=am /><use href=#d x=1181 y=676 class=Y /><use href=#d x=1434 y=694 class=aj /><use href=#d x=1281 y=673 class=aa /><use href=#d x=1263 y=674 class=aa /><use href=#d x=1292 y=673 class=aa /><use href=#d x=1193 y=674 class=aa /><use href=#d x=1086 y=692 class=ad /><use href=#d x=1160 y=692 class=ad /><use href=#d x=1397 y=674 class=aa /><use href=#d x=1152 y=682 class=ac /><use href=#d x=1272 y=673 class=aa /><use href=#d x=1405 y=674 class=aa /><use href=#d x=1168 y=691 class=ad /><use href=#d x=1172 y=684 class=ac /><use href=#d x=1347 y=678 class=Z /><use href=#d x=1450 y=680 class=Z /><use href=#d x=1209 y=677 class=Y /><use href=#d x=1148 y=680 class=Z /><use href=#d x=1201 y=674 class=aa /><use href=#d x=1136 y=680 class=Z /><use href=#d x=1234 y=673 class=aa /><use href=#d x=1123 y=689 class=X /><use href=#d x=1343 y=679 class=Z /><use href=#d x=1254 y=679 class=Z /><use href=#d x=1221 y=681 class=Z /><use href=#d x=1472 y=692 class=ad /><use href=#d x=1176 y=680 class=Z /><use href=#d x=1099 y=710 class=ai /><use href=#d x=950 y=659 class=ar /><use href=#d x=1205 y=675 class=Y /><use href=#d x=1318 y=674 class=aa /><use href=#d x=1095 y=705 class=ab /><use href=#d x=1417 y=677 class=Y /><use href=#d x=1590 y=658 class=ar /><use href=#d x=1454 y=680 class=Z /><use href=#d x=1062 y=689 class=X /><use href=#d x=1356 y=674 class=aa /><use href=#d x=1331 y=674 class=aa /><use href=#d x=1276 y=674 class=aa /><use href=#d x=1430 y=691 class=ad /><use href=#d x=1197 y=675 class=aa /><use href=#d x=1091 y=699 class=ae /><use href=#d x=1140 y=680 class=Z /><use href=#d x=1250 y=679 class=Z /><use href=#d x=1377 y=681 class=Z /><use href=#d x=1302 y=674 class=aa /><use href=#d x=1267 y=674 class=aa /><use href=#d x=1296 y=674 class=aa /><use href=#d x=1472 y=710 class=ai /><use href=#d x=1284 y=674 class=aa /><use href=#d x=1217 y=684 class=ac /><use href=#d x=1045 y=695 class=aj /><use href=#d x=1246 y=676 class=Y /><use href=#d x=1050 y=695 class=aj /><use href=#d x=1115 y=702 class=ab /><use href=#d x=1039 y=695 class=aj /><use href=#d x=1034 y=694 class=aj /><use href=#d x=1322 y=674 class=aa /><use href=#d x=1226 y=678 class=Y /><use href=#d x=1028 y=694 class=ad /><use href=#d x=1352 y=676 class=Y /><use href=#d x=1309 y=674 class=aa /><use href=#d x=1023 y=693 class=ad /><use href=#d x=1018 y=693 class=ad /><use href=#d x=1144 y=680 class=Z /><use href=#d x=1119 y=696 class=aj /><use href=#d x=1012 y=692 class=ad /><use href=#d x=1258 y=678 class=Y /><use href=#d x=1335 y=676 class=aa /><use href=#d x=1007 y=692 class=ad /><use href=#d x=1422 y=681 class=Z /><use href=#d x=1389 y=678 class=Y /><use href=#d x=1413 y=677 class=Y /><use href=#d x=1002 y=691 class=X /><use href=#d x=1364 y=675 class=aa /><use href=#d x=1340 y=678 class=Y /><use href=#d x=1127 y=686 class=ac /><use href=#d x=1131 y=683 class=Z /><use href=#d x=996 y=691 class=X /><use href=#d x=950 y=655 class=at /><use href=#d x=991 y=690 class=X /><use href=#d x=1238 y=675 class=aa /><use href=#d x=1446 y=684 class=ac /><use href=#d x=1103 y=714 class=ai /><use href=#d x=1213 y=682 class=Z /><use href=#d x=1409 y=676 class=Y /><use href=#d x=985 y=689 class=X /><use href=#d x=1327 y=675 class=aa /><use href=#d x=1372 y=679 class=Y /><use href=#d x=1107 y=713 class=ai /><use href=#d x=980 y=689 class=X /><use href=#d x=1401 y=676 class=aa /><use href=#d x=1368 y=676 class=aa /><use href=#d x=1381 y=685 class=ac /><use href=#d x=1288 y=675 class=aa /><use href=#d x=975 y=688 class=X /><use href=#d x=1315 y=675 class=aa /><use href=#d x=1393 y=677 class=Y /><use href=#d x=1189 y=677 class=Y /><use href=#d x=1230 y=676 class=aa /><use href=#d x=1082 y=689 class=X /><use href=#d x=1426 y=687 class=ac /><use href=#d x=1185 y=677 class=Y /><use href=#d x=969 y=687 class=ac /><use href=#d x=1078 y=686 class=ac /><use href=#d x=1385 y=683 class=Z /><use href=#d x=1242 y=676 class=aa /><use href=#d x=1505 y=696 class=ad /><use href=#d x=1164 y=697 class=aj /><use href=#d x=964 y=687 class=ac /><use href=#d x=1156 y=690 class=X /><use href=#d x=959 y=686 class=ac /><use href=#d x=1111 y=710 class=am /><use href=#d x=1180 y=679 class=Y /><use href=#d x=1279 y=676 class=aa /><use href=#d x=953 y=685 class=ac /><use href=#d x=1298 y=676 class=aa /><use href=#d x=1262 y=677 class=aa /><use href=#d x=1193 y=677 class=aa /><use href=#d x=1086 y=695 class=ad /><use href=#d x=1160 y=695 class=ad /><use href=#d x=1397 y=677 class=aa /><use href=#d x=1442 y=690 class=X /><use href=#d x=1579 y=669 class=ah /><use href=#d x=1271 y=676 class=aa /><use href=#d x=949 y=684 class=Z /><use href=#d x=1152 y=685 class=ac /><use href=#d x=1168 y=694 class=ad /><use href=#d x=1405 y=677 class=aa /><use href=#d x=1438 y=696 class=ad /><use href=#d x=1348 y=681 class=Z /><use href=#d x=1209 y=680 class=Y /><use href=#d x=1172 y=688 class=ac /><use href=#d x=1450 y=683 class=Z /><use href=#d x=949 y=650 class=ag /><use href=#d x=1148 y=683 class=Z /><use href=#d x=1307 y=676 class=aa /><use href=#d x=1201 y=677 class=aa /><use href=#d x=1135 y=683 class=Z /><use href=#d x=1234 y=676 class=aa /><use href=#d x=1291 y=676 class=aa /><use href=#d x=1123 y=692 class=X /><use href=#d x=1344 y=682 class=Z /><use href=#d x=1254 y=682 class=Z /><use href=#d x=1221 y=684 class=Z /><use href=#d x=1176 y=683 class=Z /><use href=#d x=1099 y=713 class=ai /><use href=#d x=1205 y=678 class=Y /><use href=#d x=1302 y=677 class=aa /><use href=#d x=1319 y=677 class=aa /><use href=#d x=1294 y=571 class=ax /><use href=#d x=1095 y=708 class=ab /><use href=#d x=1281 y=573 class=av /><use href=#d x=1418 y=680 class=Y /><use href=#d x=1455 y=683 class=Z /><use href=#d x=1349 y=601 class=ay /><use href=#d x=1477 y=705 class=ab /><use href=#d x=1062 y=692 class=X /><use href=#d x=1275 y=677 class=aa /><use href=#d x=1356 y=677 class=aa /><use href=#d x=1332 y=677 class=aa /><use href=#d x=1197 y=678 class=aa /><use href=#d x=1091 y=702 class=ae /><use href=#d x=1139 y=683 class=Z /><use href=#d x=1250 y=682 class=Z /><use href=#d x=1295 y=677 class=aa /><use href=#d x=1377 y=684 class=Z /><use href=#d x=1266 y=677 class=aa /><use href=#d x=1283 y=677 class=aa /><use href=#d x=1115 y=705 class=ab /><use href=#d x=1217 y=687 class=ac /><use href=#d x=1246 y=679 class=Y /><use href=#d x=1324 y=677 class=aa /><use href=#d x=1311 y=677 class=aa /><use href=#d x=948 y=681 class=Y /><use href=#d x=1225 y=681 class=Y /><use href=#d x=1144 y=683 class=Z /><use href=#d x=1119 y=699 class=aj /><use href=#d x=949 y=646 class=ak /><use href=#d x=1360 y=678 class=aa /><use href=#d x=1258 y=681 class=Y /><use href=#d x=1336 y=679 class=aa /><use href=#d x=1422 y=684 class=Z /><use href=#d x=1127 y=689 class=ac /><use href=#d x=1131 y=687 class=Z /><use href=#d x=1340 y=681 class=Y /><use href=#d x=1104 y=717 class=ai /><use href=#d x=1238 y=678 class=aa /><use href=#d x=1410 y=679 class=Y /><use href=#d x=1213 y=686 class=Z /><use href=#d x=1328 y=678 class=aa /><use href=#d x=1108 y=716 class=ai /><use href=#d x=1373 y=682 class=Y /><use href=#d x=1401 y=679 class=aa /><use href=#d x=1369 y=679 class=aa /><use href=#d x=1497 y=695 class=ad /><use href=#d x=1381 y=688 class=ac /><use href=#d x=1287 y=678 class=aa /><use href=#d x=1393 y=680 class=Y /><use href=#d x=1189 y=680 class=Y /><use href=#d x=1082 y=692 class=X /><use href=#d x=1229 y=679 class=aa /><use href=#d x=1426 y=690 class=ac /><use href=#d x=1184 y=680 class=Y /><use href=#d x=1078 y=689 class=ac /><use href=#d x=1315 y=678 class=aa /><use href=#d x=1385 y=686 class=Z /><use href=#d x=1242 y=679 class=aa /><use href=#d x=948 y=677 class=aa /><use href=#d x=1164 y=700 class=aj /><use href=#d x=1303 y=679 class=aa /><use href=#d x=1156 y=693 class=X /><use href=#d x=1112 y=713 class=am /><use href=#d x=1434 y=700 class=aj /><use href=#d x=1180 y=682 class=Y /><use href=#d x=1381 y=575 class=av /><use href=#d x=949 y=642 class=an /><use href=#d x=1160 y=699 class=ad /><use href=#d x=1086 y=698 class=ad /><use href=#d x=1279 y=679 class=aa /><use href=#d x=1193 y=680 class=aa /><use href=#d x=1262 y=680 class=aa /><use href=#d x=1397 y=680 class=aa /><use href=#d x=1296 y=679 class=aa /><use href=#d x=1270 y=679 class=aa /><use href=#d x=1169 y=697 class=ad /><use href=#d x=1152 y=688 class=ac /><use href=#d x=1405 y=680 class=aa /><use href=#d x=1438 y=699 class=ad /><use href=#d x=1587 y=675 class=aq /><use href=#d x=1209 y=683 class=Y /><use href=#d x=1481 y=699 class=ad /><use href=#d x=1172 y=691 class=ac /><use href=#d x=1148 y=686 class=Z /><use href=#d x=1201 y=680 class=aa /><use href=#d x=1135 y=686 class=Z /><use href=#d x=1307 y=679 class=aa /><use href=#d x=1234 y=680 class=aa /><use href=#d x=1292 y=679 class=aa /><use href=#d x=1123 y=695 class=X /><use href=#d x=1344 y=685 class=Z /><use href=#d x=1254 y=685 class=Z /><use href=#d x=1222 y=687 class=Z /><use href=#d x=1100 y=716 class=ai /><use href=#d x=1176 y=686 class=Z /><use href=#d x=1205 y=681 class=Y /><use href=#d x=1065 y=701 class=aj /><use href=#d x=1095 y=711 class=ab /><use href=#d x=1060 y=701 class=aj /><use href=#d x=948 y=673 class=ah /><use href=#d x=1300 y=680 class=aa /><use href=#d x=1319 y=680 class=aa /><use href=#d x=1455 y=686 class=Z /><use href=#d x=1055 y=701 class=aj /><use href=#d x=1062 y=695 class=X /><use href=#d x=1275 y=680 class=aa /><use href=#d x=1429 y=698 class=ad /><use href=#d x=1356 y=680 class=aa /><use href=#d x=1332 y=680 class=aa /><use href=#d x=1197 y=681 class=aa /><use href=#d x=1050 y=701 class=aj /><use href=#d x=1091 y=705 class=ae /><use href=#d x=1308 y=570 class=az /><use href=#d x=1139 y=686 class=Z /><use href=#d x=1250 y=685 class=Z /><use href=#d x=1459 y=686 class=Z /><use href=#d x=1376 y=688 class=Z /><use href=#d x=1046 y=700 class=aj /><use href=#d x=1267 y=680 class=aa /><use href=#d x=1116 y=708 class=ab /><use href=#d x=1218 y=690 class=ac /><use href=#d x=1246 y=682 class=Y /><use href=#d x=1323 y=680 class=aa /><use href=#d x=1283 y=680 class=aa /><use href=#d x=1041 y=700 class=ad /><use href=#d x=1226 y=684 class=Y /><use href=#d x=1310 y=680 class=aa /><use href=#d x=1352 y=683 class=Y /><use href=#d x=1144 y=686 class=Z /><use href=#d x=1036 y=700 class=ad /><use href=#d x=1120 y=702 class=aj /><use href=#d x=1589 y=671 class=aw /><use href=#d x=1389 y=684 class=Y /><use href=#d x=1360 y=681 class=aa /><use href=#d x=1031 y=700 class=ad /><use href=#d x=1259 y=684 class=Y /><use href=#d x=1335 y=682 class=aa /><use href=#d x=1364 y=681 class=aa /><use href=#d x=1414 y=683 class=Y /><use href=#d x=1127 y=692 class=ac /><use href=#d x=1131 y=690 class=Z /><use href=#d x=1295 y=568 class=az /><use href=#d x=1339 y=684 class=Y /><use href=#d x=1026 y=699 class=ad /><use href=#d x=1104 y=720 class=ai /><use href=#d x=948 y=669 class=aw /><use href=#d x=1238 y=681 class=aa /><use href=#d x=1021 y=699 class=ad /><use href=#d x=1214 y=689 class=Z /><use href=#d x=1327 y=681 class=aa /><use href=#d x=1108 y=719 class=ai /><use href=#d x=1372 y=685 class=Y /><use href=#d x=1017 y=699 class=ad /><use href=#d x=1368 y=682 class=aa /><use href=#d x=1289 y=681 class=aa /><use href=#d x=1485 y=703 class=aj /><use href=#d x=1189 y=683 class=Y /><use href=#d x=1493 y=718 class=ai /><use href=#d x=1082 y=695 class=X /><use href=#d x=1230 y=682 class=aa /><use href=#d x=1185 y=683 class=Y /><use href=#d x=1425 y=693 class=ac /><use href=#d x=1078 y=692 class=ac /><use href=#d x=1012 y=698 class=X /><use href=#d x=1314 y=681 class=aa /><use href=#d x=1302 y=682 class=aa /><use href=#d x=1384 y=689 class=Z /><use href=#d x=1165 y=703 class=aj /><use href=#d x=1296 y=682 class=aa /><use href=#d x=1242 y=682 class=aa /><use href=#d x=1497 y=700 class=ad /><use href=#d x=1506 y=706 class=ae /><use href=#d x=1397 y=576 class=ax /><use href=#d x=1007 y=698 class=X /><use href=#d x=1156 y=696 class=X /><use href=#d x=1112 y=716 class=am /><use href=#d x=1433 y=703 class=aj /><use href=#d x=1301 y=566 class=aA /><use href=#d x=1181 y=685 class=Y /><use href=#d x=1002 y=697 class=X /><use href=#d x=1501 y=719 class=ai /><use href=#d x=1161 y=702 class=ad /><use href=#d x=1087 y=701 class=ad /><use href=#d x=1480 y=719 class=ai /><use href=#d x=1280 y=682 class=aa /><use href=#d x=1263 y=683 class=aa /><use href=#d x=1193 y=683 class=aa /><use href=#d x=1442 y=696 class=X /><use href=#d x=1397 y=683 class=aa /><use href=#d x=1591 y=666 class=ar /><use href=#d x=1272 y=682 class=aa /><use href=#d x=1169 y=700 class=ad /><use href=#d x=997 y=697 class=X /><use href=#d x=1152 y=692 class=ac /><use href=#d x=1347 y=687 class=Z /><use href=#d x=1437 y=702 class=ad /><use href=#d x=1405 y=683 class=aa /><use href=#d x=1210 y=686 class=Y /><use href=#d x=948 y=666 class=ar /><use href=#d x=1173 y=694 class=ac /><use href=#d x=1450 y=689 class=Z /><use href=#d x=1148 y=689 class=Z /><use href=#d x=1136 y=689 class=Z /><use href=#d x=1201 y=683 class=aa /><use href=#d x=1234 y=683 class=aa /><use href=#d x=1343 y=688 class=Z /><use href=#d x=1256 y=688 class=Z /><use href=#d x=992 y=696 class=X /><use href=#d x=1124 y=698 class=X /><use href=#d x=1222 y=690 class=Z /><use href=#d x=1100 y=719 class=ai /><use href=#d x=1177 y=689 class=Z /><use href=#d x=1205 y=684 class=Y /><use href=#d x=988 y=696 class=X /><use href=#d x=1096 y=714 class=ab /><use href=#d x=1306 y=683 class=aa /><use href=#d x=1317 y=683 class=aa /><use href=#d x=1277 y=683 class=aa /><use href=#d x=1454 y=689 class=Z /><use href=#d x=1417 y=686 class=Y /><use href=#d x=983 y=695 class=X /><use href=#d x=1481 y=704 class=aj /><use href=#d x=1062 y=698 class=X /><use href=#d x=1307 y=578 class=av /><use href=#d x=1330 y=683 class=aa /><use href=#d x=1429 y=701 class=ad /><use href=#d x=1356 y=683 class=aa /><use href=#d x=1197 y=684 class=aa /><use href=#d x=1091 y=708 class=ae /><use href=#d x=1287 y=683 class=aa /><use href=#d x=1252 y=688 class=Z /><use href=#d x=1140 y=689 class=Z /><use href=#d x=978 y=695 class=ac /><use href=#d x=1321 y=683 class=aa /><use href=#d x=1458 y=689 class=Z /><use href=#d x=1376 y=691 class=Z /><use href=#d x=1268 y=683 class=aa /><use href=#d x=1116 y=711 class=ab /><use href=#d x=1247 y=685 class=Y /><use href=#d x=1219 y=693 class=ac /><use href=#d x=1294 y=683 class=aa /><use href=#d x=1226 y=687 class=Y /><use href=#d x=973 y=694 class=ac /><use href=#d x=948 y=662 class=at /><use href=#d x=1144 y=689 class=Z /><use href=#d x=1120 y=705 class=aj /><use href=#d x=968 y=694 class=ac /><use href=#d x=1388 y=687 class=Y /><use href=#d x=1260 y=687 class=Y /><use href=#d x=1334 y=685 class=aa /><use href=#d x=1359 y=684 class=aa /><use href=#d x=1421 y=690 class=Z /><use href=#d x=1364 y=684 class=aa /><use href=#d x=1413 y=686 class=Y /><use href=#d x=1128 y=695 class=ac /><use href=#d x=1300 y=684 class=aa /><use href=#d x=1338 y=687 class=Y /><use href=#d x=1132 y=693 class=Z /><use href=#d x=963 y=693 class=ac /><use href=#d x=1105 y=723 class=ai /><use href=#d x=1310 y=684 class=aa /><use href=#d x=1311 y=585 class=ap /><use href=#d x=1325 y=684 class=aa /><use href=#d x=1580 y=677 class=ah /><use href=#d x=1446 y=693 class=ac /><use href=#d x=1239 y=684 class=aa /><use href=#d x=1409 y=686 class=Y /><use href=#d x=1215 y=692 class=Z /><use href=#d x=1109 y=722 class=ai /><use href=#d x=1371 y=688 class=Y /><use href=#d x=958 y=693 class=Z /><use href=#d x=1368 y=685 class=aa /><use href=#d x=1401 y=685 class=aa /><use href=#d x=1489 y=706 class=aj /><use href=#d x=1189 y=686 class=Y /><use href=#d x=1231 y=685 class=aa /><use href=#d x=954 y=692 class=Z /><use href=#d x=1392 y=686 class=Y /><use href=#d x=1083 y=699 class=X /><use href=#d x=1185 y=686 class=Y /><use href=#d x=1425 y=696 class=ac /><use href=#d x=1078 y=695 class=ac /><use href=#d x=1166 y=706 class=aj /><use href=#d x=1383 y=692 class=Z /><use href=#d x=1243 y=685 class=aa /><use href=#d x=1284 y=685 class=aa /><use href=#d x=948 y=658 class=ag /><use href=#d x=1501 y=718 class=am /><use href=#d x=1157 y=699 class=X /><use href=#d x=1113 y=719 class=am /><use href=#d x=1181 y=688 class=Y /><use href=#d x=1274 y=685 class=aa /><use href=#d x=1265 y=686 class=aa /><use href=#d x=1065 y=706 class=aj /><use href=#d x=1443 y=648 class=aB /><use href=#d x=1162 y=705 class=ad /><use href=#d x=1275 y=568 class=aC /><use href=#d x=1292 y=685 class=aa /><use href=#d x=1087 y=704 class=ad /><use href=#d x=1194 y=686 class=aa /><use href=#d x=1396 y=686 class=aa /><use href=#d x=1170 y=703 class=ad /><use href=#d x=1061 y=706 class=aj /><use href=#d x=948 y=690 class=Z /><use href=#d x=1153 y=695 class=ac /><use href=#d x=1210 y=689 class=Y /><use href=#d x=1258 y=691 class=Z /><use href=#d x=1405 y=686 class=aa /><use href=#d x=1313 y=685 class=aa /><use href=#d x=1174 y=697 class=ac /><use href=#d x=1450 y=692 class=Z /><use href=#d x=1235 y=685 class=aa /><use href=#d x=1148 y=692 class=Z /><use href=#d x=1202 y=686 class=aa /><use href=#d x=1136 y=692 class=Z /><use href=#d x=1056 y=706 class=aj /><use href=#d x=1280 y=685 class=aa /><use href=#d x=1124 y=701 class=X /><use href=#d x=1224 y=693 class=Z /><use href=#d x=1304 y=686 class=aa /><use href=#d x=1101 y=722 class=ai /><use href=#d x=1052 y=706 class=aj /><use href=#d x=1489 y=717 class=ab /><use href=#d x=1178 y=692 class=Z /><use href=#d x=1206 y=687 class=Y /><use href=#d x=1318 y=686 class=aa /><use href=#d x=1328 y=686 class=aa /><use href=#d x=1096 y=717 class=ab /><use href=#d x=1048 y=706 class=aj /><use href=#d x=1298 y=686 class=aa /><use href=#d x=1454 y=692 class=Z /><use href=#d x=948 y=654 class=ak /><use href=#d x=1254 y=691 class=Z /><use href=#d x=1062 y=701 class=X /><use href=#d x=1271 y=686 class=aa /><use href=#d x=1092 y=711 class=ae /><use href=#d x=1198 y=687 class=aa /><use href=#d x=1043 y=706 class=ad /><use href=#d x=1140 y=692 class=Z /><use href=#d x=1458 y=692 class=Z /><use href=#d x=1249 y=688 class=Y /><use href=#d x=1117 y=714 class=ab /><use href=#d x=1220 y=696 class=ac /><use href=#d x=948 y=687 class=aa /><use href=#d x=1228 y=690 class=Y /><use href=#d x=1039 y=706 class=ad /><use href=#d x=1331 y=688 class=aa /><use href=#d x=1263 y=690 class=Y /><use href=#d x=1145 y=692 class=Z /><use href=#d x=1121 y=708 class=aj /><use href=#d x=1322 y=687 class=aa /><use href=#d x=1289 y=687 class=aa /><use href=#d x=1034 y=706 class=ad /><use href=#d x=1335 y=690 class=Y /><use href=#d x=1420 y=693 class=Z /><use href=#d x=1412 y=689 class=Y /><use href=#d x=1128 y=698 class=ac /><use href=#d x=1132 y=696 class=Z /><use href=#d x=1030 y=706 class=ad /><use href=#d x=1106 y=726 class=ai /><use href=#d x=1308 y=687 class=aa /><use href=#d x=1241 y=687 class=aa /><use href=#d x=1445 y=696 class=ac /><use href=#d x=1408 y=689 class=Y /><use href=#d x=1216 y=695 class=Z /><use href=#d x=1110 y=725 class=ai /><use href=#d x=948 y=650 class=an /><use href=#d x=1025 y=706 class=ad /><use href=#d x=1400 y=688 class=aa /><use href=#d x=1278 y=687 class=aa /><use href=#d x=1588 y=683 class=aq /><use href=#d x=1232 y=688 class=aa /><use href=#d x=1485 y=708 class=ad /><use href=#d x=1190 y=689 class=Y /><use href=#d x=1083 y=702 class=X /><use href=#d x=948 y=683 class=aq /><use href=#d x=1186 y=689 class=Y /><use href=#d x=1245 y=688 class=aa /><use href=#d x=1284 y=688 class=aa /><use href=#d x=1079 y=698 class=ac /><use href=#d x=1167 y=709 class=aj /><use href=#d x=1021 y=705 class=ad /><use href=#d x=1268 y=689 class=aa /><use href=#d x=1291 y=567 class=aC /><use href=#d x=1295 y=688 class=aa /><use href=#d x=1158 y=702 class=X /><use href=#d x=1114 y=722 class=am /><use href=#d x=1313 y=688 class=aa /><use href=#d x=1182 y=691 class=Y /><use href=#d x=1017 y=705 class=ad /><use href=#d x=1302 y=688 class=aa /><use href=#d x=1298 y=568 class=aC /><use href=#d x=1391 y=687 class=aa /><use href=#d x=1261 y=694 class=Z /><use href=#d x=1163 y=708 class=ad /><use href=#d x=1358 y=683 class=aq /><use href=#d x=1088 y=707 class=ad /><use href=#d x=1195 y=689 class=aa /><use href=#d x=1171 y=706 class=ad /><use href=#d x=1212 y=692 class=Y /><use href=#d x=1012 y=705 class=X /><use href=#d x=1154 y=698 class=ac /><use href=#d x=1237 y=688 class=aa /><use href=#d x=1366 y=685 class=aq /><use href=#d x=1324 y=688 class=aa /><use href=#d x=1175 y=700 class=ac /><use href=#d x=1449 y=695 class=Z /><use href=#d x=1203 y=689 class=aa /><use href=#d x=1149 y=695 class=Z /><use href=#d x=1137 y=695 class=Z /><use href=#d x=1225 y=696 class=Z /><use href=#d x=1125 y=704 class=X /><use href=#d x=1275 y=689 class=aa /><use href=#d x=1102 y=725 class=ai /><use href=#d x=1008 y=704 class=X /><use href=#d x=1179 y=695 class=Z /><use href=#d x=1275 y=571 class=aC /><use href=#d x=1208 y=690 class=Y /><use href=#d x=947 y=680 class=ah /><use href=#d x=1343 y=691 class=Y /><use href=#d x=1256 y=694 class=Z /><use href=#d x=1317 y=689 class=aa /><use href=#d x=1097 y=720 class=ab /><use href=#d x=1003 y=704 class=X /><use href=#d x=1590 y=679 class=aw /><use href=#d x=1338 y=691 class=Y /><use href=#d x=1354 y=677 class=aw /><use href=#d x=1063 y=704 class=X /><use href=#d x=1362 y=680 class=ah /><use href=#d x=1290 y=689 class=aa /><use href=#d x=1251 y=691 class=Y /><use href=#d x=1328 y=690 class=aa /><use href=#d x=1199 y=690 class=aa /><use href=#d x=1093 y=714 class=ae /><use href=#d x=1266 y=693 class=Y /><use href=#d x=1141 y=695 class=Z /><use href=#d x=1374 y=684 class=aq /><use href=#d x=1308 y=689 class=aa /><use href=#d x=1222 y=699 class=ac /><use href=#d x=1349 y=680 class=ah /><use href=#d x=999 y=704 class=X /><use href=#d x=1118 y=717 class=ab /><use href=#d x=1230 y=693 class=Y /><use href=#d x=1332 y=693 class=Y /><use href=#d x=1283 y=689 class=aa /><use href=#d x=1122 y=711 class=aj /><use href=#d x=1145 y=695 class=Z /><use href=#d x=994 y=703 class=X /><use href=#d x=1407 y=693 class=Y /><use href=#d x=1395 y=579 class=az /><use href=#d x=1326 y=574 class=aA /><use href=#d x=947 y=676 class=aw /><use href=#d x=1296 y=690 class=aa /><use href=#d x=1370 y=682 class=ah /><use href=#d x=1302 y=690 class=aa /><use href=#d x=1129 y=701 class=ac /><use href=#d x=1133 y=699 class=Z /><use href=#d x=1294 y=579 class=az /><use href=#d x=990 y=703 class=X /><use href=#d x=1107 y=729 class=ai /><use href=#d x=1243 y=690 class=aa /><use href=#d x=1286 y=583 class=ax /><use href=#d x=1218 y=698 class=Z /><use href=#d x=1272 y=691 class=aa /><use href=#d x=1382 y=687 class=aq /><use href=#d x=1111 y=728 class=ai /><use href=#d x=1066 y=712 class=aj /><use href=#d x=1364 y=691 class=aa /><use href=#d x=1234 y=691 class=aa /><use href=#d x=985 y=702 class=ac /><use href=#d x=1248 y=691 class=aa /><use href=#d x=1592 y=674 class=ar /><use href=#d x=1320 y=691 class=aa /><use href=#d x=1191 y=692 class=Y /><use href=#d x=1264 y=696 class=Z /><use href=#d x=1312 y=690 class=aa /><use href=#d x=1491 y=727 class=ai /><use href=#d x=1187 y=692 class=aD /><use href=#d x=1169 y=712 class=aE /><use href=#d x=1084 y=705 class=aF /><use href=#d x=1062 y=712 class=aE /><use href=#d x=1080 y=701 class=aG /><use href=#d x=1279 y=691 class=aH /><use href=#d x=981 y=702 class=aG /><use href=#d x=1326 y=584 class=aI /><use href=#d x=1424 y=689 class=aH /><use href=#d x=1387 y=678 class=aJ /><use href=#d x=1159 y=705 class=aF /><use href=#d x=1115 y=725 class=aK /><use href=#d x=1394 y=693 class=aD /><use href=#d x=1298 y=572 class=aL /><use href=#d x=1058 y=712 class=aE /><use href=#d x=1347 y=686 class=aM /><use href=#d x=1183 y=694 class=aD /><use href=#d x=1288 y=691 class=aH /><use href=#d x=947 y=673 class=aN /><use href=#d x=1164 y=711 class=aO /><use href=#d x=1433 y=687 class=aM /><use href=#d x=1173 y=709 class=aO /><use href=#d x=977 y=701 class=aG /><use href=#d x=1089 y=710 class=aO /><use href=#d x=1196 y=692 class=aH /><use href=#d x=1239 y=691 class=aH /><use href=#d x=1280 y=589 class=aP /><use href=#d x=1214 y=695 class=aD /><use href=#d x=1054 y=712 class=aE /><use href=#d x=1356 y=685 class=aM /><use href=#d x=1155 y=701 class=aG /><use href=#d x=1260 y=696 class=aQ /><use href=#d x=1176 y=703 class=aG /><use href=#d x=1324 y=692 class=aH /><use href=#d x=1228 y=699 class=aQ /><use href=#d x=1205 y=692 class=aH /><use href=#d x=1352 y=682 class=aR /><use href=#d x=1150 y=698 class=aQ /><use href=#d x=1138 y=698 class=aQ /><use href=#d x=1126 y=707 class=aF /><use href=#d x=972 y=701 class=aG /><use href=#d x=1049 y=712 class=aE /><use href=#d x=1271 y=695 class=aD /><use href=#d x=1318 y=579 class=aS /><use href=#d x=1103 y=728 class=aT /><use href=#d x=1306 y=692 class=aH /><use href=#d x=1209 y=693 class=aD /><use href=#d x=1180 y=698 class=aQ /><use href=#d x=1328 y=695 class=aD /><use href=#d x=1255 y=694 class=aD /><use href=#d x=1294 y=692 class=aH /><use href=#d x=1420 y=690 class=aH /><use href=#d x=1098 y=723 class=aU /><use href=#d x=1428 y=686 class=aM /><use href=#d x=1045 y=712 class=aE /><use href=#d x=968 y=700 class=aQ /><use href=#d x=1404 y=610 class=aV /><use href=#d x=1291 y=590 class=aW /><use href=#d x=1373 y=688 class=aM /><use href=#d x=1378 y=683 class=aR /><use href=#d x=1300 y=692 class=aH /><use href=#d x=1064 y=707 class=aF /><use href=#d x=1224 y=702 class=aG /><use href=#d x=1201 y=693 class=aH /><use href=#d x=1581 y=685 class=aR /><use href=#d x=947 y=669 class=aX /><use href=#d x=1094 y=717 class=aY /><use href=#d x=1315 y=692 class=aH /><use href=#d x=1232 y=696 class=aD /><use href=#d x=1277 y=693 class=aH /><use href=#d x=1142 y=698 class=aQ /><use href=#d x=1041 y=712 class=aO /><use href=#d x=1284 y=692 class=aH /><use href=#d x=1119 y=720 class=aU /><use href=#d x=963 y=700 class=aQ /><use href=#d x=1386 y=685 class=aR /><use href=#d x=1361 y=681 class=aJ /><use href=#d x=1287 y=568 class=aZ /><use href=#d x=1037 y=712 class=aO /><use href=#d x=1123 y=714 class=aE /><use href=#d x=1147 y=698 class=aQ /><use href=#d x=1368 y=686 class=aR /><use href=#d x=959 y=699 class=aQ /><use href=#d x=1268 y=698 class=aQ /><use href=#d x=1246 y=693 class=aH /><use href=#d x=1344 y=691 class=aH /><use href=#d x=1299 y=590 class=aW /><use href=#d x=1309 y=582 class=aS /><use href=#d x=1358 y=691 class=aH /><use href=#d x=1108 y=732 class=aT /><use href=#d x=1130 y=704 class=aG /><use href=#d x=1220 y=700 class=aQ /><use href=#d x=1033 y=712 class=aO /><use href=#d x=1134 y=702 class=aQ /><use href=#d x=1384 y=695 class=aD /><use href=#d x=1251 y=694 class=aH /><use href=#d x=1237 y=694 class=aH /><use href=#d x=954 y=699 class=aQ /><use href=#d x=1113 y=731 class=aT /><use href=#d x=1319 y=694 class=aH /><use href=#d x=947 y=666 class=ba /><use href=#d x=1484 y=716 class=aE /><use href=#d x=1309 y=693 class=aH /><use href=#d x=1029 y=712 class=aO /><use href=#d x=1390 y=683 class=aJ /><use href=#d x=1290 y=694 class=aH /><use href=#d x=1193 y=695 class=aD /><use href=#d x=1170 y=715 class=aE /><use href=#d x=1284 y=589 class=aW /><use href=#d x=1189 y=695 class=aD /><use href=#d x=1275 y=697 class=aD /><use href=#d x=1085 y=708 class=aF /><use href=#d x=1323 y=697 class=aD /><use href=#d x=1080 y=704 class=aG /><use href=#d x=1264 y=698 class=aQ /><use href=#d x=1366 y=694 class=aH /><use href=#d x=1161 y=708 class=aF /><use href=#d x=1117 y=728 class=aK /><use href=#d x=1024 y=712 class=aO /><use href=#d x=1282 y=695 class=aH /><use href=#d x=1185 y=697 class=aD /><use href=#d x=1242 y=694 class=aH /><use href=#d x=1166 y=713 class=aO /><use href=#d x=1303 y=694 class=aH /><use href=#d x=1296 y=694 class=aH /><use href=#d x=1216 y=698 class=aD /><use href=#d x=1174 y=712 class=aO /><use href=#d x=1306 y=574 class=aL /><use href=#d x=1198 y=695 class=aH /><use href=#d x=1415 y=689 class=aM /><use href=#d x=1230 y=701 class=aQ /><use href=#d x=1340 y=685 class=aR /><use href=#d x=1090 y=713 class=aO /><use href=#d x=1403 y=684 class=aJ /><use href=#d x=1020 y=712 class=aO /><use href=#d x=948 y=697 class=aD /><use href=#d x=1258 y=696 class=aD /><use href=#d x=1178 y=706 class=aG /><use href=#d x=1156 y=704 class=aG /><use href=#d x=1207 y=695 class=aH /><use href=#d x=947 y=662 class=bb /><use href=#d x=1152 y=701 class=aQ /><use href=#d x=1139 y=701 class=aQ /><use href=#d x=1350 y=683 class=aJ /><use href=#d x=1127 y=710 class=aF /><use href=#d x=1211 y=696 class=aD /><use href=#d x=1105 y=731 class=aT /><use href=#d x=1370 y=691 class=aM /><use href=#d x=1303 y=585 class=aS /><use href=#d x=1313 y=696 class=aH /><use href=#d x=1346 y=694 class=aH /><use href=#d x=1182 y=701 class=aQ /><use href=#d x=1016 y=711 class=aO /><use href=#d x=1273 y=700 class=aQ /><use href=#d x=1100 y=726 class=aU /><use href=#d x=1299 y=593 class=aP /><use href=#d x=1227 y=704 class=aG /><use href=#d x=1235 y=698 class=aD /><use href=#d x=1490 y=730 class=aK /><use href=#d x=1362 y=688 class=aR /><use href=#d x=1288 y=696 class=aH /><use href=#d x=1203 y=696 class=aH /><use href=#d x=1334 y=682 class=aJ /><use href=#d x=1012 y=711 class=aF /><use href=#d x=1064 y=710 class=aF /><use href=#d x=1281 y=699 class=aD /><use href=#d x=1095 y=720 class=aY /><use href=#d x=1143 y=701 class=aQ /><use href=#d x=1317 y=699 class=aD /><use href=#d x=1308 y=592 class=aW /><use href=#d x=1360 y=614 class=aV /><use href=#d x=1121 y=723 class=aU /><use href=#d x=948 y=693 class=aH /><use href=#d x=1312 y=569 class=bc /><use href=#d x=1249 y=695 class=aH /><use href=#d x=1359 y=697 class=aD /><use href=#d x=1307 y=697 class=aH /><use href=#d x=1008 y=711 class=aF /><use href=#d x=1353 y=683 class=aJ /><use href=#d x=1392 y=690 class=aM /><use href=#d x=1067 y=717 class=aE /><use href=#d x=1124 y=717 class=aE /><use href=#d x=947 y=659 class=bd /><use href=#d x=1254 y=696 class=aH /><use href=#d x=1148 y=701 class=aQ /><use href=#d x=1336 y=690 class=aM /><use href=#d x=1413 y=696 class=aH /><use href=#d x=1533 y=702 class=aQ /><use href=#d x=1294 y=697 class=aH /><use href=#d x=1588 y=691 class=aM /><use href=#d x=1269 y=701 class=aQ /><use href=#d x=1309 y=575 class=aL /><use href=#d x=1223 y=703 class=aQ /><use href=#d x=1387 y=577 class=aL /><use href=#d x=1386 y=699 class=aD /><use href=#d x=1496 y=715 class=aO /><use href=#d x=1240 y=697 class=aH /><use href=#d x=1301 y=697 class=aH /><use href=#d x=1410 y=686 class=aJ /><use href=#d x=1110 y=735 class=aT /><use href=#d x=1063 y=717 class=aE /><use href=#d x=1003 y=711 class=aF /><use href=#d x=1132 y=707 class=aG /><use href=#d x=1136 y=705 class=aQ /><use href=#d x=1302 y=595 class=aP /><use href=#d x=1342 y=699 class=aD /><use href=#d x=1427 y=685 class=aJ /><use href=#d x=1114 y=734 class=aT /><use href=#d x=1279 y=702 class=aQ /><use href=#d x=1294 y=594 class=aP /><use href=#d x=1287 y=700 class=aD /><use href=#d x=1059 y=717 class=aE /><use href=#d x=1195 y=698 class=aD /><use href=#d x=1330 y=687 class=aR /><use href=#d x=1312 y=700 class=aD /><use href=#d x=1172 y=718 class=aE /><use href=#d x=948 y=690 class=aM /><use href=#d x=1355 y=691 class=aM /><use href=#d x=1191 y=698 class=aD /><use href=#d x=999 y=710 class=aF /><use href=#d x=1245 y=697 class=aH /><use href=#d x=1263 y=699 class=aD /><use href=#d x=1355 y=634 class=be /><use href=#d x=1086 y=711 class=aF /><use href=#d x=1430 y=694 class=aH /><use href=#d x=1081 y=707 class=aG /><use href=#d x=1163 y=711 class=aF /><use href=#d x=1382 y=695 class=aH /><use href=#d x=1118 y=731 class=aK /><use href=#d x=1055 y=718 class=aE /><use href=#d x=1187 y=700 class=aD /><use href=#d x=1233 y=704 class=aQ /><use href=#d x=1218 y=700 class=aD /><use href=#d x=1168 y=716 class=aO /><use href=#d x=1404 y=635 class=be /><use href=#d x=995 y=710 class=aF /><use href=#d x=1176 y=715 class=aO /><use href=#d x=1352 y=700 class=aD /><use href=#d x=1200 y=698 class=aH /><use href=#d x=1293 y=701 class=aD /><use href=#d x=1305 y=701 class=aD /><use href=#d x=1408 y=694 class=aM /><use href=#d x=1527 y=708 class=aG /><use href=#d x=1091 y=716 class=aO /><use href=#d x=1209 y=698 class=aH /><use href=#d x=1051 y=718 class=aE /><use href=#d x=1180 y=709 class=aG /><use href=#d x=1158 y=707 class=aG /><use href=#d x=1590 y=687 class=aJ /><use href=#d x=1374 y=690 class=aR /><use href=#d x=1299 y=701 class=aD /><use href=#d x=1324 y=578 class=aL /><use href=#d x=1214 y=699 class=aD /><use href=#d x=1320 y=589 class=aI /><use href=#d x=991 y=710 class=aG /><use href=#d x=1153 y=704 class=aQ /><use href=#d x=1140 y=704 class=aQ /><use href=#d x=1129 y=713 class=aF /><use href=#d x=947 y=687 class=aJ /><use href=#d x=1274 y=702 class=aQ /><use href=#d x=1106 y=734 class=aT /><use href=#d x=1184 y=704 class=aQ /><use href=#d x=1290 y=605 class=bf /><use href=#d x=1230 y=707 class=aG /><use href=#d x=1238 y=701 class=aD /><use href=#d x=1047 y=718 class=aE /><use href=#d x=1308 y=601 class=bg /><use href=#d x=1101 y=729 class=aU /><use href=#d x=1350 y=687 class=aJ /><use href=#d x=1253 y=698 class=aH /><use href=#d x=1288 y=590 class=aI /><use href=#d x=987 y=709 class=aG /><use href=#d x=1259 y=698 class=aH /><use href=#d x=1205 y=699 class=aH /><use href=#d x=1421 y=691 class=aM /><use href=#d x=1336 y=694 class=aM /><use href=#d x=1043 y=718 class=aO /><use href=#d x=1066 y=713 class=aF /><use href=#d x=1096 y=723 class=aY /><use href=#d x=1145 y=704 class=aQ /><use href=#d x=1122 y=726 class=aU /><use href=#d x=1304 y=588 class=aS /><use href=#d x=1308 y=607 class=bf /><use href=#d x=1411 y=699 class=aH /><use href=#d x=1243 y=699 class=aH /><use href=#d x=983 y=709 class=aG /><use href=#d x=1313 y=574 class=aZ /><use href=#d x=1226 y=706 class=aQ /><use href=#d x=1267 y=701 class=aD /><use href=#d x=1316 y=567 class=bh /><use href=#d x=1126 y=720 class=aE /><use href=#d x=1039 y=718 class=aO /><use href=#d x=947 y=683 class=bi /><use href=#d x=1149 y=704 class=aQ /><use href=#d x=1399 y=694 class=aM /><use href=#d x=1592 y=683 class=bi /><use href=#d x=1112 y=738 class=aT /><use href=#d x=1342 y=703 class=aD /><use href=#d x=1249 y=699 class=aH /><use href=#d x=978 y=708 class=aG /><use href=#d x=1279 y=704 class=aQ /><use href=#d x=1133 y=710 class=aG /><use href=#d x=1137 y=708 class=aQ /><use href=#d x=1035 y=718 class=aO /><use href=#d x=1116 y=737 class=aT /><use href=#d x=1332 y=688 class=aJ /><use href=#d x=1197 y=701 class=aD /><use href=#d x=1395 y=626 class=bj /><use href=#d x=1175 y=720 class=aE /><use href=#d x=1326 y=687 class=aJ /><use href=#d x=1426 y=687 class=aJ /><use href=#d x=1338 y=698 class=aH /><use href=#d x=1193 y=701 class=aD /><use href=#d x=1281 y=602 class=bg /><use href=#d x=1237 y=707 class=aQ /><use href=#d x=974 y=708 class=aQ /><use href=#d x=1031 y=718 class=aO /><use href=#d x=1221 y=703 class=aD /><use href=#d x=1087 y=714 class=aF /><use href=#d x=1165 y=714 class=aF /><use href=#d x=1308 y=566 class=bk /><use href=#d x=947 y=680 class=aN /><use href=#d x=1120 y=734 class=aK /><use href=#d x=1082 y=710 class=aG /><use href=#d x=1189 y=703 class=aD /><use href=#d x=1170 y=719 class=aO /><use href=#d x=1179 y=717 class=aO /><use href=#d x=1363 y=686 class=aJ /><use href=#d x=1202 y=701 class=aH /><use href=#d x=1395 y=686 class=aJ /><use href=#d x=1390 y=689 class=aJ /><use href=#d x=1211 y=701 class=aH /><use href=#d x=970 y=707 class=aQ /><use href=#d x=1263 y=700 class=aH /><use href=#d x=1285 y=705 class=aQ /><use href=#d x=1242 y=703 class=aD /><use href=#d x=1027 y=718 class=aO /><use href=#d x=1182 y=711 class=aG /><use href=#d x=1234 y=710 class=aG /><use href=#d x=1257 y=700 class=aH /><use href=#d x=1216 y=701 class=aD /><use href=#d x=1092 y=719 class=aO /><use href=#d x=1160 y=709 class=aG /><use href=#d x=1273 y=702 class=aD /><use href=#d x=1580 y=693 class=aR /><use href=#d x=1360 y=695 class=aM /><use href=#d x=1155 y=707 class=aQ /><use href=#d x=1186 y=706 class=aQ /><use href=#d x=1142 y=707 class=aQ /><use href=#d x=1130 y=716 class=aF /><use href=#d x=1108 y=737 class=aT /><use href=#d x=1424 y=695 class=aM /><use href=#d x=966 y=707 class=aQ /><use href=#d x=1023 y=718 class=aO /><use href=#d x=1417 y=687 class=aJ /><use href=#d x=1208 y=701 class=aH /><use href=#d x=947 y=677 class=aX /><use href=#d x=1247 y=702 class=aH /><use href=#d x=1103 y=732 class=aU /><use href=#d x=1069 y=722 class=aE /><use href=#d x=962 y=706 class=aQ /><use href=#d x=1229 y=708 class=aQ /><use href=#d x=1388 y=696 class=aM /><use href=#d x=1018 y=718 class=aO /><use href=#d x=1098 y=726 class=aY /><use href=#d x=1147 y=707 class=aQ /><use href=#d x=1253 y=701 class=aH /><use href=#d x=1067 y=717 class=aF /><use href=#d x=1124 y=729 class=aU /><use href=#d x=1290 y=572 class=bc /><use href=#d x=1371 y=689 class=aJ /><use href=#d x=1065 y=723 class=aE /><use href=#d x=1128 y=723 class=aE /><use href=#d x=1406 y=692 class=aR /><use href=#d x=1151 y=707 class=aQ /><use href=#d x=1288 y=611 class=bl /><use href=#d x=1278 y=704 class=aD /><use href=#d x=1532 y=707 class=aQ /><use href=#d x=1415 y=696 class=aM /><use href=#d x=957 y=706 class=aD /><use href=#d x=1393 y=692 class=aR /><use href=#d x=1014 y=718 class=aF /><use href=#d x=1384 y=692 class=aR /><use href=#d x=1241 y=709 class=aQ /><use href=#d x=1322 y=576 class=bc /><use href=#d x=1114 y=741 class=aT /><use href=#d x=1304 y=606 class=bg /><use href=#d x=1268 y=702 class=aH /><use href=#d x=1061 y=723 class=aE /><use href=#d x=1311 y=585 class=bm /><use href=#d x=947 y=674 class=ba /><use href=#d x=1135 y=713 class=aG /><use href=#d x=1319 y=587 class=bm /><use href=#d x=1139 y=711 class=aQ /><use href=#d x=1118 y=740 class=aT /><use href=#d x=1200 y=703 class=aD /><use href=#d x=1177 y=723 class=aE /><use href=#d x=1420 y=691 class=aJ /><use href=#d x=1262 y=702 class=aH /><use href=#d x=1195 y=704 class=aD /><use href=#d x=1429 y=689 class=aJ /><use href=#d x=1224 y=706 class=aD /><use href=#d x=953 y=705 class=aD /><use href=#d x=1010 y=718 class=aF /><use href=#d x=1297 y=592 class=aS /><use href=#d x=1057 y=723 class=aE /><use href=#d x=1246 y=706 class=aD /><use href=#d x=1373 y=696 class=aR /><use href=#d x=1079 y=711 class=aQ /><use href=#d x=1167 y=717 class=aF /><use href=#d x=1238 y=712 class=aG /><use href=#d x=1191 y=706 class=aD /><use href=#d x=1173 y=722 class=aO /><use href=#d x=1397 y=693 class=aR /><use href=#d x=1181 y=720 class=aO /><use href=#d x=1088 y=717 class=aF /><use href=#d x=1122 y=737 class=aK /><use href=#d x=1205 y=704 class=aH /><use href=#d x=1084 y=713 class=aG /><use href=#d x=1214 y=703 class=aH /><use href=#d x=1284 y=705 class=aD /><use href=#d x=1296 y=595 class=aI /><use href=#d x=1220 y=704 class=aD /><use href=#d x=1286 y=585 class=aL /><use href=#d x=1526 y=714 class=aG /><use href=#d x=1006 y=718 class=aF /><use href=#d x=1053 y=724 class=aE /><use href=#d x=1185 y=714 class=aG /><use href=#d x=1404 y=699 class=aM /><use href=#d x=947 y=670 class=bb /><use href=#d x=1252 y=704 class=aH /><use href=#d x=949 y=704 class=aH /><use href=#d x=1369 y=704 class=aH /><use href=#d x=1162 y=712 class=aG /><use href=#d x=1377 y=577 class=bc /><use href=#d x=1094 y=722 class=aO /><use href=#d x=1412 y=702 class=aH /><use href=#d x=1258 y=703 class=aH /><use href=#d x=1188 y=709 class=aQ /><use href=#d x=1280 y=574 class=bc /><use href=#d x=1157 y=710 class=aQ /><use href=#d x=1274 y=704 class=aH /><use href=#d x=1144 y=710 class=aQ /><use href=#d x=1110 y=740 class=aT /><use href=#d x=1132 y=719 class=aF /><use href=#d x=1385 y=604 class=aP /><use href=#d x=1002 y=717 class=aF /><use href=#d x=1049 y=724 class=aE /><use href=#d x=1277 y=575 class=bc /><use href=#d x=1388 y=584 class=aL /><use href=#d x=1211 y=704 class=aH /><use href=#d x=1301 y=580 class=aZ /><use href=#d x=1281 y=569 class=bk /><use href=#d x=1233 y=711 class=aQ /><use href=#d x=1105 y=735 class=aU /><use href=#d x=1282 y=604 class=aP /><use href=#d x=1389 y=600 class=aW /><use href=#d x=1427 y=696 class=aR /><use href=#d x=1267 y=704 class=aH /><use href=#d x=1045 y=724 class=aE /><use href=#d x=1245 y=711 class=aQ /><use href=#d x=998 y=717 class=aF /><use href=#d x=1587 y=700 class=aM /><use href=#d x=947 y=667 class=bd /><use href=#d x=949 y=701 class=aM /><use href=#d x=1149 y=710 class=aQ /><use href=#d x=1126 y=732 class=aU /><use href=#d x=1100 y=729 class=aY /><use href=#d x=1292 y=598 class=aI /><use href=#d x=1068 y=720 class=aF /><use href=#d x=1373 y=705 class=aH /><use href=#d x=1381 y=695 class=aR /><use href=#d x=1130 y=726 class=aE /><use href=#d x=1153 y=710 class=aQ /><use href=#d x=1409 y=692 class=aJ /><use href=#d x=1292 y=627 class=bn /><use href=#d x=1250 y=708 class=aD /><use href=#d x=1041 y=724 class=aO /><use href=#d x=1280 y=705 class=aH /><use href=#d x=994 y=717 class=aG /><use href=#d x=1228 y=708 class=aD /><use href=#d x=1116 y=744 class=aT /><use href=#d x=1203 y=706 class=aD /><use href=#d x=1242 y=714 class=aG /><use href=#d x=1180 y=726 class=aE /><use href=#d x=1291 y=598 class=aI /><use href=#d x=1137 y=716 class=aG /><use href=#d x=1141 y=714 class=aQ /><use href=#d x=1120 y=743 class=aT /><use href=#d x=1198 y=707 class=aD /><use href=#d x=1256 y=706 class=aH /><use href=#d x=1263 y=705 class=aH /><use href=#d x=949 y=697 class=aR /><use href=#d x=1422 y=693 class=aJ /><use href=#d x=1037 y=725 class=aO /><use href=#d x=1316 y=584 class=aL /><use href=#d x=1309 y=568 class=bk /><use href=#d x=1315 y=603 class=aP /><use href=#d x=990 y=716 class=aG /><use href=#d x=1387 y=703 class=aH /><use href=#d x=1194 y=708 class=aD /><use href=#d x=1418 y=693 class=aJ /><use href=#d x=1407 y=701 class=aM /><use href=#d x=1218 y=706 class=aH /><use href=#d x=1184 y=723 class=aO /><use href=#d x=1169 y=720 class=aF /><use href=#d x=1223 y=707 class=aD /><use href=#d x=1175 y=725 class=aO /><use href=#d x=1208 y=706 class=aH /><use href=#d x=1273 y=705 class=aH /><use href=#d x=1286 y=706 class=aH /><use href=#d x=1124 y=740 class=aK /><use href=#d x=1081 y=714 class=aQ /><use href=#d x=1090 y=720 class=aF /><use href=#d x=1377 y=702 class=aM /><use href=#d x=1589 y=695 class=aJ /><use href=#d x=1306 y=610 class=bg /><use href=#d x=1188 y=717 class=aG /><use href=#d x=1085 y=716 class=aG /><use href=#d x=1364 y=696 class=aR /><use href=#d x=1410 y=706 class=aH /><use href=#d x=1397 y=702 class=aM /><use href=#d x=1033 y=725 class=aO /><use href=#d x=1401 y=702 class=aM /><use href=#d x=1282 y=585 class=aL /><use href=#d x=1237 y=713 class=aQ /><use href=#d x=986 y=716 class=aG /><use href=#d x=1164 y=715 class=aG /><use href=#d x=1191 y=712 class=aQ /><use href=#d x=1072 y=727 class=aE /><use href=#d x=1250 y=713 class=aQ /><use href=#d x=1214 y=707 class=aH /><use href=#d x=1095 y=725 class=aO /><use href=#d x=1306 y=614 class=bf /><use href=#d x=948 y=694 class=aJ /><use href=#d x=1159 y=713 class=aQ /><use href=#d x=1112 y=743 class=aT /><use href=#d x=1146 y=713 class=aQ /><use href=#d x=1134 y=722 class=aF /><use href=#d x=1312 y=612 class=bf /><use href=#d x=1029 y=725 class=aO /><use href=#d x=1357 y=697 class=aR /><use href=#d x=1284 y=592 class=aS /><use href=#d x=1422 y=661 class=bo /><use href=#d x=1255 y=710 class=aD /><use href=#d x=982 y=715 class=aG /><use href=#d x=1268 y=707 class=aH /><use href=#d x=1107 y=738 class=aU /><use href=#d x=1278 y=707 class=aH /><use href=#d x=1068 y=728 class=aE /><use href=#d x=1415 y=700 class=aM /><use href=#d x=1312 y=625 class=aV /><use href=#d x=1261 y=708 class=aH /><use href=#d x=1436 y=673 class=bd /><use href=#d x=1376 y=627 class=aV /><use href=#d x=1247 y=716 class=aG /><use href=#d x=1151 y=713 class=aQ /><use href=#d x=1294 y=599 class=aI /><use href=#d x=1129 y=735 class=aU /><use href=#d x=1025 y=725 class=aO /><use href=#d x=1404 y=707 class=aH /><use href=#d x=1101 y=732 class=aY /><use href=#d x=1232 y=711 class=aD /><use href=#d x=1298 y=590 class=bm /><use href=#d x=1070 y=722 class=aF /><use href=#d x=977 y=715 class=aQ /><use href=#d x=948 y=691 class=bi /><use href=#d x=1064 y=728 class=aE /><use href=#d x=1420 y=698 class=aR /><use href=#d x=1591 y=691 class=bi /><use href=#d x=1132 y=729 class=aE /><use href=#d x=1156 y=713 class=aQ /><use href=#d x=1206 y=709 class=aD /><use href=#d x=1183 y=729 class=aE /><use href=#d x=1118 y=747 class=aT /><use href=#d x=1284 y=707 class=aH /><use href=#d x=1201 y=709 class=aD /><use href=#d x=1292 y=590 class=bm /><use href=#d x=1021 y=725 class=aO /><use href=#d x=1122 y=746 class=aT /><use href=#d x=1139 y=719 class=aG /><use href=#d x=1143 y=716 class=aQ /><use href=#d x=1227 y=709 class=aD /><use href=#d x=1343 y=582 class=aZ /><use href=#d x=1221 y=708 class=aH /><use href=#d x=1060 y=729 class=aE /><use href=#d x=1312 y=607 class=aP /><use href=#d x=973 y=714 class=aQ /><use href=#d x=1391 y=699 class=aR /><use href=#d x=1255 y=715 class=aQ /><use href=#d x=1274 y=708 class=aH /><use href=#d x=1211 y=709 class=aH /><use href=#d x=1197 y=711 class=aD /><use href=#d x=1187 y=726 class=aO /><use href=#d x=1242 y=715 class=aQ /><use href=#d x=1178 y=728 class=aO /><use href=#d x=1284 y=592 class=bm /><use href=#d x=1282 y=575 class=bh /><use href=#d x=1293 y=617 class=bf /><use href=#d x=1172 y=722 class=aF /><use href=#d x=1374 y=704 class=aM /><use href=#d x=1407 y=710 class=aD /><use href=#d x=1291 y=708 class=aH /><use href=#d x=1260 y=712 class=aD /><use href=#d x=948 y=688 class=aN /><use href=#d x=1291 y=618 class=bl /><use href=#d x=1017 y=725 class=aF /><use href=#d x=1127 y=742 class=aK /><use href=#d x=1579 y=701 class=aR /><use href=#d x=1267 y=709 class=aH /><use href=#d x=1191 y=720 class=aG /><use href=#d x=1312 y=587 class=aL /><use href=#d x=1082 y=717 class=aQ /><use href=#d x=1056 y=729 class=aE /><use href=#d x=1282 y=568 class=bp /><use href=#d x=1092 y=722 class=aF /><use href=#d x=1382 y=695 class=aJ /><use href=#d x=969 y=714 class=aQ /><use href=#d x=1217 y=709 class=aH /><use href=#d x=1087 y=719 class=aG /><use href=#d x=1290 y=568 class=bp /><use href=#d x=1194 y=715 class=aQ /><use href=#d x=1417 y=705 class=aM /><use href=#d x=1306 y=568 class=bp /><use href=#d x=1282 y=614 class=bf /><use href=#d x=1365 y=697 class=aJ /><use href=#d x=1167 y=718 class=aG /><use href=#d x=1252 y=718 class=aG /><use href=#d x=1380 y=713 class=aD /><use href=#d x=1013 y=725 class=aF /><use href=#d x=1280 y=709 class=aH /><use href=#d x=1276 y=568 class=bp /><use href=#d x=1162 y=716 class=aQ /><use href=#d x=1097 y=728 class=aO /><use href=#d x=1426 y=703 class=aM /><use href=#d x=1114 y=746 class=aT /><use href=#d x=1052 y=730 class=aE /><use href=#d x=1137 y=725 class=aF /><use href=#d x=1148 y=716 class=aQ /><use href=#d x=1303 y=628 class=aV /><use href=#d x=965 y=713 class=aD /><use href=#d x=1236 y=713 class=aD /><use href=#d x=948 y=685 class=aX /><use href=#d x=1277 y=624 class=bq /><use href=#d x=1109 y=741 class=aU /><use href=#d x=1524 y=717 class=aQ /><use href=#d x=1260 y=717 class=aQ /><use href=#d x=1272 y=710 class=aH /><use href=#d x=1009 y=724 class=aF /><use href=#d x=1369 y=698 class=aJ /><use href=#d x=1266 y=713 class=aD /><use href=#d x=1048 y=730 class=aE /><use href=#d x=1390 y=711 class=aH /><use href=#d x=1153 y=716 class=aQ /><use href=#d x=1131 y=738 class=aU /><use href=#d x=1286 y=710 class=aH /><use href=#d x=1314 y=621 class=bl /><use href=#d x=1103 y=735 class=aY /><use href=#d x=1209 y=711 class=aD /><use href=#d x=961 y=713 class=aD /><use href=#d x=1312 y=586 class=aZ /><use href=#d x=1247 y=717 class=aQ /><use href=#d x=1299 y=603 class=aI /><use href=#d x=1231 y=711 class=aD /><use href=#d x=1186 y=731 class=aE /><use href=#d x=1158 y=716 class=aQ /><use href=#d x=1134 y=732 class=aE /><use href=#d x=1071 y=725 class=aF /><use href=#d x=1205 y=712 class=aD /><use href=#d x=1225 y=711 class=aH /><use href=#d x=1399 y=699 class=aJ /><use href=#d x=1292 y=710 class=aH /><use href=#d x=948 y=682 class=ba /><use href=#d x=1005 y=724 class=aF /><use href=#d x=1384 y=698 class=aJ /><use href=#d x=1297 y=583 class=bc /><use href=#d x=1044 y=730 class=aO /><use href=#d x=1422 y=699 class=aJ /><use href=#d x=1215 y=711 class=aH /><use href=#d x=1257 y=720 class=aG /><use href=#d x=1125 y=749 class=aT /><use href=#d x=1191 y=728 class=aO /><use href=#d x=1201 y=714 class=aD /><use href=#d x=1142 y=722 class=aG /><use href=#d x=1145 y=719 class=aQ /><use href=#d x=957 y=712 class=aD /><use href=#d x=1182 y=730 class=aO /><use href=#d x=1278 y=712 class=aH /><use href=#d x=1394 y=697 class=aJ /><use href=#d x=1175 y=725 class=aF /><use href=#d x=1299 y=578 class=bh /><use href=#d x=1194 y=722 class=aG /><use href=#d x=1221 y=712 class=aH /><use href=#d x=1271 y=714 class=aD /><use href=#d x=1266 y=718 class=aQ /><use href=#d x=1129 y=745 class=aK /><use href=#d x=1000 y=724 class=aF /><use href=#d x=1040 y=731 class=aO /><use href=#d x=1075 y=732 class=aE /><use href=#d x=1397 y=715 class=aD /><use href=#d x=1198 y=717 class=aQ /><use href=#d x=1305 y=604 class=aI /><use href=#d x=1241 y=715 class=aD /><use href=#d x=1277 y=587 class=aZ /><use href=#d x=948 y=678 class=bb /><use href=#d x=1084 y=720 class=aQ /><use href=#d x=1316 y=578 class=bh /><use href=#d x=1094 y=725 class=aF /><use href=#d x=1170 y=721 class=aG /><use href=#d x=1284 y=712 class=aH /><use href=#d x=1089 y=722 class=aG /><use href=#d x=1165 y=718 class=aQ /><use href=#d x=1252 y=719 class=aQ /><use href=#d x=1036 y=731 class=aO /><use href=#d x=1071 y=733 class=aE /><use href=#d x=1316 y=574 class=bp /><use href=#d x=996 y=724 class=aG /><use href=#d x=1139 y=728 class=aF /><use href=#d x=1315 y=595 class=bm /><use href=#d x=1151 y=719 class=aQ /><use href=#d x=1419 y=705 class=aM /><use href=#d x=1409 y=706 class=aM /><use href=#d x=1099 y=731 class=aO /><use href=#d x=1262 y=721 class=aG /><use href=#d x=1290 y=713 class=aH /><use href=#d x=1277 y=715 class=aD /><use href=#d x=1294 y=601 class=aS /><use href=#d x=1235 y=713 class=aD /><use href=#d x=1585 y=708 class=aM /><use href=#d x=1271 y=720 class=aQ /><use href=#d x=1213 y=714 class=aD /><use href=#d x=948 y=675 class=bd /><use href=#d x=1230 y=713 class=aH /><use href=#d x=951 y=709 class=aM /><use href=#d x=1067 y=734 class=aE /><use href=#d x=1032 y=731 class=aO /><use href=#d x=1156 y=719 class=aQ /><use href=#d x=1134 y=741 class=aU /><use href=#d x=1190 y=734 class=aE /><use href=#d x=992 y=723 class=aG /><use href=#d x=1208 y=714 class=aD /><use href=#d x=1421 y=714 class=aD /><use href=#d x=1299 y=631 class=aV /><use href=#d x=1106 y=738 class=aY /><use href=#d x=1219 y=714 class=aH /><use href=#d x=1161 y=719 class=aQ /><use href=#d x=1137 y=734 class=aE /><use href=#d x=1283 y=716 class=aD /><use href=#d x=1411 y=713 class=aH /><use href=#d x=1444 y=675 class=br /><use href=#d x=1194 y=731 class=aO /><use href=#d x=1204 y=716 class=aD /><use href=#d x=1073 y=728 class=aF /><use href=#d x=1424 y=702 class=aJ /><use href=#d x=1299 y=627 class=bq /><use href=#d x=1246 y=717 class=aD /><use href=#d x=1185 y=733 class=aO /><use href=#d x=1295 y=601 class=aS /><use href=#d x=1063 y=734 class=aE /><use href=#d x=1268 y=723 class=aG /><use href=#d x=1277 y=721 class=aQ /><use href=#d x=1301 y=634 class=bn /><use href=#d x=1028 y=731 class=aO /><use href=#d x=1128 y=752 class=aT /><use href=#d x=1226 y=714 class=aH /><use href=#d x=1148 y=722 class=aQ /><use href=#d x=1528 y=719 class=aQ /><use href=#d x=1144 y=725 class=aG /><use href=#d x=988 y=723 class=aG /><use href=#d x=1178 y=728 class=aF /><use href=#d x=1257 y=721 class=aQ /><use href=#d x=1289 y=717 class=aD /><use href=#d x=1198 y=725 class=aG /><use href=#d x=950 y=706 class=aR /><use href=#d x=1414 y=701 class=aJ /><use href=#d x=1296 y=717 class=aD /><use href=#d x=1201 y=720 class=aQ /><use href=#d x=1400 y=714 class=aH /><use href=#d x=1296 y=588 class=aZ /><use href=#d x=1132 y=748 class=aK /><use href=#d x=1587 y=704 class=aJ /><use href=#d x=1312 y=603 class=aS /><use href=#d x=1384 y=701 class=aJ /><use href=#d x=1059 y=735 class=aE /><use href=#d x=1283 y=721 class=aQ /><use href=#d x=1321 y=583 class=bh /><use href=#d x=1319 y=631 class=aV /><use href=#d x=1024 y=731 class=aO /><use href=#d x=1303 y=597 class=bm /><use href=#d x=1173 y=723 class=aG /><use href=#d x=984 y=722 class=aQ /><use href=#d x=1240 y=715 class=aD /><use href=#d x=1309 y=638 class=bn /><use href=#d x=1299 y=573 class=bs /><use href=#d x=1096 y=728 class=aF /><use href=#d x=1086 y=723 class=aQ /><use href=#d x=1274 y=724 class=aG /><use href=#d x=1091 y=725 class=aG /><use href=#d x=1374 y=681 class=bd /><use href=#d x=1406 y=709 class=aM /><use href=#d x=1168 y=721 class=aQ /><use href=#d x=1290 y=722 class=aQ /><use href=#d x=950 y=702 class=aJ /><use href=#d x=1234 y=715 class=aH /><use href=#d x=1522 y=724 class=aG /><use href=#d x=1142 y=730 class=aF /><use href=#d x=1154 y=722 class=aQ /><use href=#d x=1055 y=736 class=aE /><use href=#d x=1217 y=716 class=aD /><use href=#d x=1102 y=734 class=aO /><use href=#d x=1296 y=722 class=aQ /><use href=#d x=1020 y=731 class=aF /><use href=#d x=1263 y=722 class=aQ /><use href=#d x=1251 y=719 class=aD /><use href=#d x=980 y=722 class=aQ /><use href=#d x=1212 y=717 class=aD /><use href=#d x=1194 y=736 class=aE /><use href=#d x=1223 y=716 class=aH /><use href=#d x=1286 y=616 class=aP /><use href=#d x=1280 y=725 class=aG /><use href=#d x=1159 y=721 class=aQ /><use href=#d x=1136 y=743 class=aU /><use href=#d x=1111 y=734 class=aO /><use href=#d x=1316 y=586 class=bc /><use href=#d x=1408 y=716 class=aH /><use href=#d x=1230 y=716 class=aH /><use href=#d x=1198 y=733 class=aO /><use href=#d x=1051 y=736 class=aE /><use href=#d x=1208 y=719 class=aD /><use href=#d x=1317 y=592 class=aZ /><use href=#d x=1416 y=705 class=aR /><use href=#d x=1164 y=721 class=aQ /><use href=#d x=1590 y=699 class=bi /><use href=#d x=950 y=699 class=bi /><use href=#d x=1140 y=737 class=aE /><use href=#d x=1016 y=731 class=aF /><use href=#d x=1189 y=735 class=aO /><use href=#d x=1285 y=574 class=bp /><use href=#d x=976 y=721 class=aQ /><use href=#d x=1286 y=725 class=aG /><use href=#d x=1402 y=647 class=bt /><use href=#d x=1202 y=727 class=aG /><use href=#d x=1302 y=573 class=bs /><use href=#d x=1182 y=730 class=aF /><use href=#d x=1075 y=731 class=aF /><use href=#d x=1131 y=754 class=aT /><use href=#d x=1269 y=723 class=aQ /><use href=#d x=1245 y=717 class=aD /><use href=#d x=1151 y=725 class=aQ /><use href=#d x=1147 y=728 class=aG /><use href=#d x=1205 y=722 class=aQ /><use href=#d x=1288 y=608 class=aI /><use href=#d x=1079 y=738 class=aE /><use href=#d x=1284 y=579 class=bk /><use href=#d x=1282 y=610 class=aW /><use href=#d x=1292 y=726 class=aG /><use href=#d x=1047 y=736 class=aO /><use href=#d x=1577 y=709 class=aR /><use href=#d x=1413 y=713 class=aM /><use href=#d x=1299 y=726 class=aG /><use href=#d x=1012 y=731 class=aF /><use href=#d x=1256 y=720 class=aD /><use href=#d x=1239 y=717 class=aH /><use href=#d x=1135 y=751 class=aK /><use href=#d x=1279 y=636 class=aV /><use href=#d x=1292 y=604 class=aS /><use href=#d x=950 y=696 class=aN /><use href=#d x=972 y=721 class=aD /><use href=#d x=1290 y=607 class=aI /><use href=#d x=1176 y=726 class=aG /><use href=#d x=1292 y=640 class=bn /><use href=#d x=1418 y=712 class=aM /><use href=#d x=1221 y=718 class=aD /><use href=#d x=1075 y=738 class=aE /><use href=#d x=1043 y=737 class=aO /><use href=#d x=1274 y=724 class=aQ /><use href=#d x=1171 y=724 class=aQ /><use href=#d x=1098 y=731 class=aF /><use href=#d x=1228 y=718 class=aH /><use href=#d x=1008 y=731 class=aF /><use href=#d x=1217 y=719 class=aD /><use href=#d x=1302 y=630 class=bq /><use href=#d x=1093 y=728 class=aG /><use href=#d x=1157 y=724 class=aQ /><use href=#d x=1145 y=733 class=aF /><use href=#d x=1198 y=739 class=aE /><use href=#d x=1279 y=614 class=aP /><use href=#d x=1235 y=718 class=aH /><use href=#d x=968 y=720 class=aD /><use href=#d x=1313 y=634 class=bq /><use href=#d x=950 y=693 class=aX /><use href=#d x=1071 y=739 class=aE /><use href=#d x=1304 y=620 class=bg /><use href=#d x=1250 y=719 class=aD /><use href=#d x=1212 y=721 class=aD /><use href=#d x=1202 y=735 class=aO /><use href=#d x=1039 y=737 class=aO /><use href=#d x=1395 y=657 class=be /><use href=#d x=1281 y=725 class=aQ /><use href=#d x=1279 y=602 class=bm /><use href=#d x=1262 y=722 class=aD /><use href=#d x=1162 y=724 class=aQ /><use href=#d x=1139 y=746 class=aU /><use href=#d x=1281 y=633 class=bq /><use href=#d x=1193 y=738 class=aO /><use href=#d x=1004 y=731 class=aF /><use href=#d x=1167 y=724 class=aQ /><use href=#d x=1206 y=730 class=aG /><use href=#d x=1114 y=737 class=aO /><use href=#d x=1143 y=740 class=aE /><use href=#d x=1244 y=719 class=aH /><use href=#d x=964 y=719 class=aH /><use href=#d x=1186 y=733 class=aF /><use href=#d x=1287 y=726 class=aQ /><use href=#d x=1209 y=725 class=aQ /><use href=#d x=1279 y=637 class=aV /><use href=#d x=1316 y=632 class=bq /><use href=#d x=1067 y=740 class=aE /><use href=#d x=1036 y=737 class=aO /><use href=#d x=1134 y=757 class=aT /><use href=#d x=950 y=690 class=ba /><use href=#d x=1295 y=601 class=bm /><use href=#d x=1154 y=727 class=aQ /><use href=#d x=1293 y=726 class=aQ /><use href=#d x=1150 y=730 class=aG /><use href=#d x=1077 y=734 class=aF /><use href=#d x=1276 y=612 class=aI /><use href=#d x=1299 y=726 class=aQ /><use href=#d x=1403 y=705 class=aJ /><use href=#d x=1000 y=730 class=aG /><use href=#d x=1301 y=644 class=bj /><use href=#d x=1346 y=595 class=aZ /><use href=#d x=1226 y=720 class=aD /><use href=#d x=1268 y=723 class=aD /><use href=#d x=1312 y=619 class=aP /><use href=#d x=1281 y=621 class=bg /><use href=#d x=1525 y=725 class=aQ /><use href=#d x=1138 y=753 class=aK /><use href=#d x=1233 y=720 class=aH /><use href=#d x=960 y=719 class=aH /><use href=#d x=1256 y=721 class=aD /><use href=#d x=1180 y=729 class=aG /><use href=#d x=1240 y=720 class=aH /><use href=#d x=1063 y=740 class=aE /><use href=#d x=1221 y=721 class=aD /><use href=#d x=1032 y=738 class=aO /><use href=#d x=1202 y=741 class=aE /><use href=#d x=1305 y=595 class=aZ /><use href=#d x=1307 y=644 class=bj /><use href=#d x=1174 y=726 class=aQ /><use href=#d x=950 y=687 class=bb /><use href=#d x=996 y=730 class=aG /><use href=#d x=1217 y=723 class=aD /><use href=#d x=1249 y=721 class=aH /><use href=#d x=1206 y=738 class=aO /><use href=#d x=1311 y=635 class=bq /><use href=#d x=1160 y=727 class=aQ /><use href=#d x=1148 y=736 class=aF /><use href=#d x=1274 y=724 class=aD /><use href=#d x=1284 y=624 class=bg /><use href=#d x=1414 y=713 class=aR /><use href=#d x=1283 y=640 class=aV /><use href=#d x=1059 y=741 class=aE /><use href=#d x=1292 y=625 class=bf /><use href=#d x=1028 y=738 class=aO /><use href=#d x=1582 y=716 class=aM /><use href=#d x=1210 y=732 class=aG /><use href=#d x=1197 y=740 class=aO /><use href=#d x=1280 y=578 class=bs /><use href=#d x=1519 y=729 class=aQ /><use href=#d x=1165 y=727 class=aQ /><use href=#d x=1302 y=658 class=be /><use href=#d x=1143 y=749 class=aU /><use href=#d x=1261 y=722 class=aD /><use href=#d x=1214 y=727 class=aQ /><use href=#d x=1170 y=727 class=aQ /><use href=#d x=950 y=684 class=bd /><use href=#d x=992 y=730 class=aG /><use href=#d x=1189 y=735 class=aF /><use href=#d x=1280 y=724 class=aD /><use href=#d x=1297 y=637 class=bq /><use href=#d x=1290 y=639 class=aV /><use href=#d x=1146 y=743 class=aE /><use href=#d x=1116 y=740 class=aO /><use href=#d x=1231 y=722 class=aD /><use href=#d x=1245 y=722 class=aH /><use href=#d x=1055 y=742 class=aE /><use href=#d x=1083 y=742 class=aE /><use href=#d x=1238 y=722 class=aH /><use href=#d x=1280 y=641 class=aV /><use href=#d x=1394 y=643 class=bn /><use href=#d x=1295 y=623 class=bg /><use href=#d x=1024 y=738 class=aF /><use href=#d x=1137 y=760 class=aT /><use href=#d x=1309 y=590 class=bh /><use href=#d x=1286 y=725 class=aD /><use href=#d x=1157 y=730 class=aQ /><use href=#d x=1301 y=624 class=bg /><use href=#d x=1153 y=733 class=aG /><use href=#d x=1226 y=723 class=aD /><use href=#d x=1255 y=722 class=aH /><use href=#d x=1079 y=737 class=aF /><use href=#d x=988 y=729 class=aQ /><use href=#d x=1183 y=731 class=aG /><use href=#d x=1267 y=723 class=aD /><use href=#d x=953 y=714 class=aR /><use href=#d x=1292 y=725 class=aD /><use href=#d x=1141 y=756 class=aK /><use href=#d x=1206 y=743 class=aE /><use href=#d x=1373 y=603 class=aL /><use href=#d x=1298 y=726 class=aD /><use href=#d x=1051 y=742 class=aE /><use href=#d x=1079 y=743 class=aE /><use href=#d x=1221 y=725 class=aD /><use href=#d x=1211 y=740 class=aO /><use href=#d x=1585 y=712 class=aJ /><use href=#d x=1280 y=581 class=bp /><use href=#d x=1315 y=664 class=bu /><use href=#d x=1020 y=738 class=aF /><use href=#d x=1178 y=729 class=aQ /><use href=#d x=1310 y=645 class=bn /><use href=#d x=1305 y=593 class=bc /><use href=#d x=1306 y=604 class=bm /><use href=#d x=1301 y=636 class=bq /><use href=#d x=1304 y=581 class=bp /><use href=#d x=1309 y=648 class=bj /><use href=#d x=1215 y=734 class=aG /><use href=#d x=1295 y=651 class=bt /><use href=#d x=1163 y=730 class=aQ /><use href=#d x=1151 y=738 class=aF /><use href=#d x=1201 y=742 class=aO /><use href=#d x=1250 y=723 class=aH /><use href=#d x=1293 y=603 class=aL /><use href=#d x=983 y=729 class=aQ /><use href=#d x=1273 y=724 class=aD /><use href=#d x=1218 y=729 class=aQ /><use href=#d x=1260 y=723 class=aH /><use href=#d x=1280 y=623 class=aP /><use href=#d x=1243 y=724 class=aH /><use href=#d x=953 y=711 class=aJ /><use href=#d x=1048 y=743 class=aO /><use href=#d x=1236 y=724 class=aD /><use href=#d x=1075 y=744 class=aE /><use href=#d x=1296 y=627 class=bg /><use href=#d x=1315 y=659 class=bv /><use href=#d x=1286 y=629 class=bf /><use href=#d x=1016 y=738 class=aF /><use href=#d x=1169 y=729 class=aQ /><use href=#d x=1194 y=738 class=aF /><use href=#d x=1146 y=751 class=aU /><use href=#d x=1174 y=729 class=aQ /><use href=#d x=1311 y=593 class=bc /><use href=#d x=1231 y=725 class=aD /><use href=#d x=1296 y=600 class=aZ /><use href=#d x=1279 y=725 class=aD /><use href=#d x=1149 y=745 class=aE /><use href=#d x=1307 y=690 class=bb /><use href=#d x=979 y=728 class=aD /><use href=#d x=1119 y=743 class=aO /><use href=#d x=1044 y=743 class=aO /><use href=#d x=1071 y=745 class=aE /><use href=#d x=1140 y=762 class=aT /><use href=#d x=1587 y=708 class=bi /><use href=#d x=953 y=708 class=bi /><use href=#d x=1211 y=745 class=aE /><use href=#d x=1266 y=725 class=aH /><use href=#d x=1161 y=733 class=aQ /><use href=#d x=1226 y=727 class=aD /><use href=#d x=1256 y=725 class=aH /><use href=#d x=1012 y=738 class=aF /><use href=#d x=1157 y=736 class=aG /><use href=#d x=1285 y=725 class=aD /><use href=#d x=1187 y=733 class=aG /><use href=#d x=1216 y=742 class=aO /><use href=#d x=1314 y=678 class=bo /><use href=#d x=1574 y=717 class=aR /><use href=#d x=1309 y=625 class=bg /><use href=#d x=1145 y=759 class=aK /><use href=#d x=1286 y=648 class=bn /><use href=#d x=1248 y=725 class=aH /><use href=#d x=1292 y=726 class=aD /><use href=#d x=1082 y=740 class=aF /><use href=#d x=1219 y=736 class=aG /><use href=#d x=1241 y=726 class=aD /><use href=#d x=1304 y=726 class=aD /><use href=#d x=1379 y=629 class=bg /><use href=#d x=1298 y=726 class=aD /><use href=#d x=975 y=728 class=aD /><use href=#d x=1182 y=731 class=aQ /><use href=#d x=1040 y=744 class=aO /><use href=#d x=1068 y=746 class=aE /><use href=#d x=1223 y=731 class=aQ /><use href=#d x=1205 y=744 class=aO /><use href=#d x=1272 y=726 class=aH /><use href=#d x=953 y=704 class=aN /><use href=#d x=1325 y=591 class=bh /><use href=#d x=1008 y=738 class=aF /><use href=#d x=1167 y=732 class=aQ /><use href=#d x=1236 y=727 class=aD /><use href=#d x=1155 y=741 class=aF /><use href=#d x=1311 y=596 class=bc /><use href=#d x=1277 y=591 class=bk /><use href=#d x=1293 y=619 class=aW /><use href=#d x=1262 y=726 class=aH /><use href=#d x=1198 y=740 class=aF /><use href=#d x=1172 y=732 class=aQ /><use href=#d x=1305 y=657 class=bt /><use href=#d x=1036 y=744 class=aO /><use href=#d x=1064 y=747 class=aE /><use href=#d x=1310 y=589 class=bk /><use href=#d x=1278 y=726 class=aH /><use href=#d x=971 y=727 class=aD /><use href=#d x=1178 y=731 class=aQ /><use href=#d x=1150 y=754 class=aU /><use href=#d x=1284 y=597 class=bc /><use href=#d x=1254 y=727 class=aH /><use href=#d x=1318 y=635 class=bl /><use href=#d x=1231 y=729 class=aD /><use href=#d x=1216 y=747 class=aE /><use href=#d x=1087 y=747 class=aE /><use href=#d x=953 y=701 class=aX /><use href=#d x=1004 y=737 class=aG /><use href=#d x=1221 y=744 class=aO /><use href=#d x=1153 y=748 class=aE /><use href=#d x=1289 y=667 class=bu /><use href=#d x=1310 y=624 class=aP /><use href=#d x=1246 y=727 class=aD /><use href=#d x=1283 y=598 class=bc /><use href=#d x=1312 y=601 class=aZ /><use href=#d x=1285 y=727 class=aH /><use href=#d x=1277 y=637 class=bl /><use href=#d x=1268 y=727 class=aH /><use href=#d x=1122 y=745 class=aO /><use href=#d x=1192 y=736 class=aG /><use href=#d x=1224 y=738 class=aG /><use href=#d x=1289 y=621 class=aW /><use href=#d x=1164 y=735 class=aQ /><use href=#d x=1160 y=738 class=aG /><use href=#d x=1228 y=733 class=aQ /><use href=#d x=1060 y=747 class=aE /><use href=#d x=1032 y=744 class=aO /><use href=#d x=1291 y=727 class=aH /><use href=#d x=1298 y=613 class=aS /><use href=#d x=967 y=726 class=aH /><use href=#d x=1515 y=733 class=aQ /><use href=#d x=1283 y=636 class=bl /><use href=#d x=1210 y=747 class=aO /><use href=#d x=1303 y=727 class=aH /><use href=#d x=1297 y=727 class=aH /><use href=#d x=1241 y=729 class=aD /><use href=#d x=1284 y=615 class=aS /><use href=#d x=1148 y=761 class=aK /><use href=#d x=1084 y=748 class=aE /><use href=#d x=953 y=698 class=ba /><use href=#d x=1186 y=734 class=aQ /><use href=#d x=1260 y=728 class=aH /><use href=#d x=1000 y=737 class=aG /><use href=#d x=1311 y=635 class=bf /><use href=#d x=1128 y=746 class=aO /><use href=#d x=1289 y=615 class=aS /><use href=#d x=1274 y=728 class=aH /><use href=#d x=1293 y=623 class=aW /><use href=#d x=1084 y=743 class=aF /><use href=#d x=1296 y=583 class=bs /><use href=#d x=1252 y=729 class=aD /><use href=#d x=1202 y=742 class=aF /><use href=#d x=1056 y=748 class=aE /><use href=#d x=1236 y=731 class=aD /><use href=#d x=1171 y=735 class=aQ /><use href=#d x=1028 y=744 class=aO /><use href=#d x=1158 y=744 class=aF /><use href=#d x=1221 y=749 class=aE /><use href=#d x=1303 y=646 class=aV /><use href=#d x=963 y=725 class=aM /><use href=#d x=1226 y=746 class=aO /><use href=#d x=1080 y=749 class=aE /><use href=#d x=1280 y=729 class=aH /><use href=#d x=1176 y=734 class=aQ /><use href=#d x=953 y=695 class=bb /><use href=#d x=1182 y=734 class=aQ /><use href=#d x=996 y=737 class=aQ /><use href=#d x=1266 y=729 class=aH /><use href=#d x=1314 y=655 class=bj /><use href=#d x=1153 y=756 class=aU /><use href=#d x=1282 y=633 class=bf /><use href=#d x=1305 y=674 class=bw /><use href=#d x=1229 y=740 class=aG /><use href=#d x=1315 y=623 class=aW /><use href=#d x=1246 y=730 class=aD /><use href=#d x=1233 y=734 class=aQ /><use href=#d x=1297 y=610 class=bm /><use href=#d x=1286 y=729 class=aH /><use href=#d x=1579 y=724 class=aM /><use href=#d x=1157 y=750 class=aE /><use href=#d x=1052 y=749 class=aO /><use href=#d x=1281 y=620 class=aI /><use href=#d x=1024 y=744 class=aF /><use href=#d x=1196 y=738 class=aG /><use href=#d x=1215 y=748 class=aO /><use href=#d x=1292 y=729 class=aH /><use href=#d x=1258 y=730 class=aD /><use href=#d x=1305 y=730 class=aH /><use href=#d x=1299 y=730 class=aH /><use href=#d x=1317 y=592 class=bk /><use href=#d x=1076 y=750 class=aE /><use href=#d x=1283 y=594 class=bk /><use href=#d x=1310 y=660 class=bv /><use href=#d x=1168 y=738 class=aQ /><use href=#d x=1126 y=748 class=aO /><use href=#d x=1272 y=730 class=aH /><use href=#d x=1164 y=741 class=aG /><use href=#d x=953 y=692 class=bd /><use href=#d x=1316 y=622 class=aW /><use href=#d x=1242 y=732 class=aD /><use href=#d x=1308 y=666 class=be /><use href=#d x=1281 y=596 class=bh /><use href=#d x=992 y=736 class=aQ /><use href=#d x=1291 y=649 class=bn /><use href=#d x=1190 y=736 class=aQ /><use href=#d x=1152 y=764 class=aK /><use href=#d x=1226 y=751 class=aE /><use href=#d x=1314 y=646 class=bq /><use href=#d x=1231 y=747 class=aO /><use href=#d x=1207 y=744 class=aF /><use href=#d x=1049 y=749 class=aO /><use href=#d x=1020 y=745 class=aF /><use href=#d x=1252 y=732 class=aD /><use href=#d x=1132 y=749 class=aO /><use href=#d x=1278 y=731 class=aH /><use href=#d x=1303 y=617 class=aS /><use href=#d x=1263 y=731 class=aD /><use href=#d x=1235 y=741 class=aG /><use href=#d x=1073 y=751 class=aE /><use href=#d x=1239 y=736 class=aQ /><use href=#d x=1175 y=737 class=aQ /><use href=#d x=957 y=722 class=aR /><use href=#d x=1300 y=683 class=bo /><use href=#d x=1087 y=746 class=aF /><use href=#d x=1162 y=746 class=aF /><use href=#d x=1294 y=684 class=bo /><use href=#d x=1316 y=677 class=bw /><use href=#d x=988 y=736 class=aQ /><use href=#d x=1284 y=731 class=aH /><use href=#d x=1581 y=720 class=aJ /><use href=#d x=1315 y=636 class=bf /><use href=#d x=1180 y=736 class=aQ /><use href=#d x=1186 y=736 class=aQ /><use href=#d x=1220 y=750 class=aO /><use href=#d x=1518 y=736 class=aQ /><use href=#d x=1247 y=734 class=aD /><use href=#d x=1157 y=759 class=aU /><use href=#d x=1045 y=750 class=aO /><use href=#d x=1511 y=743 class=aF /><use href=#d x=1290 y=732 class=aH /><use href=#d x=1309 y=732 class=aH /><use href=#d x=1016 y=745 class=aF /><use href=#d x=1201 y=740 class=aG /><use href=#d x=1269 y=732 class=aD /><use href=#d x=1297 y=732 class=aH /><use href=#d x=1303 y=732 class=aH /><use href=#d x=1258 y=733 class=aD /><use href=#d x=1160 y=753 class=aE /><use href=#d x=1069 y=752 class=aE /><use href=#d x=1298 y=627 class=aW /><use href=#d x=1276 y=618 class=aS /><use href=#d x=957 y=719 class=aJ /><use href=#d x=1236 y=749 class=aO /><use href=#d x=1231 y=752 class=aE /><use href=#d x=1289 y=656 class=bj /><use href=#d x=1172 y=740 class=aQ /><use href=#d x=1240 y=743 class=aG /><use href=#d x=984 y=735 class=aD /><use href=#d x=1244 y=737 class=aQ /><use href=#d x=1168 y=743 class=aG /><use href=#d x=1379 y=720 class=aJ /><use href=#d x=1194 y=738 class=aQ /><use href=#d x=1212 y=746 class=aF /><use href=#d x=1276 y=733 class=aD /><use href=#d x=1298 y=597 class=bk /><use href=#d x=1129 y=751 class=aO /><use href=#d x=1041 y=750 class=aO /><use href=#d x=1156 y=766 class=aK /><use href=#d x=1046 y=742 class=aG /><use href=#d x=1012 y=744 class=aF /><use href=#d x=1253 y=735 class=aD /><use href=#d x=1264 y=734 class=aD /><use href=#d x=1065 y=753 class=aE /><use href=#d x=957 y=716 class=bi /><use href=#d x=1583 y=716 class=bi /><use href=#d x=1282 y=733 class=aD /><use href=#d x=1294 y=679 class=bx /><use href=#d x=1570 y=725 class=aR /><use href=#d x=1225 y=752 class=aO /><use href=#d x=1135 y=751 class=aO /><use href=#d x=1179 y=739 class=aQ /><use href=#d x=1309 y=646 class=bq /><use href=#d x=1289 y=634 class=bg /><use href=#d x=1166 y=748 class=aF /><use href=#d x=1242 y=750 class=aO /><use href=#d x=980 y=735 class=aD /><use href=#d x=1288 y=734 class=aD /><use href=#d x=1190 y=738 class=aQ /><use href=#d x=1297 y=614 class=aL /><use href=#d x=1185 y=739 class=aQ /><use href=#d x=1237 y=754 class=aE /><use href=#d x=1250 y=739 class=aQ /><use href=#d x=1037 y=750 class=aO /><use href=#d x=1246 y=744 class=aG /><use href=#d x=1307 y=734 class=aD /><use href=#d x=1205 y=742 class=aG /><use href=#d x=1294 y=734 class=aD /><use href=#d x=1270 y=735 class=aD /><use href=#d x=1090 y=748 class=aF /><use href=#d x=1009 y=744 class=aG /><use href=#d x=1161 y=761 class=aU /><use href=#d x=1259 y=736 class=aD /><use href=#d x=1062 y=754 class=aE /><use href=#d x=1299 y=634 class=bg /><use href=#d x=957 y=713 class=aN /><use href=#d x=1297 y=592 class=bp /><use href=#d x=1165 y=755 class=aE /><use href=#d x=1217 y=748 class=aF /><use href=#d x=1405 y=671 class=be /><use href=#d x=1276 y=735 class=aD /><use href=#d x=1280 y=637 class=bg /><use href=#d x=1199 y=740 class=aQ /><use href=#d x=1176 y=742 class=aQ /><use href=#d x=976 y=734 class=aH /><use href=#d x=1298 y=672 class=be /><use href=#d x=1172 y=745 class=aG /><use href=#d x=1247 y=752 class=aO /><use href=#d x=1313 y=635 class=bg /><use href=#d x=1231 y=754 class=aO /><use href=#d x=1033 y=751 class=aO /><use href=#d x=1256 y=740 class=aQ /><use href=#d x=1296 y=712 class=aN /><use href=#d x=1242 y=755 class=aE /><use href=#d x=1265 y=737 class=aD /><use href=#d x=1160 y=768 class=aK /><use href=#d x=1252 y=745 class=aG /><use href=#d x=1005 y=744 class=aG /><use href=#d x=1133 y=753 class=aO /><use href=#d x=1282 y=736 class=aD /><use href=#d x=1058 y=754 class=aO /><use href=#d x=957 y=709 class=aX /><use href=#d x=1341 y=726 class=aR /><use href=#d x=1286 y=637 class=bg /><use href=#d x=1380 y=724 class=aJ /><use href=#d x=1288 y=736 class=aD /><use href=#d x=1183 y=742 class=aQ /><use href=#d x=1048 y=745 class=aG /><use href=#d x=1079 y=756 class=aE /><use href=#d x=1195 y=741 class=aQ /><use href=#d x=1307 y=737 class=aD /><use href=#d x=1210 y=744 class=aG /><use href=#d x=1139 y=754 class=aO /><use href=#d x=1295 y=671 class=be /><use href=#d x=1294 y=737 class=aD /><use href=#d x=1189 y=741 class=aQ /><use href=#d x=1170 y=751 class=aF /><use href=#d x=1271 y=738 class=aD /><use href=#d x=1301 y=737 class=aD /><use href=#d x=972 y=733 class=aH /><use href=#d x=1262 y=741 class=aQ /><use href=#d x=1029 y=751 class=aF /><use href=#d x=1253 y=753 class=aO /><use href=#d x=1222 y=750 class=aF /><use href=#d x=1258 y=747 class=aG /><use href=#d x=1166 y=764 class=aU /><use href=#d x=1248 y=757 class=aE /><use href=#d x=957 y=706 class=ba /><use href=#d x=1001 y=744 class=aQ /><use href=#d x=1305 y=681 class=bw /><use href=#d x=1054 y=755 class=aO /><use href=#d x=1236 y=755 class=aO /><use href=#d x=1314 y=676 class=bu /><use href=#d x=1277 y=739 class=aD /><use href=#d x=1169 y=757 class=aE /><use href=#d x=1093 y=751 class=aF /><use href=#d x=1204 y=742 class=aQ /><use href=#d x=1285 y=632 class=aP /><use href=#d x=1076 y=757 class=aE /><use href=#d x=1268 y=742 class=aQ /><use href=#d x=1181 y=745 class=aQ /><use href=#d x=1411 y=636 class=aP /><use href=#d x=1303 y=672 class=be /><use href=#d x=1259 y=754 class=aO /><use href=#d x=1283 y=739 class=aD /><use href=#d x=1293 y=663 class=bj /><use href=#d x=1176 y=748 class=aG /><use href=#d x=1295 y=678 class=bu /><use href=#d x=1264 y=748 class=aG /><use href=#d x=1026 y=751 class=aF /><use href=#d x=968 y=732 class=aM /><use href=#d x=1315 y=739 class=aD /><use href=#d x=1506 y=748 class=aG /><use href=#d x=1165 y=771 class=aK /><use href=#d x=956 y=703 class=bb /><use href=#d x=1313 y=638 class=bg /><use href=#d x=1254 y=758 class=aE /><use href=#d x=1288 y=616 class=aL /><use href=#d x=1290 y=740 class=aD /><use href=#d x=1050 y=756 class=aO /><use href=#d x=1308 y=740 class=aD /><use href=#d x=997 y=743 class=aQ /><use href=#d x=1574 y=732 class=aM /><use href=#d x=1215 y=746 class=aG /><use href=#d x=1296 y=740 class=aD /><use href=#d x=1274 y=743 class=aQ /><use href=#d x=1302 y=740 class=aD /><use href=#d x=1136 y=756 class=aO /><use href=#d x=1242 y=756 class=aO /><use href=#d x=1228 y=751 class=aF /><use href=#d x=1187 y=744 class=aQ /><use href=#d x=1200 y=743 class=aQ /><use href=#d x=1194 y=743 class=aQ /><use href=#d x=1072 y=758 class=aE /><use href=#d x=1265 y=755 class=aO /><use href=#d x=1270 y=748 class=aG /><use href=#d x=1314 y=619 class=bm /><use href=#d x=1175 y=753 class=aF /><use href=#d x=1300 y=662 class=bj /><use href=#d x=1280 y=743 class=by /><use href=#d x=1143 y=756 class=bz /><use href=#d x=1299 y=632 class=bA /><use href=#d x=1022 y=751 class=bB /><use href=#d x=1260 y=759 class=bC /><use href=#d x=956 y=700 class=bD /><use href=#d x=1302 y=655 class=bE /><use href=#d x=1290 y=678 class=bF /><use href=#d x=1287 y=603 class=bG /><use href=#d x=1170 y=766 class=bH /><use href=#d x=1299 y=702 class=bD /><use href=#d x=1051 y=748 class=bI /><use href=#d x=1209 y=744 class=by /><use href=#d x=1276 y=749 class=bI /><use href=#d x=1286 y=744 class=by /><use href=#d x=1047 y=756 class=bz /><use href=#d x=1314 y=638 class=bJ /><use href=#d x=1271 y=755 class=bz /><use href=#d x=1311 y=744 class=by /><use href=#d x=993 y=743 class=by /><use href=#d x=1173 y=759 class=bC /><use href=#d x=1293 y=744 class=by /><use href=#d x=1248 y=758 class=bz /><use href=#d x=1305 y=744 class=by /><use href=#d x=1299 y=744 class=by /><use href=#d x=1302 y=631 class=bA /><use href=#d x=1068 y=759 class=bC /><use href=#d x=1185 y=747 class=by /><use href=#d x=1282 y=750 class=bI /><use href=#d x=1301 y=689 class=bK /><use href=#d x=1233 y=753 class=bB /><use href=#d x=1266 y=760 class=bC /><use href=#d x=1181 y=750 class=bI /><use href=#d x=1277 y=756 class=bz /><use href=#d x=1096 y=754 class=bB /><use href=#d x=1221 y=748 class=bI /><use href=#d x=1313 y=750 class=bI /><use href=#d x=1577 y=728 class=bL /><use href=#d x=1288 y=750 class=bI /><use href=#d x=1169 y=773 class=bM /><use href=#d x=1018 y=751 class=bB /><use href=#d x=1307 y=750 class=bI /><use href=#d x=1295 y=750 class=bI /><use href=#d x=1204 y=744 class=by /><use href=#d x=1284 y=757 class=bz /><use href=#d x=1301 y=750 class=bI /><use href=#d x=1043 y=757 class=bz /><use href=#d x=1192 y=746 class=by /><use href=#d x=1315 y=757 class=bz /><use href=#d x=1198 y=745 class=by /><use href=#d x=1272 y=760 class=bC /><use href=#d x=1254 y=759 class=bz /><use href=#d x=989 y=742 class=bN /><use href=#d x=1290 y=757 class=bz /><use href=#d x=1288 y=642 class=bJ /><use href=#d x=1140 y=758 class=bz /><use href=#d x=1312 y=637 class=bO /><use href=#d x=1065 y=760 class=bC /><use href=#d x=1179 y=755 class=bB /><use href=#d x=1296 y=757 class=bz /><use href=#d x=1302 y=757 class=bz /><use href=#d x=961 y=727 class=bL /><use href=#d x=1435 y=691 class=bK /><use href=#d x=1282 y=674 class=bP /><use href=#d x=1290 y=674 class=bP /><use href=#d x=1214 y=746 class=by /><use href=#d x=1278 y=761 class=bC /><use href=#d x=1239 y=754 class=bB /><use href=#d x=1174 y=768 class=bH /><use href=#d x=1147 y=759 class=bz /><use href=#d x=1085 y=761 class=bC /><use href=#d x=1014 y=751 class=bI /><use href=#d x=1286 y=604 class=bQ /><use href=#d x=1226 y=749 class=bI /><use href=#d x=1178 y=762 class=bC /><use href=#d x=1284 y=761 class=bC /><use href=#d x=1260 y=760 class=bz /><use href=#d x=1315 y=761 class=bC /><use href=#d x=1039 y=757 class=bz /><use href=#d x=1565 y=733 class=bR /><use href=#d x=1316 y=696 class=bS /><use href=#d x=1190 y=749 class=by /><use href=#d x=1290 y=762 class=bC /><use href=#d x=1054 y=751 class=bI /><use href=#d x=1579 y=724 class=bT /><use href=#d x=961 y=724 class=bT /><use href=#d x=985 y=741 class=bN /><use href=#d x=1061 y=761 class=bC /><use href=#d x=1186 y=752 class=bI /><use href=#d x=1297 y=762 class=bC /><use href=#d x=1303 y=762 class=bC /><use href=#d x=1209 y=746 class=by /><use href=#d x=1174 y=775 class=bM /><use href=#d x=1313 y=683 class=bF /><use href=#d x=1266 y=761 class=bz /><use href=#d x=1197 y=748 class=by /><use href=#d x=1082 y=762 class=bC /><use href=#d x=1203 y=747 class=by /><use href=#d x=1318 y=600 class=bU /><use href=#d x=1245 y=755 class=bB /><use href=#d x=1100 y=756 class=bB /><use href=#d x=1390 y=665 class=bV /><use href=#d x=1010 y=751 class=bI /><use href=#d x=1219 y=748 class=by /><use href=#d x=1288 y=653 class=bW /><use href=#d x=1035 y=757 class=bB /><use href=#d x=1184 y=757 class=bB /><use href=#d x=961 y=721 class=bX /><use href=#d x=1232 y=751 class=bI /><use href=#d x=1272 y=761 class=bz /><use href=#d x=1106 y=757 class=bB /><use href=#d x=1057 y=762 class=bC /><use href=#d x=981 y=741 class=bY /><use href=#d x=1298 y=634 class=bA /><use href=#d x=1179 y=770 class=bH /><use href=#d x=1012 y=745 class=bN /><use href=#d x=1151 y=761 class=bz /><use href=#d x=1182 y=764 class=bC /><use href=#d x=1250 y=756 class=bB /><use href=#d x=1078 y=764 class=bC /><use href=#d x=1278 y=762 class=bz /><use href=#d x=1322 y=762 class=bz /><use href=#d x=1501 y=752 class=bI /><use href=#d x=1195 y=751 class=by /><use href=#d x=1310 y=650 class=bW /><use href=#d x=1304 y=672 class=bZ /><use href=#d x=1215 y=748 class=by /><use href=#d x=1006 y=751 class=by /><use href=#d x=1190 y=754 class=bI /><use href=#d x=961 y=718 class=ca /><use href=#d x=1284 y=762 class=bz /><use href=#d x=1032 y=757 class=bB /><use href=#d x=1316 y=762 class=bz /><use href=#d x=1179 y=777 class=bM /><use href=#d x=1208 y=749 class=by /><use href=#d x=1225 y=749 class=by /><use href=#d x=1202 y=750 class=by /><use href=#d x=1054 y=763 class=bz /><use href=#d x=1290 y=763 class=bz /><use href=#d x=1309 y=763 class=bz /><use href=#d x=1237 y=752 class=bI /><use href=#d x=1297 y=763 class=bz /><use href=#d x=1289 y=639 class=bA /><use href=#d x=1286 y=637 class=bA /><use href=#d x=977 y=740 class=cb /><use href=#d x=1256 y=757 class=bB /><use href=#d x=1057 y=754 class=bI /><use href=#d x=1075 y=765 class=bC /><use href=#d x=1189 y=759 class=bB /><use href=#d x=1298 y=664 class=cc /><use href=#d x=1292 y=674 class=bZ /><use href=#d x=961 y=714 class=cd /><use href=#d x=1103 y=759 class=bB /><use href=#d x=1002 y=750 class=by /><use href=#d x=1184 y=772 class=bH /><use href=#d x=1028 y=758 class=bB /><use href=#d x=1293 y=660 class=bE /><use href=#d x=1262 y=758 class=bB /><use href=#d x=1220 y=750 class=by /><use href=#d x=1050 y=764 class=bz /><use href=#d x=1187 y=766 class=bC /><use href=#d x=1200 y=753 class=by /><use href=#d x=1109 y=760 class=bB /><use href=#d x=1243 y=753 class=bI /><use href=#d x=1301 y=661 class=bE /><use href=#d x=1230 y=751 class=by /><use href=#d x=1155 y=763 class=bz /><use href=#d x=1009 y=748 class=bN /><use href=#d x=1316 y=651 class=ce /><use href=#d x=1195 y=756 class=bI /><use href=#d x=1278 y=643 class=bO /><use href=#d x=973 y=739 class=cb /><use href=#d x=1214 y=750 class=by /><use href=#d x=1286 y=663 class=bE /><use href=#d x=1092 y=766 class=bC /><use href=#d x=1071 y=766 class=bC /><use href=#d x=1569 y=740 class=cb /><use href=#d x=1207 y=752 class=by /><use href=#d x=961 y=711 class=cf /><use href=#d x=1269 y=759 class=bB /><use href=#d x=1014 y=748 class=bN /><use href=#d x=1315 y=714 class=cf /><use href=#d x=999 y=750 class=by /><use href=#d x=1024 y=758 class=bB /><use href=#d x=1194 y=761 class=bB /><use href=#d x=1047 y=764 class=bz /><use href=#d x=1249 y=755 class=bI /><use href=#d x=1275 y=760 class=bB /><use href=#d x=1304 y=664 class=bE /><use href=#d x=1225 y=751 class=by /><use href=#d x=1311 y=650 class=ce /><use href=#d x=1313 y=651 class=ce /><use href=#d x=1236 y=752 class=by /><use href=#d x=961 y=708 class=bD /><use href=#d x=1189 y=774 class=bH /><use href=#d x=1287 y=666 class=cc /><use href=#d x=1311 y=674 class=bZ /><use href=#d x=1089 y=767 class=bC /><use href=#d x=1281 y=760 class=bB /><use href=#d x=1068 y=767 class=bC /><use href=#d x=1060 y=756 class=bI /><use href=#d x=1205 y=755 class=by /><use href=#d x=1192 y=768 class=bC /><use href=#d x=1293 y=698 class=bK /><use href=#d x=1219 y=752 class=by /><use href=#d x=1107 y=762 class=bB /><use href=#d x=1287 y=761 class=bB /><use href=#d x=1312 y=761 class=bB /><use href=#d x=1200 y=758 class=bI /><use href=#d x=1212 y=753 class=by /><use href=#d x=1255 y=756 class=bI /><use href=#d x=1294 y=761 class=bB /><use href=#d x=1300 y=761 class=bB /><use href=#d x=1571 y=736 class=bL /><use href=#d x=1159 y=766 class=bz /><use href=#d x=995 y=749 class=bN /><use href=#d x=1020 y=758 class=bI /><use href=#d x=1043 y=765 class=bz /><use href=#d x=1113 y=762 class=bB /><use href=#d x=1314 y=652 class=ce /><use href=#d x=1242 y=753 class=by /><use href=#d x=1285 y=649 class=bJ /><use href=#d x=1231 y=753 class=by /><use href=#d x=1085 y=768 class=bC /><use href=#d x=1064 y=768 class=bC /><use href=#d x=1199 y=763 class=bB /><use href=#d x=1503 y=753 class=by /><use href=#d x=1261 y=756 class=bI /><use href=#d x=1011 y=751 class=bN /><use href=#d x=1309 y=654 class=ce /><use href=#d x=967 y=735 class=bL /><use href=#d x=1303 y=687 class=bF /><use href=#d x=1194 y=776 class=bH /><use href=#d x=1168 y=767 class=bz /><use href=#d x=1225 y=754 class=by /><use href=#d x=1017 y=751 class=bN /><use href=#d x=1210 y=756 class=by /><use href=#d x=1197 y=769 class=bC /><use href=#d x=1559 y=740 class=bR /><use href=#d x=1496 y=756 class=by /><use href=#d x=1017 y=758 class=bI /><use href=#d x=1218 y=755 class=by /><use href=#d x=1039 y=765 class=bz /><use href=#d x=991 y=749 class=bY /><use href=#d x=1267 y=757 class=bI /><use href=#d x=1206 y=760 class=bI /><use href=#d x=1248 y=755 class=by /><use href=#d x=1286 y=661 class=cg /><use href=#d x=1237 y=754 class=by /><use href=#d x=1082 y=770 class=bC /><use href=#d x=1061 y=768 class=bz /><use href=#d x=1310 y=670 class=cc /><use href=#d x=967 y=732 class=bT /><use href=#d x=1573 y=732 class=bT /><use href=#d x=1063 y=759 class=bI /><use href=#d x=1273 y=758 class=bI /><use href=#d x=1111 y=764 class=bB /><use href=#d x=1164 y=768 class=bz /><use href=#d x=1204 y=765 class=bB /><use href=#d x=1230 y=755 class=by /><use href=#d x=1254 y=756 class=by /><use href=#d x=1316 y=645 class=bO /><use href=#d x=1428 y=747 class=bY /><use href=#d x=1279 y=758 class=bI /><use href=#d x=1117 y=765 class=bB /><use href=#d x=1314 y=653 class=ce /><use href=#d x=1199 y=778 class=bH /><use href=#d x=1216 y=758 class=by /><use href=#d x=1036 y=765 class=bB /><use href=#d x=1013 y=757 class=by /><use href=#d x=987 y=748 class=bY /><use href=#d x=1223 y=756 class=by /><use href=#d x=1203 y=771 class=bC /><use href=#d x=1286 y=759 class=bI /><use href=#d x=967 y=729 class=bX /><use href=#d x=1243 y=755 class=by /><use href=#d x=1296 y=666 class=bE /><use href=#d x=1173 y=769 class=bz /><use href=#d x=1211 y=761 class=bI /><use href=#d x=1078 y=771 class=bC /><use href=#d x=1292 y=759 class=bI /><use href=#d x=1057 y=769 class=bz /><use href=#d x=1305 y=759 class=bI /><use href=#d x=1298 y=759 class=bI /><use href=#d x=1295 y=684 class=bP /><use href=#d x=1260 y=756 class=by /><use href=#d x=1014 y=753 class=bN /><use href=#d x=1236 y=756 class=by /><use href=#d x=1019 y=754 class=bN /><use href=#d x=1209 y=766 class=bB /><use href=#d x=967 y=726 class=ca /><use href=#d x=1248 y=756 class=by /><use href=#d x=1304 y=672 class=cc /><use href=#d x=1032 y=766 class=bB /><use href=#d x=1266 y=757 class=by /><use href=#d x=1169 y=770 class=bz /><use href=#d x=1009 y=757 class=by /><use href=#d x=1221 y=759 class=by /><use href=#d x=1229 y=758 class=by /><use href=#d x=1205 y=779 class=bH /><use href=#d x=983 y=747 class=cb /><use href=#d x=1075 y=772 class=bC /><use href=#d x=1114 y=767 class=bB /><use href=#d x=1054 y=770 class=bz /><use href=#d x=1208 y=773 class=bC /><use href=#d x=1066 y=762 class=bI /><use href=#d x=1217 y=763 class=bI /><use href=#d x=1316 y=655 class=ce /><use href=#d x=1272 y=758 class=by /><use href=#d x=1242 y=758 class=by /><use href=#d x=1121 y=767 class=bB /><use href=#d x=1254 y=757 class=by /><use href=#d x=1177 y=771 class=bz /><use href=#d x=967 y=722 class=cd /><use href=#d x=1322 y=758 class=by /><use href=#d x=1278 y=758 class=by /><use href=#d x=1307 y=708 class=bS /><use href=#d x=1215 y=768 class=bB /><use href=#d x=1028 y=766 class=bB /><use href=#d x=1235 y=759 class=by /><use href=#d x=1227 y=761 class=by /><use href=#d x=1005 y=757 class=bN /><use href=#d x=1316 y=759 class=by /><use href=#d x=1285 y=759 class=by /><use href=#d x=1283 y=653 class=bJ /><use href=#d x=1563 y=748 class=cb /><use href=#d x=1261 y=758 class=by /><use href=#d x=1072 y=773 class=bC /><use href=#d x=979 y=746 class=cb /><use href=#d x=1210 y=781 class=bH /><use href=#d x=1050 y=771 class=bz /><use href=#d x=1310 y=759 class=by /><use href=#d x=1291 y=759 class=by /><use href=#d x=1248 y=759 class=by /><use href=#d x=1303 y=759 class=by /><use href=#d x=1297 y=759 class=by /><use href=#d x=1214 y=774 class=bC /><use href=#d x=966 y=719 class=cf /><use href=#d x=1222 y=764 class=bI /><use href=#d x=1174 y=772 class=bz /><use href=#d x=1017 y=756 class=bN /><use href=#d x=1304 y=655 class=bJ /><use href=#d x=1267 y=759 class=by /><use href=#d x=1490 y=760 class=by /><use href=#d x=1022 y=757 class=bN /><use href=#d x=1241 y=760 class=by /><use href=#d x=1182 y=773 class=bz /><use href=#d x=1118 y=769 class=bB /><use href=#d x=1220 y=769 class=bB /><use href=#d x=1232 y=762 class=by /><use href=#d x=1254 y=760 class=by /><use href=#d x=1025 y=766 class=bI /><use href=#d x=1329 y=759 class=by /><use href=#d x=1001 y=756 class=bN /><use href=#d x=966 y=716 class=bD /><use href=#d x=1273 y=759 class=by /><use href=#d x=1068 y=774 class=bz /><use href=#d x=1069 y=764 class=bI /><use href=#d x=1125 y=769 class=bB /><use href=#d x=1047 y=771 class=bz /><use href=#d x=1228 y=766 class=bI /><use href=#d x=1219 y=776 class=bC /><use href=#d x=1323 y=760 class=by /><use href=#d x=1305 y=649 class=bA /><use href=#d x=1279 y=760 class=by /><use href=#d x=1565 y=744 class=bL /><use href=#d x=1246 y=761 class=by /><use href=#d x=1260 y=760 class=by /><use href=#d x=1295 y=655 class=bJ /><use href=#d x=1317 y=760 class=by /><use href=#d x=1285 y=760 class=by /><use href=#d x=1178 y=774 class=bz /><use href=#d x=1238 y=763 class=by /><use href=#d x=1310 y=761 class=by /><use href=#d x=1292 y=761 class=by /><use href=#d x=1226 y=771 class=bB /><use href=#d x=1304 y=761 class=by /><use href=#d x=1298 y=761 class=by /><use href=#d x=1021 y=766 class=bI /><use href=#d x=1266 y=761 class=by /><use href=#d x=1065 y=775 class=bz /><use href=#d x=1188 y=774 class=bz /><use href=#d x=998 y=756 class=bY /><use href=#d x=1234 y=767 class=bI /><use href=#d x=1553 y=748 class=bR /><use href=#d x=1252 y=762 class=by /><use href=#d x=1043 y=772 class=bB /><use href=#d x=1225 y=777 class=bC /><use href=#d x=1020 y=759 class=bN /><use href=#d x=1272 y=762 class=by /><use href=#d x=1328 y=762 class=by /><use href=#d x=1293 y=655 class=bO /><use href=#d x=1244 y=764 class=by /><use href=#d x=1123 y=771 class=bB /><use href=#d x=1300 y=725 class=cf /><use href=#d x=1025 y=759 class=bN /><use href=#d x=1305 y=670 class=cg /><use href=#d x=1232 y=772 class=bB /><use href=#d x=1129 y=772 class=bB /><use href=#d x=1259 y=763 class=by /><use href=#d x=1278 y=762 class=by /><use href=#d x=1322 y=762 class=by /><use href=#d x=973 y=740 class=bT /><use href=#d x=1567 y=740 class=bT /><use href=#d x=1285 y=651 class=bA /><use href=#d x=1073 y=767 class=bI /><use href=#d x=1239 y=768 class=bI /><use href=#d x=1419 y=754 class=bY /><use href=#d x=1285 y=763 class=by /><use href=#d x=1316 y=763 class=by /><use href=#d x=1017 y=765 class=by /><use href=#d x=1231 y=778 class=bC /><use href=#d x=1062 y=776 class=bz /><use href=#d x=1250 y=765 class=by /><use href=#d x=1291 y=763 class=by /><use href=#d x=1310 y=763 class=by /><use href=#d x=1040 y=772 class=bB /><use href=#d x=994 y=755 class=bY /><use href=#d x=1265 y=764 class=by /><use href=#d x=1297 y=763 class=by /><use href=#d x=1303 y=763 class=by /><use href=#d x=1193 y=776 class=bz /><use href=#d x=1238 y=773 class=bB /><use href=#d x=1290 y=691 class=bP /><use href=#d x=973 y=737 class=bX /><use href=#d x=1491 y=763 class=by /><use href=#d x=1245 y=769 class=bI /><use href=#d x=1271 y=765 class=by /><use href=#d x=1256 y=766 class=by /><use href=#d x=1080 y=768 class=bI /><use href=#d x=1388 y=655 class=bO /><use href=#d x=1327 y=765 class=by /><use href=#d x=1236 y=780 class=bC /><use href=#d x=1408 y=774 class=bB /><use href=#d x=1277 y=765 class=by /><use href=#d x=1205 y=777 class=bz /><use href=#d x=1058 y=776 class=bz /><use href=#d x=1321 y=765 class=by /><use href=#d x=1014 y=765 class=by /><use href=#d x=1243 y=774 class=bB /><use href=#d x=1483 y=765 class=by /><use href=#d x=1023 y=762 class=bN /><use href=#d x=1036 y=772 class=bB /><use href=#d x=1262 y=767 class=by /><use href=#d x=1283 y=765 class=by /><use href=#d x=1133 y=774 class=bB /><use href=#d x=1251 y=770 class=bI /><use href=#d x=973 y=733 class=ca /><use href=#d x=990 y=754 class=cb /><use href=#d x=1333 y=778 class=bz /><use href=#d x=1315 y=766 class=by /><use href=#d x=1198 y=778 class=bz /><use href=#d x=1290 y=766 class=by /><use href=#d x=1028 y=762 class=bN /><use href=#d x=1309 y=766 class=by /><use href=#d x=1296 y=766 class=by /><use href=#d x=1302 y=766 class=by /><use href=#d x=1076 y=770 class=bI /><use href=#d x=1269 y=768 class=by /><use href=#d x=1250 y=775 class=bB /><use href=#d x=1258 y=771 class=bI /><use href=#d x=973 y=730 class=cd /><use href=#d x=1275 y=768 class=by /><use href=#d x=1210 y=779 class=bz /><use href=#d x=1402 y=775 class=bB /><use href=#d x=1055 y=777 class=bz /><use href=#d x=1010 y=765 class=by /><use href=#d x=1032 y=772 class=bI /><use href=#d x=1264 y=772 class=bI /><use href=#d x=1281 y=769 class=by /><use href=#d x=1556 y=756 class=cb /><use href=#d x=1256 y=776 class=bB /><use href=#d x=986 y=753 class=bR /><use href=#d x=1084 y=771 class=bI /><use href=#d x=1204 y=779 class=bz /><use href=#d x=1337 y=779 class=bz /><use href=#d x=1287 y=769 class=by /><use href=#d x=1313 y=769 class=by /><use href=#d x=1294 y=769 class=by /><use href=#d x=1306 y=769 class=by /><use href=#d x=1300 y=769 class=by /><use href=#d x=1270 y=772 class=bI /><use href=#d x=973 y=727 class=cf /><use href=#d x=1138 y=776 class=bB /><use href=#d x=1262 y=777 class=bB /><use href=#d x=1331 y=780 class=bz /><use href=#d x=1216 y=780 class=bz /><use href=#d x=1276 y=773 class=bI /><use href=#d x=1314 y=655 class=bA /><use href=#d x=1051 y=777 class=bB /><use href=#d x=1397 y=777 class=bB /><use href=#d x=1324 y=780 class=bz /><use href=#d x=1445 y=764 class=bN /><use href=#d x=1031 y=765 class=bN /><use href=#d x=1283 y=773 class=bI /><use href=#d x=1080 y=772 class=bI /><use href=#d x=1404 y=777 class=bB /><use href=#d x=1029 y=772 class=bI /><use href=#d x=1006 y=764 class=bN /><use href=#d x=973 y=724 class=bD /><use href=#d x=1318 y=781 class=bz /><use href=#d x=1209 y=781 class=bz /><use href=#d x=1289 y=773 class=bI /><use href=#d x=1312 y=781 class=bz /><use href=#d x=1558 y=752 class=bL /><use href=#d x=1476 y=772 class=bI /><use href=#d x=1233 y=781 class=bz /><use href=#d x=1222 y=781 class=bz /><use href=#d x=1484 y=768 class=by /><use href=#d x=1434 y=761 class=bY /><use href=#d x=1546 y=755 class=bR /><use href=#d x=1315 y=673 class=bW /><use href=#d x=1087 y=773 class=bI /><use href=#d x=1143 y=778 class=bB /><use href=#d x=1048 y=778 class=bB /><use href=#d x=1399 y=779 class=bB /><use href=#d x=1025 y=772 class=by /><use href=#d x=1003 y=763 class=bY /><use href=#d x=1239 y=783 class=bz /><use href=#d x=1227 y=783 class=bz /><use href=#d x=980 y=748 class=bT /><use href=#d x=1317 y=783 class=bz /><use href=#d x=1152 y=779 class=bB /><use href=#d x=1286 y=783 class=bz /><use href=#d x=1084 y=775 class=bI /><use href=#d x=1034 y=767 class=bN /><use href=#d x=1560 y=747 class=bT /><use href=#d x=1311 y=783 class=bz /><use href=#d x=1292 y=783 class=bz /><use href=#d x=1305 y=783 class=bz /><use href=#d x=1298 y=783 class=bz /><use href=#d x=1245 y=784 class=bz /><use href=#d x=1044 y=778 class=bB /><use href=#d x=1263 y=784 class=bz /><use href=#d x=1393 y=780 class=bB /><use href=#d x=1233 y=784 class=bz /><use href=#d x=1147 y=780 class=bB /><use href=#d x=1022 y=772 class=by /><use href=#d x=980 y=745 class=bX /><use href=#d x=1269 y=784 class=bz /><use href=#d x=999 y=762 class=cb /><use href=#d x=1091 y=776 class=bI /><use href=#d x=1251 y=784 class=bz /><use href=#d x=1276 y=785 class=bz /><use href=#d x=1357 y=756 class=bR /><use href=#d x=1239 y=785 class=bz /><use href=#d x=1282 y=785 class=bz /><use href=#d x=1157 y=781 class=bB /><use href=#d x=1257 y=785 class=bz /><use href=#d x=1388 y=782 class=bB /><use href=#d x=980 y=742 class=ca /><use href=#d x=1041 y=778 class=bI /><use href=#d x=1288 y=785 class=bz /><use href=#d x=1295 y=786 class=bz /><use href=#d x=1088 y=777 class=bI /><use href=#d x=1018 y=771 class=by /><use href=#d x=1263 y=786 class=bz /><use href=#d x=1038 y=770 class=bN /><use href=#d x=1152 y=782 class=bB /><use href=#d x=995 y=761 class=cb /><use href=#d x=980 y=739 class=cd /><use href=#d x=1269 y=786 class=bz /><use href=#d x=1477 y=773 class=by /><use href=#d x=1382 y=783 class=bB /><use href=#d x=1548 y=763 class=cb /><use href=#d x=1096 y=778 class=bI /><use href=#d x=1469 y=775 class=by /><use href=#d x=1038 y=778 class=bI /><use href=#d x=1162 y=783 class=bB /><use href=#d x=980 y=735 class=cf /><use href=#d x=1015 y=771 class=bN /><use href=#d x=1376 y=784 class=bB /><use href=#d x=1092 y=779 class=bI /><use href=#d x=1157 y=784 class=bB /><use href=#d x=980 y=732 class=bD /><use href=#d x=1041 y=773 class=bN /><use href=#d x=1550 y=759 class=bL /><use href=#d x=1034 y=778 class=by /><use href=#d x=1370 y=785 class=bB /><use href=#d x=1167 y=785 class=bB /><use href=#d x=1100 y=781 class=bI /><use href=#d x=1538 y=762 class=bR /><use href=#d x=1380 y=786 class=bB /><use href=#d x=1011 y=770 class=bY /><use href=#d x=1162 y=786 class=bB /><use href=#d x=1361 y=761 class=bR /><use href=#d x=989 y=757 class=bL /><use href=#d x=1096 y=782 class=bI /><use href=#d x=1374 y=787 class=bB /><use href=#d x=1031 y=778 class=by /><use href=#d x=1172 y=787 class=bB /><use href=#d x=1552 y=755 class=bT /><use href=#d x=1045 y=775 class=bN /><use href=#d x=988 y=754 class=bT /><use href=#d x=1461 y=779 class=by /><use href=#d x=1104 y=783 class=bI /><use href=#d x=1007 y=769 class=cb /><use href=#d x=1369 y=788 class=bB /><use href=#d x=1374 y=765 class=bR /><use href=#d x=1436 y=784 class=bI /><use href=#d x=988 y=751 class=bX /><use href=#d x=1177 y=789 class=bB /><use href=#d x=1027 y=778 class=by /><use href=#d x=1363 y=789 class=bB /><use href=#d x=1101 y=784 class=bI /><use href=#d x=1004 y=768 class=cb /><use href=#d x=1357 y=790 class=bB /><use href=#d x=988 y=747 class=cd /><use href=#d x=1109 y=785 class=bI /><use href=#d x=1049 y=778 class=bN /><use href=#d x=1431 y=785 class=bI /><use href=#d x=1540 y=770 class=cb /><use href=#d x=1183 y=790 class=bB /><use href=#d x=1453 y=788 class=bB /><use href=#d x=1350 y=791 class=bB /><use href=#d x=1024 y=777 class=bN /><use href=#d x=1193 y=791 class=bB /><use href=#d x=988 y=744 class=cf /><use href=#d x=1344 y=791 class=bB /><use href=#d x=1426 y=787 class=bI /><use href=#d x=1188 y=792 class=bB /><use href=#d x=988 y=741 class=bD /><use href=#d x=1113 y=787 class=bI /><use href=#d x=1199 y=792 class=bB /><use href=#d x=1354 y=792 class=bB /><use href=#d x=1529 y=769 class=bR /><use href=#d x=1542 y=766 class=bL /><use href=#d x=1052 y=780 class=bN /><use href=#d x=1020 y=777 class=bY /><use href=#d x=1348 y=793 class=bB /><use href=#d x=1430 y=788 class=bI /><use href=#d x=1194 y=793 class=bB /><use href=#d x=1420 y=789 class=bI /><use href=#d x=1204 y=794 class=bB /><use href=#d x=1342 y=794 class=bB /><use href=#d x=1335 y=794 class=bB /><use href=#d x=1118 y=789 class=bI /><use href=#d x=997 y=763 class=bT /><use href=#d x=1543 y=762 class=bT /><use href=#d x=1444 y=792 class=bI /><use href=#d x=1017 y=776 class=cb /><use href=#d x=1329 y=795 class=bB /><use href=#d x=1425 y=790 class=bI /><use href=#d x=1200 y=795 class=bB /><use href=#d x=1210 y=795 class=bB /><use href=#d x=1056 y=783 class=bN /><use href=#d x=1323 y=795 class=bB /><use href=#d x=1317 y=795 class=bB /><use href=#d x=997 y=760 class=bX /><use href=#d x=1216 y=796 class=bB /><use href=#d x=1230 y=796 class=bB /><use href=#d x=1122 y=792 class=bI /><use href=#d x=1419 y=792 class=bI /><use href=#d x=997 y=757 class=ca /><use href=#d x=1013 y=775 class=cb /><use href=#d x=1330 y=797 class=bB /><use href=#d x=1065 y=785 class=bN /><use href=#d x=1324 y=797 class=bB /><use href=#d x=1222 y=797 class=bB /><use href=#d x=1236 y=797 class=bB /><use href=#d x=1530 y=777 class=cb /><use href=#d x=1060 y=785 class=bN /><use href=#d x=1132 y=793 class=bI /><use href=#d x=1318 y=798 class=bB /><use href=#d x=997 y=753 class=cd /><use href=#d x=1311 y=798 class=bB /><use href=#d x=1292 y=798 class=bB /><use href=#d x=1305 y=798 class=bB /><use href=#d x=1299 y=798 class=bB /><use href=#d x=1387 y=770 class=bL /><use href=#d x=1414 y=793 class=bI /><use href=#d x=1242 y=798 class=bB /><use href=#d x=1262 y=798 class=bB /><use href=#d x=1228 y=798 class=bB /><use href=#d x=1127 y=794 class=bI /><use href=#d x=997 y=750 class=cf /><use href=#d x=1268 y=799 class=bB /><use href=#d x=1248 y=799 class=bB /><use href=#d x=1519 y=776 class=bR /><use href=#d x=1274 y=799 class=bB /><use href=#d x=1069 y=787 class=bN /><use href=#d x=1234 y=799 class=ch /><use href=#d x=1137 y=795 class=ci /><use href=#d x=1408 y=795 class=ci /><use href=#d x=1532 y=773 class=cj /><use href=#d x=1281 y=800 class=ch /><use href=#d x=1254 y=800 class=ch /><use href=#d x=1287 y=800 class=ch /><use href=#d x=1064 y=788 class=ck /><use href=#d x=1435 y=792 class=cl /><use href=#d x=1293 y=800 class=ch /><use href=#d x=1300 y=800 class=ch /><use href=#d x=1260 y=800 class=ch /><use href=#d x=1443 y=791 class=cl /><use href=#d x=1132 y=796 class=ci /><use href=#d x=1402 y=796 class=ci /><use href=#d x=1267 y=801 class=ch /><use href=#d x=1142 y=796 class=ci /><use href=#d x=1073 y=789 class=ck /><use href=#d x=1380 y=780 class=cm /><use href=#d x=1534 y=769 class=cn /><use href=#d x=1007 y=769 class=cn /><use href=#d x=1397 y=797 class=ci /><use href=#d x=1069 y=790 class=ck /><use href=#d x=1137 y=797 class=ci /><use href=#d x=1404 y=798 class=ci /><use href=#d x=1007 y=766 class=co /><use href=#d x=1147 y=798 class=ci /><use href=#d x=1391 y=799 class=ci /><use href=#d x=1078 y=792 class=ck /><use href=#d x=1007 y=763 class=cp /><use href=#d x=1465 y=792 class=ck /><use href=#d x=1520 y=784 class=cm /><use href=#d x=1398 y=799 class=ci /><use href=#d x=1142 y=799 class=ci /><use href=#d x=1023 y=780 class=cq /><use href=#d x=1073 y=792 class=ck /><use href=#d x=1152 y=800 class=ci /><use href=#d x=1007 y=759 class=cr /><use href=#d x=1392 y=801 class=ci /><use href=#d x=1509 y=783 class=cq /><use href=#d x=1148 y=801 class=ci /><use href=#d x=1460 y=794 class=ck /><use href=#d x=1082 y=794 class=ck /><use href=#d x=1522 y=780 class=cj /><use href=#d x=1386 y=802 class=ci /><use href=#d x=1158 y=802 class=ci /><use href=#d x=1021 y=776 class=cj /><use href=#d x=1077 y=795 class=ck /><use href=#d x=1380 y=803 class=ci /><use href=#d x=1462 y=796 class=ck /><use href=#d x=1454 y=796 class=ck /><use href=#d x=1163 y=803 class=ci /><use href=#d x=1087 y=796 class=ck /><use href=#d x=1374 y=804 class=ci /><use href=#d x=1523 y=776 class=cn /><use href=#d x=1019 y=773 class=co /><use href=#d x=1082 y=797 class=ck /><use href=#d x=1368 y=805 class=ci /><use href=#d x=1457 y=797 class=ck /><use href=#d x=1449 y=797 class=ck /><use href=#d x=1169 y=805 class=ci /><use href=#d x=1034 y=789 class=cm /><use href=#d x=1362 y=806 class=ci /><use href=#d x=1091 y=798 class=ck /><use href=#d x=1509 y=791 class=cm /><use href=#d x=1375 y=806 class=ci /><use href=#d x=1182 y=806 class=ci /><use href=#d x=1087 y=799 class=ck /><use href=#d x=1017 y=769 class=cr /><use href=#d x=1452 y=799 class=ck /><use href=#d x=1174 y=807 class=ci /><use href=#d x=1369 y=807 class=ci /><use href=#d x=1498 y=789 class=cq /><use href=#d x=1187 y=807 class=ci /><use href=#d x=1032 y=785 class=cj /><use href=#d x=1363 y=808 class=ci /><use href=#d x=1096 y=800 class=ck /><use href=#d x=1180 y=808 class=ci /><use href=#d x=1511 y=787 class=cj /><use href=#d x=1446 y=801 class=ck /><use href=#d x=1356 y=808 class=ci /><use href=#d x=1193 y=809 class=ci /><use href=#d x=1350 y=809 class=ci /><use href=#d x=1186 y=809 class=ci /><use href=#d x=1344 y=810 class=ci /><use href=#d x=1441 y=802 class=ck /><use href=#d x=1101 y=803 class=ck /><use href=#d x=1030 y=781 class=cn /><use href=#d x=1199 y=810 class=ci /><use href=#d x=1338 y=810 class=ci /><use href=#d x=1512 y=783 class=cn /><use href=#d x=1331 y=811 class=ci /><use href=#d x=1191 y=811 class=ci /><use href=#d x=1205 y=811 class=ci /><use href=#d x=1436 y=804 class=ck /><use href=#d x=1106 y=805 class=ck /><use href=#d x=1343 y=812 class=ci /><use href=#d x=1497 y=797 class=cm /><use href=#d x=1223 y=812 class=ci /><use href=#d x=1029 y=778 class=cp /><use href=#d x=1211 y=812 class=ci /><use href=#d x=1336 y=813 class=ci /><use href=#d x=1430 y=806 class=ck /><use href=#d x=1330 y=813 class=ci /><use href=#d x=1486 y=795 class=cq /><use href=#d x=1229 y=813 class=ci /><use href=#d x=1044 y=794 class=cq /><use href=#d x=1324 y=813 class=ci /><use href=#d x=1217 y=813 class=ci /><use href=#d x=1317 y=813 class=ci /><use href=#d x=1311 y=814 class=ci /><use href=#d x=1305 y=814 class=ci /><use href=#d x=1298 y=814 class=ci /><use href=#d x=1111 y=807 class=ck /><use href=#d x=1236 y=814 class=ci /><use href=#d x=1260 y=814 class=ci /><use href=#d x=1424 y=807 class=ck /><use href=#d x=1223 y=814 class=ci /><use href=#d x=1499 y=793 class=cj /><use href=#d x=1433 y=807 class=ck /><use href=#d x=1242 y=815 class=ci /><use href=#d x=1267 y=815 class=ci /><use href=#d x=1273 y=815 class=ci /><use href=#d x=1229 y=815 class=ci /><use href=#d x=1122 y=808 class=ck /><use href=#d x=1248 y=815 class=ci /><use href=#d x=1279 y=815 class=ci /><use href=#d x=1042 y=790 class=cj /><use href=#d x=1286 y=816 class=ci /><use href=#d x=1419 y=808 class=ck /><use href=#d x=1116 y=808 class=ck /><use href=#d x=1292 y=816 class=ci /><use href=#d x=1305 y=816 class=ci /><use href=#d x=1299 y=816 class=ci /><use href=#d x=1428 y=809 class=ck /><use href=#d x=1254 y=816 class=ci /><use href=#d x=1235 y=816 class=ci /><use href=#d x=1261 y=817 class=ci /><use href=#d x=1501 y=789 class=cn /><use href=#d x=1267 y=817 class=ci /><use href=#d x=1127 y=810 class=ck /><use href=#d x=1273 y=817 class=ci /><use href=#d x=1422 y=810 class=ck /><use href=#d x=1121 y=810 class=ck /><use href=#d x=1041 y=786 class=co /><use href=#d x=1485 y=803 class=cm /><use href=#d x=1056 y=801 class=cm /><use href=#d x=1474 y=800 class=cq /><use href=#d x=1416 y=811 class=ck /><use href=#d x=1133 y=812 class=ck /><use href=#d x=1126 y=812 class=ck /><use href=#d x=1410 y=813 class=ck /><use href=#d x=1486 y=799 class=cj /><use href=#d x=1138 y=813 class=ck /><use href=#d x=1055 y=797 class=cj /><use href=#d x=1404 y=814 class=ck /><use href=#d x=1132 y=814 class=ck /><use href=#d x=1398 y=815 class=ck /><use href=#d x=1144 y=815 class=ck /><use href=#d x=1488 y=795 class=cn /><use href=#d x=1137 y=816 class=ck /><use href=#d x=1053 y=794 class=co /><use href=#d x=1392 y=816 class=ck /><use href=#d x=1472 y=808 class=cm /><use href=#d x=1070 y=808 class=cm /><use href=#d x=1460 y=805 class=cq /><use href=#d x=1149 y=817 class=ck /><use href=#d x=1386 y=817 class=ck /><use href=#d x=1143 y=817 class=ck /><use href=#d x=1396 y=818 class=ck /><use href=#d x=1380 y=818 class=ck /><use href=#d x=1155 y=818 class=ck /><use href=#d x=1473 y=804 class=cj /><use href=#d x=1068 y=804 class=cj /><use href=#d x=1390 y=819 class=ck /><use href=#d x=1160 y=820 class=ck /><use href=#d x=1384 y=820 class=ck /><use href=#d x=1173 y=820 class=ck /><use href=#d x=1377 y=821 class=ck /><use href=#d x=1475 y=801 class=cn /><use href=#d x=1166 y=821 class=ck /><use href=#d x=1067 y=800 class=cn /><use href=#d x=1083 y=813 class=cm /><use href=#d x=1447 y=810 class=cq /><use href=#d x=1371 y=821 class=ck /><use href=#d x=1179 y=822 class=ck /><use href=#d x=1458 y=812 class=cm /><use href=#d x=1365 y=822 class=ck /><use href=#d x=1172 y=823 class=ck /><use href=#d x=1359 y=823 class=ck /><use href=#d x=1185 y=823 class=ck /><use href=#d x=1352 y=823 class=ck /><use href=#d x=1178 y=824 class=ck /><use href=#d x=1082 y=810 class=cj /><use href=#d x=1346 y=824 class=ck /><use href=#d x=1191 y=824 class=ck /><use href=#d x=1460 y=809 class=cj /><use href=#d x=1363 y=825 class=ck /><use href=#d x=1184 y=825 class=ck /><use href=#d x=1197 y=825 class=ck /><use href=#d x=1357 y=825 class=ck /><use href=#d x=1350 y=826 class=ck /><use href=#d x=1433 y=815 class=cq /><use href=#d x=1098 y=818 class=cm /><use href=#d x=1190 y=826 class=ck /><use href=#d x=1081 y=806 class=cn /><use href=#d x=1203 y=826 class=ck /><use href=#d x=1344 y=826 class=ck /><use href=#d x=1219 y=827 class=ck /><use href=#d x=1461 y=805 class=cn /><use href=#d x=1338 y=827 class=ck /><use href=#d x=1444 y=816 class=cq /><use href=#d x=1331 y=827 class=ck /><use href=#d x=1209 y=827 class=ck /><use href=#d x=1225 y=827 class=ck /><use href=#d x=1325 y=828 class=ck /><use href=#d x=1318 y=828 class=ck /><use href=#d x=1312 y=828 class=ck /><use href=#d x=1306 y=828 class=ck /><use href=#d x=1231 y=828 class=ck /><use href=#d x=1215 y=828 class=ck /><use href=#d x=1096 y=815 class=cj /><use href=#d x=1238 y=829 class=ck /><use href=#d x=1266 y=829 class=ck /><use href=#d x=1222 y=829 class=ck /><use href=#d x=1445 y=813 class=cj /><use href=#d x=1273 y=829 class=ck /><use href=#d x=1244 y=830 class=ck /><use href=#d x=1279 y=830 class=ck /><use href=#d x=1324 y=830 class=ck /><use href=#d x=1285 y=830 class=ck /><use href=#d x=1318 y=830 class=ck /><use href=#d x=1228 y=830 class=ck /><use href=#d x=1292 y=830 class=ck /><use href=#d x=1311 y=830 class=ck /><use href=#d x=1418 y=819 class=cq /><use href=#d x=1298 y=830 class=ck /><use href=#d x=1305 y=830 class=ck /><use href=#d x=1250 y=830 class=ck /><use href=#d x=1257 y=831 class=ck /><use href=#d x=1112 y=823 class=cm /><use href=#d x=1234 y=831 class=ck /><use href=#d x=1429 y=822 class=cm /><use href=#d x=1263 y=831 class=ck /><use href=#d x=1095 y=811 class=cn /><use href=#d x=1240 y=831 class=ck /><use href=#d x=1270 y=832 class=ck /><use href=#d x=1276 y=832 class=ck /><use href=#d x=1446 y=809 class=co /><use href=#d x=1282 y=832 class=ck /><use href=#d x=1111 y=819 class=cj /><use href=#d x=1430 y=818 class=cj /><use href=#d x=1403 y=823 class=cs /><use href=#d x=1128 y=827 class=ct /><use href=#d x=1414 y=827 class=ct /><use href=#d x=1110 y=815 class=cu /><use href=#d x=1431 y=815 class=cu /><use href=#d x=1127 y=823 class=cv /><use href=#d x=1415 y=823 class=cv /><use href=#d x=1144 y=830 class=ct /><use href=#d x=1398 y=830 class=ct /><use href=#d x=1126 y=820 class=cu /><use href=#d x=1416 y=820 class=cu /><use href=#d x=1143 y=827 class=cv /><use href=#d x=1399 y=827 class=cv /><use href=#d x=1382 y=834 class=ct /><use href=#d x=1160 y=834 class=ct /><use href=#d x=1400 y=823 class=cu /><use href=#d x=1142 y=823 class=cu /><use href=#d x=1159 y=830 class=cv /><use href=#d x=1383 y=830 class=cv /><use href=#d x=1176 y=836 class=ct /><use href=#d x=1365 y=836 class=ct /><use href=#d x=1349 y=839 class=ct /><use href=#d x=1193 y=839 class=ct /><use href=#d x=1384 y=826 class=cu /><use href=#d x=1158 y=826 class=cu /><use href=#d x=1176 y=833 class=cv /><use href=#d x=1366 y=833 class=cv /><use href=#d x=1332 y=841 class=ct /><use href=#d x=1210 y=841 class=ct /><use href=#d x=1193 y=835 class=cv /><use href=#d x=1349 y=835 class=cv /><use href=#d x=1367 y=829 class=cu /><use href=#d x=1175 y=829 class=cu /><use href=#d x=1227 y=842 class=ct /><use href=#d x=1314 y=842 class=ct /><use href=#d x=1297 y=843 class=ct /><use href=#d x=1245 y=843 class=ct /><use href=#d x=1210 y=837 class=cv /><use href=#d x=1332 y=837 class=cv /><use href=#d x=1280 y=843 class=ct /><use href=#d x=1262 y=843 class=ct /><use href=#d x=1350 y=832 class=cu /><use href=#d x=1192 y=832 class=cu /><use href=#d x=1227 y=839 class=cv /><use href=#d x=1315 y=839 class=cv /><use href=#d x=1297 y=839 class=cv /><use href=#d x=1245 y=839 class=cv /><use href=#d x=1209 y=834 class=cu /><use href=#d x=1333 y=834 class=cu /><use href=#d x=1262 y=840 class=cv /><use href=#d x=1280 y=840 class=cv /><use href=#d x=1315 y=835 class=cu /><use href=#d x=1227 y=835 class=cu /><use href=#d x=1244 y=836 class=cu /><use href=#d x=1298 y=836 class=cu /><use href=#d x=1280 y=836 class=cu /><use href=#d x=1262 y=836 class=cu /></g></g>
<g id="text_26">
<text style="font-size: 12px; font-family: 'Liberation Sans', sans-serif; text-anchor: middle" x="442.8" y="71.76" transform="rotate(-0 442.8 71.76)" textLength="200.12" lengthAdjust="spacingAndGlyphs">LiDAR Point 3D Coordinate Graph</text>
</g>
<g id="legend_1">
<g id="patch_6">
<path d="M 568.37 100.43 
L 625.88 100.43 
Q 627.88 100.43 627.88 98.43 
L 627.88 84.76 
Q 627.88 82.76 625.88 82.76 
L 568.37 82.76 
Q 566.37 82.76 566.37 84.76 
L 566.37 98.43 
Q 566.37 100.43 568.37 100.43 
z
" style="fill: #ffffff; opacity: 0.8; stroke: #cccccc; stroke-linejoin: miter"/>
</g>
<g id="Path3DCollection_2">
<path d="M 580.37 93.96 
C 580.96 93.96 581.53 93.73 581.95 93.31 
C 582.37 92.89 582.61 92.32 582.61 91.73 
C 582.61 91.14 582.37 90.57 581.95 90.15 
C 581.53 89.73 580.96 89.49 580.37 89.49 
C 579.78 89.49 579.21 89.73 578.79 90.15 
C 578.37 90.57 578.14 91.14 578.14 91.73 
C 578.14 92.32 578.37 92.89 578.79 93.31 
C 579.21 93.73 579.78 93.96 580.37 93.96 
z
" style="fill: #5ec962; stroke: #5ec962"/>
</g>
<g id="text_27">
<text style="font-size: 10px; font-family: 'Liberation Sans', sans-serif; text-anchor: start" x="598.37" y="94.35" transform="rotate(-0 598.37 94.35)" textLength="25.50" lengthAdjust="spacingAndGlyphs">point</text>
</g>
</g>
</g>
<g id="axes_2">
<g id="patch_7">
<path d="M 205.92 576.72 L 300.96 576.72 L 300.96 481.68 L 205.92 481.68 z" style="fill: #ffffff"/>
</g>
<g id="PathCollection_1"><defs>
<path id="m26ed521848" d="M 0 3 
C 0.79 3 1.55 2.68 2.12 2.12 
C 2.68 1.55 3 0.79 3 0 
C 3 -0.79 2.68 -1.55 2.12 -2.12 
C 1.55 -2.68 0.79 -3 0 -3 
C -0.79 -3 -1.55 -2.68 -2.12 -2.12 
C -2.68 -1.55 -3 -0.79 -3 0 
C -3 0.79 -2.68 1.55 -2.12 2.12 
C -1.55 2.68 -0.79 3 0 3 
z
" style="stroke: #90ee90"/>
</defs><g clip-path="url(#p66bb2b4eb1)"><path transform="scale(.72)" fill-rule="evenodd" style="fill:#90ee90;stroke:none" d="M341.5 667.2L341.5 678.3L336.9 678.3L334.6 675.5L330.0 674.9L324.6 676.4L319.3 680.6L313.1 686.7L307.0 693.6L301.6 702.0L297.0 711.2L294.0 721.2L292.4 731.9L292.9 742.7L294.7 753.4L298.6 764.1L303.9 773.3L310.8 782.5L319.3 791.0L328.5 797.1L336.1 800.9L382.1 800.9L391.3 796.3L400.5 788.7L408.2 779.5L414.3 770.3L420.8 764.1L420.8 702.8L414.3 701.0L410.5 700.5L409.7 695.9L406.7 691.3L405.1 685.9L402.1 681.3L397.5 678.3L391.3 673.7L386.0 667.2ZM389.8 735.8L392.9 733.5L396.7 733.5L397.5 737.3L399.0 740.4L394.4 739.9L391.3 738.8ZM379.1 736.8L382.1 735.0L384.0 737.5ZM349.9 687.9L351.6 687.9L351.6 689.9L350.1 689.9ZM405.9 715.7L408.0 715.7L408.0 716.9L405.9 716.9Z"/></g></g>
<g id="PathCollection_2"/>
<g id="matplotlib.axis_1">
<g id="xtick_23">
<g id="line2d_26">
<defs>
<path id="m482b6af915" d="M 0 0 
L 0 3.5 
" style="stroke: #000000; stroke-width: 0.8"/>
</defs>
<g>
<use href="#m482b6af915" x="218.52" y="577.08" style="stroke: #000000; stroke-width: 0.8"/>
</g>
</g>
<g id="text_28">
<text style="font-size: 10px; font-family: 'Liberation Sans', sans-serif; text-anchor: middle" x="218.30" y="591.31" transform="rotate(-0 218.30 591.31)" textLength="27.47" lengthAdjust="spacingAndGlyphs">−500</text>
</g>
</g>
<g id="xtick_24">
<g id="line2d_27">
<g>
<use href="#m482b6af915" x="253.80" y="577.08" style="stroke: #000000; stroke-width: 0.8"/>
</g>
</g>
<g id="text_29">
<text style="font-size: 10px; font-family: 'Liberation Sans', sans-serif; text-anchor: middle" x="253.63" y="591.31" transform="rotate(-0 253.63 591.31)" textLength="6.36" lengthAdjust="spacingAndGlyphs">0</text>
</g>
</g>
<g id="xtick_25">
<g id="line2d_28">
<g>
<use href="#m482b6af915" x="289.08" y="577.08" style="stroke: #000000; stroke-width: 0.8"/>
</g>
</g>
<g id="text_30">
<text style="font-size: 10px; font-family: 'Liberation Sans', sans-serif; text-anchor: middle" x="288.96" y="591.31" transform="rotate(-0 288.96 591.31)" textLength="19.09" lengthAdjust="spacingAndGlyphs">500</text>
</g>
</g>
<g id="text_31">
<text style="font-size: 10px; font-family: 'Liberation Sans', sans-serif; text-anchor: middle" x="253.56" y="604.99" transform="rotate(-0 253.56 604.99)" textLength="33.07" lengthAdjust="spacingAndGlyphs">X (cm)</text>
</g>
</g>
<g id="matplotlib.axis_2">
<g id="ytick_1">
<g id="line2d_29">
<defs>
<path id="mc29566de9e" d="M 0 0 
L -3.5 0 
" style="stroke: #000000; stroke-width: 0.8"/>
</defs>
<g>
<use href="#mc29566de9e" x="206.28" y="564.84" style="stroke: #000000; stroke-width: 0.8"/>
</g>
</g>
<g id="text_32">
<text style="font-size: 10px; font-family: 'Liberation Sans', sans-serif; text-anchor: end" x="198.86" y="568.36" transform="rotate(-0 198.86 568.36)" textLength="27.47" lengthAdjust="spacingAndGlyphs">−500</text>
</g>
</g>
<g id="ytick_2">
<g id="line2d_30">
<g>
<use href="#mc29566de9e" x="206.28" y="529.56" style="stroke: #000000; stroke-width: 0.8"/>
</g>
</g>
<g id="text_33">
<text style="font-size: 10px; font-family: 'Liberation Sans', sans-serif; text-anchor: end" x="198.86" y="533.03" transform="rotate(-0 198.86 533.03)" textLength="6.36" lengthAdjust="spacingAndGlyphs">0</text>
</g>
</g>
<g id="ytick_3">
<g id="line2d_31">
<g>
<use href="#mc29566de9e" x="206.28" y="494.28" style="stroke: #000000; stroke-width: 0.8"/>
</g>
</g>
<g id="text_34">
<text style="font-size: 10px; font-family: 'Liberation Sans', sans-serif; text-anchor: end" x="198.86" y="497.70" transform="rotate(-0 198.86 497.70)" textLength="19.09" lengthAdjust="spacingAndGlyphs">500</text>
</g>
</g>
<g id="text_35">
<text style="font-size: 10px; font-family: 'Liberation Sans', sans-serif; text-anchor: middle" x="165.32" y="529.2" transform="rotate(-90 165.32 529.2)" textLength="32.33" lengthAdjust="spacingAndGlyphs">Y (cm)</text>
</g>
</g>
<g id="patch_8">
<path d="M 206.28 577.08 L 206.28 482.04" style="fill: none; stroke: #000000; stroke-width: 0.8; stroke-linejoin: miter; stroke-linecap: square"/>
</g>
<g id="patch_9">
<path d="M 301.32 577.08 L 301.32 482.04" style="fill: none; stroke: #000000; stroke-width: 0.8; stroke-linejoin: miter; stroke-linecap: square"/>
</g>
<g id="patch_10">
<path d="M 206.28 577.08 L 301.32 577.08" style="fill: none; stroke: #000000; stroke-width: 0.8; stroke-linejoin: miter; stroke-linecap: square"/>
</g>
<g id="patch_11">
<path d="M 206.28 482.04 L 301.32 482.04" style="fill: none; stroke: #000000; stroke-width: 0.8; stroke-linejoin: miter; stroke-linecap: square"/>
</g>
<g id="text_36">
<text style="font-size: 12px; font-family: 'Liberation Sans', sans-serif; text-anchor: middle" x="253.56" y="475.68" transform="rotate(-0 253.56 475.68)" textLength="200.12" lengthAdjust="spacingAndGlyphs">LiDAR Point 2D Coordinate Graph</text>
</g>
<g id="legend_2">
<g id="patch_12">
<path d="M 313.03 519.03 
L 370.53 519.03 
Q 372.53 519.03 372.53 517.03 
L 372.53 488.68 
Q 372.53 486.68 370.53 486.68 
L 313.03 486.68 
Q 311.03 486.68 311.03 488.68 
L 311.03 517.03 
Q 311.03 519.03 313.03 519.03 
z
" style="fill: #ffffff; opacity: 0.8; stroke: #cccccc; stroke-linejoin: miter"/>
</g>
<g id="PathCollection_3">
<g>
<use href="#m26ed521848" x="325.08" y="495.72" style="fill: #90ee90; stroke: #90ee90"/>
</g>
</g>
<g id="text_37">
<text style="font-size: 10px; font-family: 'Liberation Sans', sans-serif; text-anchor: start" x="343.03" y="498.27" transform="rotate(-0 343.03 498.27)" textLength="25.50" lengthAdjust="spacingAndGlyphs">point</text>
</g>
<g id="PathCollection_4">
<defs>
<path id="m7f373dbf50" d="M 0 3 
C 0.79 3 1.55 2.68 2.12 2.12 
C 2.68 1.55 3 0.79 3 0 
C 3 -0.79 2.68 -1.55 2.12 -2.12 
C 1.55 -2.68 0.79 -3 0 -3 
C -0.79 -3 -1.55 -2.68 -2.12 -2.12 
C -2.68 -1.55 -3 -0.79 -3 0 
C -3 0.79 -2.68 1.55 -2.12 2.12 
C -1.55 2.68 -0.79 3 0 3 
z
" style="stroke: #0000ff"/>
</defs>
<g>
<use href="#m7f373dbf50" x="325.08" y="510.84" style="fill: #0000ff; stroke: #0000ff"/>
</g>
</g>
<g id="text_38">
<text style="font-size: 10px; font-family: 'Liberation Sans', sans-serif; text-anchor: start" x="343.03" y="512.95" transform="rotate(-0 343.03 512.95)" textLength="19.86" lengthAdjust="spacingAndGlyphs">wall</text>
</g>
</g>
</g>
<g id="axes_3">
<g id="patch_13">
<path d="M 486.72 576.72 L 777.60 576.72 L 777.60 481.68 L 486.72 481.68 z" style="fill: #ffffff"/>
</g>
<g id="patch_14">
<path d="M 497.52 576.72 L 508.32 576.72 L 508.32 575.28 L 497.52 575.28 z" clip-path="url(#pb28d6cc463)" style="fill: #0000ff"/>
</g>
<g id="patch_15">
<path d="M 508.32 576.72 L 519.84 576.72 L 519.84 573.84 L 508.32 573.84 z" clip-path="url(#pb28d6cc463)" style="fill: #0000ff"/>
</g>
<g id="patch_16">
<path d="M 519.84 576.72 L 530.64 576.72 L 530.64 570.96 L 519.84 570.96 z" clip-path="url(#pb28d6cc463)" style="fill: #0000ff"/>
</g>
<g id="patch_17">
<path d="M 530.64 576.72 L 541.44 576.72 L 541.44 573.12 L 530.64 573.12 z" clip-path="url(#pb28d6cc463)" style="fill: #0000ff"/>
</g>
<g id="patch_18">
<path d="M 541.44 576.72 L 552.96 576.72 L 552.96 575.28 L 541.44 575.28 z" clip-path="url(#pb28d6cc463)" style="fill: #0000ff"/>
</g>
<g id="patch_19">
<path d="M 552.96 576.72 L 563.76 576.72 L 563.76 574.56 L 552.96 574.56 z" clip-path="url(#pb28d6cc463)" style="fill: #0000ff"/>
</g>
<g id="patch_20">
<path d="M 563.76 576.72 L 575.28 576.72 L 575.28 570.24 L 563.76 570.24 z" clip-path="url(#pb28d6cc463)" style="fill: #0000ff"/>
</g>
<g id="patch_21">
<path d="M 575.28 576.72 L 586.08 576.72 L 586.08 527.76 L 575.28 527.76 z" clip-path="url(#pb28d6cc463)" style="fill: #0000ff"/>
</g>
<g id="patch_22">
<path d="M 586.08 576.72 L 597.60 576.72 L 597.60 486.00 L 586.08 486.00 z" clip-path="url(#pb28d6cc463)" style="fill: #0000ff"/>
</g>
<g id="patch_23">
<path d="M 597.60 576.72 L 608.40 576.72 L 608.40 542.88 L 597.60 542.88 z" clip-path="url(#pb28d6cc463)" style="fill: #0000ff"/>
</g>
<g id="matplotlib.axis_3">
<g id="xtick_26">
<g id="line2d_32">
<g>
<use href="#m482b6af915" x="487.08" y="577.08" style="stroke: #000000; stroke-width: 0.8"/>
</g>
</g>
<g id="text_39">
<text style="font-size: 10px; font-family: 'Liberation Sans', sans-serif; text-anchor: middle" x="486.46" y="591.31" transform="rotate(-0 486.46 591.31)" textLength="6.36" lengthAdjust="spacingAndGlyphs">0</text>
</g>
</g>
<g id="xtick_27">
<g id="line2d_33">
<g>
<use href="#m482b6af915" x="523.08" y="577.08" style="stroke: #000000; stroke-width: 0.8"/>
</g>
</g>
<g id="text_40">
<text style="font-size: 10px; font-family: 'Liberation Sans', sans-serif; text-anchor: middle" x="522.99" y="591.31" transform="rotate(-0 522.99 591.31)" textLength="19.09" lengthAdjust="spacingAndGlyphs">100</text>
</g>
</g>
<g id="xtick_28">
<g id="line2d_34">
<g>
<use href="#m482b6af915" x="559.80" y="577.08" style="stroke: #000000; stroke-width: 0.8"/>
</g>
</g>
<g id="text_41">
<text style="font-size: 10px; font-family: 'Liberation Sans', sans-serif; text-anchor: middle" x="559.52" y="591.31" transform="rotate(-0 559.52 591.31)" textLength="19.09" lengthAdjust="spacingAndGlyphs">200</text>
</g>
</g>
<g id="xtick_29">
<g id="line2d_35">
<g>
<use href="#m482b6af915" x="596.52" y="577.08" style="stroke: #000000; stroke-width: 0.8"/>
</g>
</g>
<g id="text_42">
<text style="font-size: 10px; font-family: 'Liberation Sans', sans-serif; text-anchor: middle" x="596.05" y="591.31" transform="rotate(-0 596.05 591.31)" textLength="19.09" lengthAdjust="spacingAndGlyphs">300</text>
</g>
</g>
<g id="xtick_30">
<g id="line2d_36">
<g>
<use href="#m482b6af915" x="633.24" y="577.08" style="stroke: #000000; stroke-width: 0.8"/>
</g>
</g>
<g id="text_43">
<text style="font-size: 10px; font-family: 'Liberation Sans', sans-serif; text-anchor: middle" x="632.58" y="591.31" transform="rotate(-0 632.58 591.31)" textLength="19.09" lengthAdjust="spacingAndGlyphs">400</text>
</g>
</g>
<g id="xtick_31">
<g id="line2d_37">
<g>
<use href="#m482b6af915" x="669.24" y="577.08" style="stroke: #000000; stroke-width: 0.8"/>
</g>
</g>
<g id="text_44">
<text style="font-size: 10px; font-family: 'Liberation Sans', sans-serif; text-anchor: middle" x="669.11" y="591.31" transform="rotate(-0 669.11 591.31)" textLength="19.09" lengthAdjust="spacingAndGlyphs">500</text>
</g>
</g>
<g id="xtick_32">
<g id="line2d_38">
<g>
<use href="#m482b6af915" x="705.96" y="577.08" style="stroke: #000000; stroke-width: 0.8"/>
</g>
</g>
<g id="text_45">
<text style="font-size: 10px; font-family: 'Liberation Sans', sans-serif; text-anchor: middle" x="705.63" y="591.31" transform="rotate(-0 705.63 591.31)" textLength="19.09" lengthAdjust="spacingAndGlyphs">600</text>
</g>
</g>
<g id="xtick_33">
<g id="line2d_39">
<g>
<use href="#m482b6af915" x="742.68" y="577.08" style="stroke: #000000; stroke-width: 0.8"/>
</g>
</g>
<g id="text_46">
<text style="font-size: 10px; font-family: 'Liberation Sans', sans-serif; text-anchor: middle" x="742.16" y="591.31" transform="rotate(-0 742.16 591.31)" textLength="19.09" lengthAdjust="spacingAndGlyphs">700</text>
</g>
</g>
</g>
<g id="matplotlib.axis_4">
<g id="ytick_4">
<g id="line2d_40">
<g>
<use href="#mc29566de9e" x="487.08" y="577.08" style="stroke: #000000; stroke-width: 0.8"/>
</g>
</g>
<g id="text_47">
<text style="font-size: 10px; font-family: 'Liberation Sans', sans-serif; text-anchor: end" x="479.46" y="580.51" transform="rotate(-0 479.46 580.51)" textLength="6.36" lengthAdjust="spacingAndGlyphs">0</text>
</g>
</g>
<g id="ytick_5">
<g id="line2d_41">
<g>
<use href="#mc29566de9e" x="487.08" y="530.28" style="stroke: #000000; stroke-width: 0.8"/>
</g>
</g>
<g id="text_48">
<text style="font-size: 10px; font-family: 'Liberation Sans', sans-serif; text-anchor: end" x="479.46" y="533.98" transform="rotate(-0 479.46 533.98)" textLength="25.45" lengthAdjust="spacingAndGlyphs">2000</text>
</g>
</g>
<g id="ytick_6">
<g id="line2d_42">
<g>
<use href="#mc29566de9e" x="487.08" y="484.20" style="stroke: #000000; stroke-width: 0.8"/>
</g>
</g>
<g id="text_49">
<text style="font-size: 10px; font-family: 'Liberation Sans', sans-serif; text-anchor: end" x="479.46" y="487.44" transform="rotate(-0 479.46 487.44)" textLength="25.45" lengthAdjust="spacingAndGlyphs">4000</text>
</g>
</g>
</g>
<g id="patch_24">
<path d="M 487.08 577.08 L 487.08 482.04" style="fill: none; stroke: #000000; stroke-width: 0.8; stroke-linejoin: miter; stroke-linecap: square"/>
</g>
<g id="patch_25">
<path d="M 777.96 577.08 L 777.96 482.04" style="fill: none; stroke: #000000; stroke-width: 0.8; stroke-linejoin: miter; stroke-linecap: square"/>
</g>
<g id="patch_26">
<path d="M 487.08 577.08 L 777.96 577.08" style="fill: none; stroke: #000000; stroke-width: 0.8; stroke-linejoin: miter; stroke-linecap: square"/>
</g>
<g id="patch_27">
<path d="M 487.08 482.04 L 777.96 482.04" style="fill: none; stroke: #000000; stroke-width: 0.8; stroke-linejoin: miter; stroke-linecap: square"/>
</g>
<g id="text_50">
<text style="font-size: 12px; font-family: 'Liberation Sans', sans-serif; text-anchor: middle" x="632.03" y="475.68" transform="rotate(-0 632.03 475.68)" textLength="105.74" lengthAdjust="spacingAndGlyphs">Height Histogram</text>
</g>
<g id="legend_3">
<g id="patch_28">
<path d="M 705.54 504.35 
L 770.6 504.35 
Q 772.6 504.35 772.6 502.35 
L 772.6 488.68 
Q 772.6 486.68 770.6 486.68 
L 705.54 486.68 
Q 703.54 486.68 703.54 488.68 
L 703.54 502.35 
Q 703.54 504.35 705.54 504.35 
z
" style="fill: #ffffff; opacity: 0.8; stroke: #cccccc; stroke-linejoin: miter"/>
</g>
<g id="patch_29">
<path d="M 707.76 498.24 L 727.20 498.24 L 727.20 491.04 L 707.76 491.04 z" style="fill: #0000ff"/>
</g>
<g id="text_51">
<text style="font-size: 10px; font-family: 'Liberation Sans', sans-serif; text-anchor: start" x="735.54" y="498.27" transform="rotate(-0 735.54 498.27)" textLength="33.06" lengthAdjust="spacingAndGlyphs">Height</text>
</g>
</g>
</g>
</g>
<defs>
<clipPath id="pb0daf45731">
<rect x="252.72" y="77.76" width="380.16" height="380.16"/>
</clipPath>
<clipPath id="p66bb2b4eb1">
<rect x="205.86" y="481.68" width="95.39" height="95.04"/>
</clipPath>
<clipPath id="pb28d6cc463">
<rect x="486.46" y="481.68" width="291.13" height="95.04"/>
</clipPath>
</defs>
</svg>

</body></html>
